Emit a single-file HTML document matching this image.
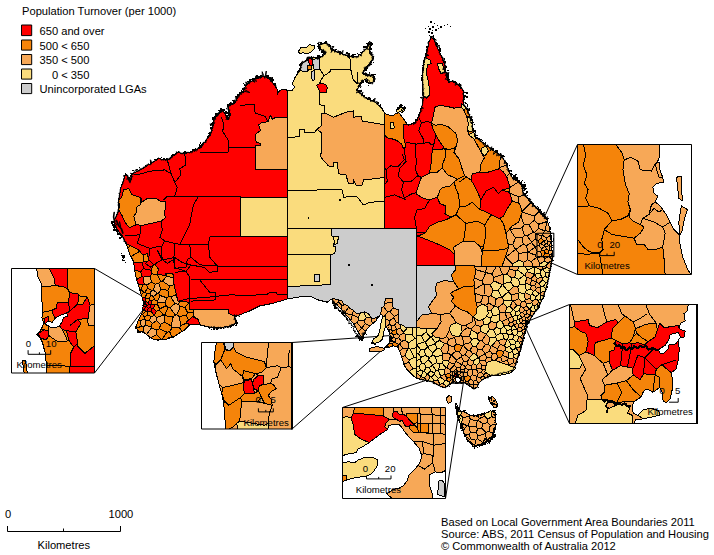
<!DOCTYPE html>
<html><head><meta charset="utf-8"><title>Population Turnover</title>
<style>
html,body{margin:0;padding:0;background:#fff}
svg{display:block}
text{font-family:"Liberation Sans",sans-serif;fill:#000}
.t{font-size:11.15px}
.s{font-size:9.6px}
polygon,polyline,path,line,rect{stroke-linejoin:round}
.b{stroke:#000;stroke-width:1}
.n{stroke:none}
.ln{fill:none;stroke:#000;stroke-width:1}
</style></head><body>
<svg width="714" height="555" viewBox="0 0 714 555">
<rect x="0" y="0" width="714" height="555" fill="#fff" stroke="none"/>

<g id="leaders"><line class="ln" x1="94.5" y1="268.5" x2="141.5" y2="295.8"/><line class="ln" x1="94.5" y1="373" x2="142.8" y2="310.2"/><line class="ln" x1="292" y1="342.5" x2="389.5" y2="335.6"/><line class="ln" x1="292" y1="429" x2="386.5" y2="346"/><line class="ln" x1="342.5" y1="407.5" x2="452.4" y2="371.8"/><line class="ln" x1="445.5" y1="498.5" x2="463.3" y2="383.3"/><line class="ln" x1="569.5" y1="304.5" x2="526" y2="322"/><line class="ln" x1="569.5" y1="423.5" x2="526" y2="328.7"/><line class="ln" x1="577.5" y1="144.5" x2="537" y2="233.3"/><line class="ln" x1="577.5" y1="274.5" x2="537" y2="256.6"/></g>
<g id="map" shape-rendering="crispEdges">
<polygon class="b" fill="#ff0000" points="287.2,90.3 284.4,89.2 281.0,90.0 279.0,91.4 277.5,94.0 277.8,90.0 275.7,87.0 271.4,80.5 264.9,76.2 256.2,78.4 250.8,81.6 245.4,86.0 243.3,91.4 237.9,95.7 236.5,100.0 234.6,103.3 228.1,106.5 230.3,114.0 228.1,119.5 223.8,111.9 222.7,109.7 219.5,113.0 214.0,118.4 213.0,124.9 210.8,133.5 206.5,140.0 200.0,148.0 196.0,150.0 185.0,153.7 177.0,152.5 171.0,158.0 167.3,160.0 158.6,158.7 152.4,162.5 142.4,168.7 132.4,173.7 130.0,182.0 127.4,175.5 125.0,176.0 121.0,187.4 118.7,200.0 118.7,210.0 113.7,222.3 117.5,230.0 122.4,236.0 126.0,243.5 130.0,254.7 133.7,262.0 135.0,272.4 137.4,282.4 141.0,293.6 143.6,302.4 142.4,312.3 137.4,322.3 136.0,327.3 138.6,331.0 143.6,332.3 150.0,337.3 154.8,339.8 164.8,339.8 174.8,336.0 184.8,329.8 189.7,324.8 199.7,324.8 209.7,327.3 219.7,327.8 229.7,326.0 235.9,323.5 234.6,317.3 239.6,314.8 249.6,311.0 259.6,306.0 272.5,303.4 287.4,299.0 287.3,299.0 287.3,90.3"/>
<polygon class="b" fill="#fadc7d" points="384.6,113.5 384.0,112.1 380.7,107.2 374.2,101.5 367.7,99.1 361.2,94.2 357.2,90.2 358.8,85.3 362.9,80.4 366.9,78.8 368.5,83.7 373.4,82.0 373.4,75.6 367.5,75.4 362.9,73.9 364.5,69.1 370.2,63.4 373.4,57.7 369.4,52.0 370.2,47.2 371.0,42.3 366.1,48.8 361.2,53.7 356.4,56.9 349.9,56.9 343.4,54.5 336.9,52.0 332.0,50.4 329.6,45.5 325.6,43.1 318.3,44.7 320.7,48.8 325.6,52.8 323.1,56.1 319.1,57.7 309.3,57.7 304.5,61.8 300.4,65.0 300.4,69.9 298.0,73.1 294.7,78.0 292.3,83.7 294.5,87.0 292.3,90.2 287.2,90.3 287.3,90.3 287.3,228.5 384.6,228.5"/>
<polygon class="b" fill="#cccccc" points="287.3,228.5 416.6,228.5 416.6,327.7 405.6,327.7 403.1,325.2 399.0,324.3 398.6,309.4 393.2,308.6 392.3,298.6 385.4,298.6 384.0,306.1 381.6,307.8 380.7,313.6 379.9,315.2 376.6,317.7 371.6,318.5 369.1,314.4 365.0,311.9 361.7,312.7 356.7,313.6 353.4,310.2 350.0,308.6 347.6,305.3 343.4,304.4 342.6,301.1 337.6,299.5 332.3,298.6 327.3,302.2 317.3,299.7 309.9,296.0 297.4,297.2 287.3,299.0"/>
<polygon class="b" fill="#f5840a" points="552.0,260.0 552.0,249.7 550.8,237.3 549.6,227.3 547.0,219.8 542.0,214.8 535.9,207.3 529.0,200.5 523.2,193.3 521.8,184.7 517.0,181.0 513.1,178.9 510.5,174.0 508.8,170.3 505.9,163.1 501.6,155.9 494.4,151.5 487.2,145.8 481.5,141.5 478.5,139.0 474.8,137.2 472.3,127.2 469.8,116.0 466.0,108.0 463.5,104.8 464.0,98.0 463.5,91.0 459.8,86.1 452.3,81.1 448.6,82.3 446.5,76.0 444.9,64.9 441.0,55.0 437.4,47.4 433.7,38.7 431.2,37.5 428.7,42.4 426.2,55.0 423.7,62.4 422.4,77.3 423.7,92.3 422.4,104.8 418.7,117.2 413.7,124.7 407.5,124.7 403.4,118.5 398.4,112.2 392.0,116.0 384.6,113.5 384.6,228.5 416.6,228.5 416.6,266.0 545.0,266.0 552.0,260.0"/>
<polygon class="b" fill="#f7a857" points="416.6,266.0 545.0,266.0 552.0,260.0 549.6,272.5 547.0,285.0 543.4,297.4 538.4,307.4 532.2,316.0 527.2,324.8 524.7,332.3 522.2,342.3 519.7,352.3 517.2,359.7 514.7,367.2 511.0,371.0 499.7,373.5 489.8,376.0 482.3,379.7 479.0,383.0 477.3,386.9 474.0,389.1 469.5,385.8 463.9,382.4 458.0,383.0 453.0,381.5 450.4,384.1 444.8,387.5 438.1,385.2 432.5,381.8 422.4,379.7 417.0,378.2 416.6,378.2"/>
<polygon class="b" fill="#f7a857" points="287.3,117.3 275.7,117.3 272.5,119.5 270.3,115.2 268.1,121.6 261.6,122.7 258.4,124.9 260.6,130.3 255.2,134.6 256.2,142.2 260.6,143.3 260.6,145.4 255.2,145.4 255.2,169.0 287.3,169.0"/>
<polygon class="b" fill="#fadc7d" points="240.9,197.4 287.3,197.4 287.3,236.8 240.9,236.8"/>
<polygon class="b" fill="#f5840a" points="123.7,189.5 128.8,188.8 131.7,194.6 141.0,197.5 140.3,204.7 136.0,207.6 136.0,213.3 133.8,216.2 136.0,224.8 129.5,227.7 125.9,223.4 121.6,214.8 118.7,210.0 119.4,206.1 118.7,200.0 121.6,197.5"/>
<polygon class="b" fill="#f7a857" points="141.0,197.5 141.0,202.5 146.8,198.9 155.4,198.2 160.5,201.1 165.5,201.8 165.5,209.0 164.1,211.9 165.5,217.6 161.2,221.2 154.0,222.7 141.0,225.6 136.0,224.1 133.8,216.2 136.0,213.3 136.0,207.6 140.3,204.7"/>
<polygon class="b" fill="#f7a857" points="193.5,309.8 228.4,309.8 228.4,313.5 234.6,316.0 234.6,317.3 235.9,323.5 229.7,326.0 219.7,327.8 209.7,327.3 199.7,324.8 198.5,319.8 193.5,316.0"/>
<polygon class="b" fill="#f7a857" points="324.4,113.0 326.0,113.5 333.5,117.2 346.0,112.2 353.5,111.0 353.5,117.2 361.0,116.0 362.2,121.0 384.6,124.7 384.6,177.4 363.5,180.0 362.2,185.0 356.0,185.0 353.5,180.0 353.5,183.7 348.5,183.7 346.0,175.0 338.5,173.7 337.3,162.5 333.5,162.5 333.5,166.0 328.6,166.0 321.0,157.5 321.1,132.5 316.8,129.2 321.1,126.0 321.1,114.0"/>
<polygon class="b" fill="#fadc7d" points="298.0,52.0 301.2,47.2 306.1,48.0 309.3,44.7 314.2,45.5 314.2,48.8 311.0,52.0 307.7,53.7 302.8,52.8 300.4,53.7"/>
<polygon class="b" fill="#cccccc" points="300.4,65.0 304.5,61.8 309.3,59.3 309.3,69.9 306.9,71.5 302.8,71.5 300.4,69.9"/>
<polygon class="b" fill="#cccccc" points="311.8,59.3 319.9,58.5 319.9,69.1 314.2,69.9 313.4,65.0"/>
<polygon class="b" fill="#cccccc" points="311.0,71.5 314.2,70.7 315.0,79.6 312.6,80.4 311.0,75.6"/>
<polygon class="b" fill="#ff0000" points="308.5,59.3 311.8,57.7 312.6,65.0 309.3,65.0"/>
<polygon class="b" fill="#f5840a" points="307.7,65.8 311.0,65.8 311.0,69.9 307.7,69.9"/>
<polygon class="b" fill="#ff0000" points="316.6,85.3 320.7,82.9 325.6,84.5 327.2,87.7 326.4,92.6 319.9,92.6 318.3,88.5"/>
<polygon class="b" fill="#fadc7d" points="287.3,228.5 331.8,228.5 331.8,236.0 334.8,237.3 333.5,246.0 336.0,247.2 334.8,253.5 330.6,254.7 287.3,254.7"/>
<polygon class="b" fill="#fadc7d" points="287.3,254.7 330.6,254.7 330.6,284.6 287.3,286.6"/>
<polygon class="b" fill="#cccccc" points="314.4,274.7 319.3,274.7 319.3,281.6 314.4,281.6"/>
<polygon class="b" fill="#ff0000" points="403.4,124.3 408.8,125.2 415.0,122.5 418.7,116.2 421.4,107.2 422.4,104.8 423.7,92.3 422.4,77.3 423.7,62.4 426.2,55.0 428.7,42.4 431.2,37.5 433.7,38.7 437.4,47.4 441.0,55.0 444.9,64.9 446.5,76.0 448.6,82.3 452.3,81.1 459.8,86.1 463.5,91.0 464.0,98.0 463.5,104.8 461.0,107.2 453.9,108.1 446.7,106.3 439.5,105.4 435.0,107.2 433.2,116.2 431.4,123.4 433.2,129.7 435.9,135.1 439.5,141.4 444.0,147.7 441.3,149.5 432.3,149.5 431.4,161.3 429.5,173.0 421.4,177.5 418.7,184.7 416.0,193.7 421.4,197.3 428.7,200.0 437.4,197.4 439.9,203.6 446.0,206.0 444.9,213.6 451.0,217.3 446.0,219.8 437.4,222.3 429.9,226.0 424.9,233.5 417.5,236.0 433.7,242.3 449.9,249.7 454.8,254.7 454.8,266.0 416.6,266.0 416.6,228.5 384.6,228.5 384.6,134.7 387.2,137.8 391.7,138.7 397.0,140.5 401.6,144.0 403.4,148.6 406.0,146.8 403.4,136.0"/>
<polygon class="b" fill="#fadc7d" points="390.0,122.5 393.5,122.5 394.4,128.0 390.8,128.8"/>
<polygon class="b" fill="#fadc7d" points="424.9,57.4 429.9,60.0 431.2,63.6 427.4,64.9 426.2,73.6 428.7,82.3 429.9,94.8 426.2,98.5 422.9,94.8 422.4,77.3 423.7,64.9"/>
<polygon class="b" fill="#fadc7d" points="437.4,63.6 442.4,63.6 444.9,72.3 441.0,73.6 438.6,68.6"/>
<polygon class="b" fill="#fadc7d" points="461.5,103.5 465.3,107.3 464.8,111.0 461.8,108.5"/>
<polygon class="b" fill="#fadc7d" points="467.3,116.0 472.3,119.7 472.3,131.0 468.6,132.0 466.8,124.7"/>
<polygon class="b" fill="#fadc7d" points="468.6,134.7 473.5,132.0 476.0,138.4 471.0,141.0"/>
<polygon class="b" fill="#fadc7d" points="481.0,148.4 486.0,146.0 488.5,151.0 484.8,156.0 481.8,153.4"/>
<polygon class="b" fill="#f7a857" points="435.0,107.2 439.5,105.4 446.7,106.3 453.9,108.1 461.0,107.2 463.8,110.0 466.5,116.2 468.3,123.4 467.4,130.6 469.2,135.1 473.7,138.7 477.3,145.0 481.0,152.3 484.5,157.7 481.0,163.7 479.8,172.4 472.3,173.7 471.0,180.0 464.7,175.7 462.0,168.5 459.3,159.5 453.9,152.3 456.6,146.0 457.5,139.6 455.7,133.3 448.5,127.0 441.3,124.3 435.9,125.2 431.4,123.4 433.2,116.2"/>
<polygon class="b" fill="#f7a857" points="429.5,173.0 437.7,172.0 442.2,167.6 447.6,174.8 452.0,176.6 457.5,179.3 453.9,182.0 449.9,186.0 442.2,187.5 439.9,190.0 437.4,197.4 428.7,200.0 421.4,197.3 416.0,193.7 418.7,184.7 421.4,177.5"/>
<polygon class="b" fill="#f7a857" points="453.6,247.2 463.6,241.0 473.5,241.0 479.8,246.0 482.3,252.2 481.0,266.0 454.8,266.0 454.8,254.7"/>
<polygon class="b" fill="#ff0000" points="472.3,173.7 479.8,172.4 487.3,172.4 494.8,170.0 499.7,168.7 503.8,172.4 507.0,177.4 509.5,183.2 509.7,188.0 502.2,190.0 498.5,193.6 493.5,187.4 486.0,191.1 481.0,199.9 474.8,186.2 471.0,180.0"/>
<polygon class="b" fill="#ff0000" points="481.0,199.9 486.0,191.1 493.5,187.4 498.5,193.6 502.2,190.0 509.7,192.4 512.2,201.1 507.2,208.6 503.5,216.0 499.7,218.6 491.0,214.8 484.8,211.1 479.8,209.8"/>
<polygon class="n" fill="#000" shape-rendering="crispEdges" points="430.5,32.0 432.5,32.0 432.5,34.0 430.5,34.0"/>
<polygon class="n" fill="#000" shape-rendering="crispEdges" points="429.3,28.3 430.7,28.3 430.7,29.7 429.3,29.7"/>
<polygon class="n" fill="#000" shape-rendering="crispEdges" points="432.2,26.2 433.8,26.2 433.8,27.8 432.2,27.8"/>
<polygon class="n" fill="#000" shape-rendering="crispEdges" points="435.4,29.4 436.6,29.4 436.6,30.6 435.4,30.6"/>
<polygon class="n" fill="#000" shape-rendering="crispEdges" points="437.9,27.9 439.1,27.9 439.1,29.1 437.9,29.1"/>
<polygon class="n" fill="#000" shape-rendering="crispEdges" points="440.4,26.4 441.6,26.4 441.6,27.6 440.4,27.6"/>
<polygon class="n" fill="#000" shape-rendering="crispEdges" points="443.5,24.5 444.5,24.5 444.5,25.5 443.5,25.5"/>
<polygon class="n" fill="#000" shape-rendering="crispEdges" points="446.5,24.0 447.5,24.0 447.5,25.0 446.5,25.0"/>
<polygon class="n" fill="#000" shape-rendering="crispEdges" points="427.5,25.5 428.5,25.5 428.5,26.5 427.5,26.5"/>
<polygon class="n" fill="#000" shape-rendering="crispEdges" points="430.4,21.4 431.6,21.4 431.6,22.6 430.4,22.6"/>
<polygon class="n" fill="#000" shape-rendering="crispEdges" points="433.5,22.5 434.5,22.5 434.5,23.5 433.5,23.5"/>
<polygon class="n" fill="#000" shape-rendering="crispEdges" points="428.6,34.6 430.4,34.6 430.4,36.4 428.6,36.4"/>
<polygon class="n" fill="#000" shape-rendering="crispEdges" points="424.5,27.5 425.5,27.5 425.5,28.5 424.5,28.5"/>
<polygon class="n" fill="#000" shape-rendering="crispEdges" points="449.5,25.5 450.5,25.5 450.5,26.5 449.5,26.5"/>
<polygon class="n" fill="#000" shape-rendering="crispEdges" points="436.5,24.5 437.5,24.5 437.5,25.5 436.5,25.5"/>
<polygon class="n" fill="#000" shape-rendering="crispEdges" points="431.8,29.8 433.2,29.8 433.2,31.2 431.8,31.2"/>
<polygon class="n" fill="#000" shape-rendering="crispEdges" points="428.4,31.4 429.6,31.4 429.6,32.6 428.4,32.6"/>
<polygon class="b" fill="#fadc7d" points="396.2,109.8 399.5,107.8 402.4,107.3 404.3,110.5 402.0,112.5 400.0,111.5 397.5,113.2"/>
<polygon class="n" fill="#000" points="338.8,199.0 340.8,199.0 340.8,201.0 338.8,201.0"/>
<polygon class="n" fill="#000" points="307.9,217.4 309.1,217.4 309.1,218.6 307.9,218.6"/>
<polygon class="n" fill="#000" points="348.4,264.4 350.2,264.4 350.2,266.2 348.4,266.2"/>
<polygon class="n" fill="#000" points="371.3,283.8 373.1,283.8 373.1,285.6 371.3,285.6"/>
<polygon class="n" fill="#000" points="427.4,289.6 429.2,289.6 429.2,291.4 427.4,291.4"/>
<polygon class="n" fill="#000" points="420.7,300.0 422.3,300.0 422.3,301.6 420.7,301.6"/>
<polygon class="b" fill="#fadc7d" points="333.5,236.8 338.5,236.8 337.3,243.5 334.8,244.7"/>
<polygon class="b" fill="#f7a857" points="506.6,274.2 509.7,268.8 508.8,266.0 499.1,266.0 502.5,274.4 503.7,275.0"/>
<polygon class="b" fill="#f7a857" points="490.9,310.6 494.2,306.1 488.8,303.1 485.2,305.5 487.3,306.7 487.3,306.7 487.3,306.7 487.3,306.7 487.3,306.7 487.3,306.7 487.3,306.7 487.3,306.7 487.3,306.7 487.3,306.7 487.8,310.4"/>
<polygon class="b" fill="#f7a857" points="476.5,369.3 476.9,368.7 476.6,365.1 473.2,363.6 471.0,365.8 471.4,369.3 472.5,370.1"/>
<polygon class="b" fill="#fadc7d" points="494.9,305.9 494.2,306.1 490.9,310.6 492.9,315.2 499.0,314.9 500.2,313.0 498.1,307.4"/>
<polygon class="b" fill="#f7a857" points="549.0,262.6 546.8,264.5 546.8,267.3 550.2,269.3 551.3,263.9"/>
<polygon class="b" fill="#fadc7d" points="530.1,298.8 532.2,301.2 535.7,299.1 535.8,296.7 532.3,294.2 530.6,295.1"/>
<polygon class="b" fill="#f7a857" points="456.2,367.5 460.2,367.4 461.5,364.6 456.2,361.4 454.4,363.8 454.4,365.2"/>
<polygon class="b" fill="#f7a857" points="498.1,307.4 500.2,313.0 504.7,312.6 505.2,312.2 506.9,307.2 503.6,303.2"/>
<polygon class="b" fill="#f7a857" points="485.7,272.4 485.9,272.6 491.6,274.1 496.7,266.0 486.6,266.0"/>
<polygon class="b" fill="#f7a857" points="504.7,312.6 507.4,318.7 507.8,318.8 511.7,316.6 510.5,312.9 505.2,312.2"/>
<polygon class="b" fill="#f7a857" points="483.0,295.8 474.9,293.4 475.6,300.0 476.2,302.5 480.6,302.7"/>
<polygon class="b" fill="#f7a857" points="448.8,339.3 454.5,337.4 455.4,336.2 452.0,335.3 452.0,335.3 452.0,335.3 452.0,335.3 452.0,335.3 452.0,335.3 452.0,335.3 452.0,335.3 452.0,335.3 452.0,335.3 449.5,330.3 446.5,336.2"/>
<polygon class="b" fill="#f7a857" points="513.2,301.2 518.5,298.8 518.9,293.2 511.6,294.9 511.9,300.3 512.5,301.0"/>
<polygon class="b" fill="#fadc7d" points="476.1,354.1 473.0,353.9 469.2,357.8 469.4,358.8 473.0,361.1 478.2,357.5"/>
<polygon class="b" fill="#fadc7d" points="420.9,349.8 424.6,349.7 427.5,347.0 427.5,346.6 425.4,342.3 424.4,341.9 416.6,344.5 416.6,344.8"/>
<polygon class="b" fill="#fadc7d" points="516.7,334.9 518.7,336.9 520.5,336.8 523.3,333.7 521.6,331.6 518.0,331.5"/>
<polygon class="b" fill="#fadc7d" points="508.7,340.2 512.8,339.0 514.0,335.3 512.2,333.8 508.6,335.0 507.6,339.9"/>
<polygon class="b" fill="#fadc7d" points="499.0,314.9 492.9,315.2 490.6,318.0 491.1,321.3 496.1,322.9 500.0,320.3"/>
<polygon class="b" fill="#f7a857" points="485.5,344.6 481.7,340.9 479.5,340.9 476.3,346.5 478.1,349.4 482.0,349.5"/>
<polygon class="b" fill="#f7a857" points="524.3,293.4 525.2,299.3 530.1,298.8 530.6,295.1 525.3,292.8"/>
<polygon class="b" fill="#f7a857" points="467.5,350.2 469.7,350.1 473.0,346.1 470.5,342.5 463.5,344.4 463.1,345.2"/>
<polygon class="b" fill="#fadc7d" points="429.2,357.4 425.3,355.4 420.9,357.3 420.2,359.9 421.9,363.1 424.0,363.6 428.8,359.8"/>
<polygon class="b" fill="#f7a857" points="472.4,374.9 472.5,370.1 471.4,369.3 468.6,370.0 467.2,372.9 468.2,375.6 470.2,376.4"/>
<polygon class="b" fill="#f7a857" points="464.9,376.9 468.2,375.6 467.2,372.9 464.4,372.2 463.4,373.1 463.5,376.1"/>
<polygon class="b" fill="#fadc7d" points="545.1,276.4 542.4,277.8 542.7,280.0 545.7,282.9 547.4,282.9 548.5,277.8"/>
<polygon class="b" fill="#fadc7d" points="498.3,290.1 493.0,290.1 490.9,295.7 496.2,298.5 501.5,297.0"/>
<polygon class="b" fill="#f7a857" points="469.4,336.4 471.4,329.9 471.0,329.0 467.4,327.6 462.1,331.7 462.1,331.9 462.1,331.9 462.1,332.0 462.1,332.0 462.1,332.0 462.1,332.0 462.1,332.0 462.1,332.0 460.3,334.7 462.6,337.0"/>
<polygon class="b" fill="#f7a857" points="481.7,340.9 485.5,344.6 488.3,344.7 489.9,337.7 486.2,334.4"/>
<polygon class="b" fill="#fadc7d" points="430.5,337.1 425.4,342.3 427.5,346.6 435.1,343.8 435.5,342.6 431.2,337.1"/>
<polygon class="b" fill="#f7a857" points="416.7,284.3 416.7,272.9 416.6,272.9 416.6,284.3"/>
<polygon class="b" fill="#fadc7d" points="420.8,376.2 423.4,371.4 420.3,369.9 416.6,372.4 416.6,373.0"/>
<polygon class="b" fill="#f7a857" points="503.4,283.8 503.7,275.0 502.5,274.4 494.0,277.3 493.9,280.8 502.4,284.8 502.7,284.8"/>
<polygon class="b" fill="#f7a857" points="484.1,324.0 482.5,319.5 478.9,321.0 478.9,321.0 478.9,321.0 478.9,321.0 478.9,321.0 478.9,321.0 478.9,321.0 478.9,321.0 478.9,321.0 478.9,321.0 478.9,321.0 474.9,318.2 475.2,324.6 480.6,326.7"/>
<polygon class="b" fill="#f7a857" points="529.8,284.1 531.9,280.3 531.3,278.6 526.4,277.4 525.6,283.9"/>
<polygon class="b" fill="#f7a857" points="491.6,274.1 485.9,272.6 482.1,281.2 483.3,284.1 484.3,284.8 490.2,284.9 493.9,280.8 494.0,277.3"/>
<polygon class="b" fill="#fadc7d" points="435.7,356.7 436.5,362.7 439.5,363.9 441.9,363.0 443.2,360.6 442.1,355.2"/>
<polygon class="b" fill="#f7a857" points="491.0,357.9 486.9,357.7 485.4,360.4 486.5,363.0 486.5,362.5 486.5,362.5 486.5,362.5 486.5,362.5 486.5,362.5 486.5,362.5 486.5,362.5 486.5,362.5 486.5,362.5 486.5,362.5 486.6,362.5 486.6,362.5 492.8,360.5"/>
<polygon class="b" fill="#f7a857" points="451.1,354.9 451.4,354.9 455.3,351.6 454.2,346.4 448.9,345.7 447.7,353.0"/>
<polygon class="b" fill="#f7a857" points="508.7,364.8 507.5,360.5 502.3,361.4 501.7,362.8 508.5,365.3"/>
<polygon class="b" fill="#fadc7d" points="518.8,319.4 518.0,319.2 516.0,320.6 516.9,323.5 518.9,324.2 520.6,322.9"/>
<polygon class="b" fill="#f7a857" points="468.5,381.0 469.5,384.4 473.1,384.3 473.4,381.2 470.3,379.0"/>
<polygon class="b" fill="#fadc7d" points="513.7,286.6 517.6,286.9 519.7,284.3 518.6,279.4 514.8,277.1 511.9,278.1 510.6,281.8"/>
<polygon class="b" fill="#fadc7d" points="439.5,363.9 436.5,362.7 432.7,364.7 432.4,365.4 436.2,370.5 438.4,370.2 438.7,369.9"/>
<polygon class="b" fill="#f7a857" points="476.9,376.3 478.2,373.3 476.5,369.3 472.5,370.1 472.4,374.9"/>
<polygon class="b" fill="#fadc7d" points="530.7,289.2 531.2,285.7 529.8,284.1 525.6,283.9 524.8,284.5 526.4,290.5"/>
<polygon class="b" fill="#fadc7d" points="434.2,380.8 437.7,379.8 438.5,378.2 434.1,374.3 431.4,376.9"/>
<polygon class="b" fill="#f7a857" points="470.3,379.0 473.4,381.2 476.1,379.8 477.2,376.8 476.9,376.3 472.4,374.9 470.2,376.4"/>
<polygon class="b" fill="#fadc7d" points="486.1,333.9 489.6,329.4 487.9,324.9 484.1,324.0 480.6,326.7 481.0,331.5"/>
<polygon class="b" fill="#f7a857" points="483.3,284.1 482.1,281.2 474.4,277.9 473.9,279.8 474.7,285.7 474.7,285.7 474.7,289.2"/>
<polygon class="b" fill="#fadc7d" points="419.4,366.0 421.9,363.1 420.2,359.9 416.6,360.1 416.6,366.1"/>
<polygon class="b" fill="#fadc7d" points="511.9,330.3 512.2,333.8 514.0,335.3 516.7,334.9 518.0,331.5 516.8,329.1"/>
<polygon class="b" fill="#fadc7d" points="426.0,332.1 430.5,337.1 431.2,337.1 433.4,335.1 431.8,333.6 431.8,333.6 431.8,333.6 431.8,333.6 431.8,333.6 431.8,333.6 431.8,333.6 431.8,333.6 431.8,333.6 431.8,333.6 431.8,333.6 431.8,333.6 431.8,333.6 431.8,333.6 431.8,333.6 431.8,333.6 431.8,333.6 436.9,328.6 426.8,328.6 426.8,328.6 426.4,328.6"/>
<polygon class="b" fill="#f7a857" points="520.6,322.9 518.9,324.2 519.0,326.9 521.4,327.5 523.3,325.5 522.8,324.0 521.3,322.9"/>
<polygon class="b" fill="#fadc7d" points="502.2,321.5 500.0,320.3 496.1,322.9 496.3,327.4 500.9,328.8 503.9,326.4 504.0,325.9"/>
<polygon class="b" fill="#f7a857" points="489.8,351.0 490.4,346.2 488.3,344.7 485.5,344.6 482.0,349.5 485.0,353.6"/>
<polygon class="b" fill="#f7a857" points="541.1,292.2 540.1,293.7 541.1,295.0 543.8,295.9 545.3,291.0"/>
<polygon class="b" fill="#fadc7d" points="440.7,349.3 437.2,348.2 432.7,353.0 432.8,355.1 435.7,356.7 442.1,355.2 443.1,353.7"/>
<polygon class="b" fill="#fadc7d" points="443.2,383.6 446.4,386.5 449.5,384.6 449.1,382.2 446.1,379.9 444.7,380.3"/>
<polygon class="b" fill="#f7a857" points="475.2,324.6 474.9,318.2 473.0,316.8 472.2,321.9 472.2,321.9 472.2,321.9 472.2,321.9 472.2,321.9 472.2,321.9 472.2,321.9 472.2,321.9 472.2,321.9 472.2,321.9 472.2,321.9 466.2,324.9 467.4,327.6 471.0,329.0"/>
<polygon class="b" fill="#f7a857" points="497.9,349.9 497.5,348.6 491.9,345.9 490.4,346.2 489.8,351.0 492.3,353.7 496.0,353.4"/>
<polygon class="b" fill="#fadc7d" points="424.2,371.2 427.4,374.0 430.5,371.3 429.7,367.5 426.2,367.2"/>
<polygon class="b" fill="#f7a857" points="490.9,295.7 493.0,290.1 490.2,284.9 484.3,284.8 484.0,295.3 488.8,296.6"/>
<polygon class="b" fill="#fadc7d" points="541.1,270.2 539.9,273.0 541.9,277.5 542.4,277.8 545.1,276.4 546.1,272.8 542.4,269.5"/>
<polygon class="b" fill="#f7a857" points="525.3,317.2 527.6,317.9 530.3,315.2 530.0,314.6 527.1,313.6 524.8,315.3 524.6,316.5"/>
<polygon class="b" fill="#f7a857" points="482.0,365.4 481.0,368.4 482.2,370.0 485.2,369.8 486.1,365.0"/>
<polygon class="b" fill="#f7a857" points="460.2,367.4 461.0,369.1 464.0,369.5 465.6,368.1 465.6,366.6 461.8,364.5 461.5,364.6"/>
<polygon class="b" fill="#fadc7d" points="510.9,344.3 514.9,344.3 516.0,342.0 512.8,339.0 508.7,340.2"/>
<polygon class="b" fill="#fadc7d" points="516.0,342.0 514.9,344.3 515.9,348.1 516.1,348.1 521.1,346.5 519.2,342.2 517.4,341.4"/>
<polygon class="b" fill="#fadc7d" points="424.0,363.6 421.9,363.1 419.4,366.0 420.3,369.9 423.4,371.4 424.2,371.2 426.2,367.2"/>
<polygon class="b" fill="#fadc7d" points="505.5,347.4 504.9,350.3 509.1,352.6 512.2,351.6 512.7,350.2 509.5,346.7"/>
<polygon class="b" fill="#fadc7d" points="496.9,339.9 495.5,337.2 489.9,337.7 488.3,344.7 490.4,346.2 491.9,345.9"/>
<polygon class="b" fill="#f7a857" points="503.3,351.5 504.9,350.3 505.5,347.4 504.6,345.6 500.2,344.5 497.5,348.6 497.9,349.9"/>
<polygon class="b" fill="#f7a857" points="517.4,341.4 519.2,342.2 522.5,340.9 522.9,339.3 520.5,336.8 518.7,336.9"/>
<polygon class="b" fill="#fadc7d" points="504.0,300.9 511.9,300.3 511.6,294.9 508.2,291.7 502.0,297.2"/>
<polygon class="b" fill="#fadc7d" points="486.2,316.4 484.8,318.5 484.8,318.5 484.8,318.5 484.8,318.5 484.8,318.5 484.8,318.5 484.8,318.5 482.5,319.5 484.1,324.0 487.9,324.9 491.1,321.3 490.6,318.0"/>
<polygon class="b" fill="#f7a857" points="482.1,281.2 485.9,272.6 485.7,272.4 475.2,269.6 475.6,273.1 475.6,273.1 475.6,273.1 475.6,273.1 475.6,273.1 474.4,277.9"/>
<polygon class="b" fill="#f7a857" points="540.4,287.4 540.9,286.7 539.3,283.3 536.5,282.5 534.8,285.5 536.3,288.2"/>
<polygon class="b" fill="#f5840a" points="445.2,374.4 446.7,378.3 450.0,377.1 450.6,375.3 449.8,373.6"/>
<polygon class="b" fill="#fadc7d" points="420.2,359.9 420.9,357.3 418.4,353.7 416.6,353.6 416.6,360.1"/>
<polygon class="b" fill="#f7a857" points="526.4,277.4 531.3,278.6 534.3,274.7 534.3,274.3 527.2,271.6 524.9,275.0"/>
<polygon class="b" fill="#fadc7d" points="541.1,295.0 540.1,293.7 539.2,293.7 535.8,296.7 535.7,299.1 538.3,300.5 540.4,299.3"/>
<polygon class="b" fill="#f7a857" points="456.7,379.9 455.6,378.9 454.1,378.8 453.1,379.7 453.7,381.7 456.5,382.6"/>
<polygon class="b" fill="#f7a857" points="468.5,381.0 465.8,381.1 465.0,383.1 468.8,385.4 469.5,384.4"/>
<polygon class="b" fill="#f7a857" points="517.5,270.0 519.3,266.0 508.8,266.0 509.7,268.8 516.1,270.9"/>
<polygon class="b" fill="#fadc7d" points="515.9,315.2 512.7,316.9 514.0,320.2 516.0,320.6 518.0,319.2 516.9,315.7"/>
<polygon class="b" fill="#f7a857" points="461.2,357.0 461.8,355.5 459.5,352.0 455.3,351.6 451.4,354.9 456.4,360.0"/>
<polygon class="b" fill="#fadc7d" points="519.3,310.8 515.6,311.5 515.9,315.2 516.9,315.7 519.8,314.8 520.7,312.6"/>
<polygon class="b" fill="#f7a857" points="533.2,291.2 535.3,290.5 536.3,288.2 534.8,285.5 531.2,285.7 530.7,289.2"/>
<polygon class="b" fill="#f7a857" points="508.1,357.8 502.9,355.3 500.6,357.3 502.3,361.4 507.5,360.5 508.4,358.4"/>
<polygon class="b" fill="#fadc7d" points="508.2,291.3 513.7,286.6 510.6,281.8 503.4,283.8 502.7,284.8"/>
<polygon class="b" fill="#f7a857" points="442.1,355.2 443.2,360.6 448.5,361.0 451.1,354.9 447.7,353.0 443.1,353.7"/>
<polygon class="b" fill="#fadc7d" points="440.2,377.1 438.5,378.2 437.7,379.8 439.8,384.2 443.2,383.6 444.7,380.3"/>
<polygon class="b" fill="#f5840a" points="468.2,375.6 464.9,376.9 464.8,379.9 465.8,381.1 468.5,381.0 470.3,379.0 470.2,376.4"/>
<polygon class="b" fill="#fadc7d" points="539.3,283.3 540.9,286.7 543.4,286.4 545.7,282.9 542.7,280.0"/>
<polygon class="b" fill="#f7a857" points="504.0,300.9 502.0,297.2 501.5,297.0 496.2,298.5 494.9,305.9 498.1,307.4 503.6,303.2"/>
<polygon class="b" fill="#fadc7d" points="517.5,270.0 524.3,275.1 524.9,275.0 527.2,271.6 527.3,270.1 525.1,266.0 519.3,266.0"/>
<polygon class="b" fill="#fadc7d" points="426.0,332.1 426.4,328.6 417.3,327.8 416.6,328.2 416.6,335.0 421.4,335.8"/>
<polygon class="b" fill="#fadc7d" points="438.5,378.2 440.2,377.1 440.6,376.2 438.4,370.2 436.2,370.5 434.2,372.6 434.1,374.3"/>
<polygon class="b" fill="#f7a857" points="448.5,361.0 449.3,362.5 454.4,363.8 456.2,361.4 456.4,360.0 451.4,354.9 451.1,354.9"/>
<polygon class="b" fill="#f7a857" points="524.3,329.0 522.4,329.6 521.6,331.6 523.3,333.7 524.3,333.9 524.7,332.3 525.5,329.9"/>
<polygon class="b" fill="#f7a857" points="420.9,376.8 420.8,376.2 416.6,373.0 416.6,378.2 417.0,378.2 419.6,378.9"/>
<polygon class="b" fill="#f7a857" points="485.7,272.4 486.6,266.0 474.8,266.0 475.2,269.6"/>
<polygon class="b" fill="#fadc7d" points="524.8,284.5 519.7,284.3 517.6,286.9 519.3,292.8 524.3,293.4 525.3,292.8 526.4,290.5"/>
<polygon class="b" fill="#fadc7d" points="496.3,327.4 493.4,330.0 496.1,335.4 501.0,332.9 500.9,328.8"/>
<polygon class="b" fill="#fadc7d" points="477.0,338.3 477.5,333.6 471.4,329.9 469.4,336.4 471.5,339.2"/>
<polygon class="b" fill="#fadc7d" points="424.4,341.9 421.4,335.8 416.6,335.0 416.6,344.5"/>
<polygon class="b" fill="#f7a857" points="513.5,357.7 512.8,358.4 513.9,362.8 515.8,364.0 517.2,359.7 517.6,358.4"/>
<polygon class="b" fill="#f7a857" points="443.2,383.6 439.8,384.2 439.2,385.6 444.8,387.5 446.4,386.5"/>
<polygon class="b" fill="#f7a857" points="484.0,295.3 483.0,295.8 480.6,302.7 482.0,304.7 483.1,304.2 483.1,304.2 483.1,304.2 483.1,304.2 483.1,304.2 483.1,304.2 483.1,304.2 483.1,304.2 483.1,304.2 483.1,304.2 483.1,304.2 485.2,305.5 488.8,303.1 488.8,296.6"/>
<polygon class="b" fill="#f7a857" points="463.7,361.2 467.1,361.4 469.4,358.8 469.2,357.8 465.2,354.7 461.8,355.5 461.2,357.0"/>
<polygon class="b" fill="#f7a857" points="485.6,378.1 487.9,376.9 488.1,374.1 486.5,372.9 483.4,374.7 483.3,375.7"/>
<polygon class="b" fill="#fadc7d" points="493.9,280.8 490.2,284.9 493.0,290.1 498.3,290.1 502.4,284.8"/>
<polygon class="b" fill="#f7a857" points="499.0,314.9 500.0,320.3 502.2,321.5 507.4,318.7 504.7,312.6 500.2,313.0"/>
<polygon class="b" fill="#f7a857" points="439.6,340.4 444.5,343.4 446.9,343.1 448.8,339.3 446.5,336.2 446.1,337.0 446.1,337.0 446.1,337.0 446.1,337.0 446.1,337.0 446.1,337.0 446.1,337.0 446.1,337.0 442.8,338.7 442.8,338.7 442.8,338.7 442.8,338.7 442.8,338.7 442.8,338.7 442.8,338.7 442.8,338.7 439.8,338.0"/>
<polygon class="b" fill="#fadc7d" points="420.3,369.9 419.4,366.0 416.6,366.1 416.6,372.4"/>
<polygon class="b" fill="#f7a857" points="521.4,327.5 522.4,329.6 524.3,329.0 525.1,326.6 525.0,326.3 523.3,325.5"/>
<polygon class="b" fill="#f7a857" points="448.9,345.7 454.2,346.4 456.4,344.3 454.5,337.4 448.8,339.3 446.9,343.1"/>
<polygon class="b" fill="#f7a857" points="516.9,305.5 520.0,305.7 521.6,301.7 518.5,298.8 513.2,301.2"/>
<polygon class="b" fill="#f7a857" points="535.7,299.1 532.2,301.2 531.9,302.8 533.1,305.0 533.8,305.3 536.9,304.8 538.5,302.5 538.3,300.5"/>
<polygon class="b" fill="#f7a857" points="430.2,376.9 427.4,374.1 424.5,377.6 425.9,380.4 427.8,380.8"/>
<polygon class="b" fill="#fadc7d" points="434.2,380.8 431.4,376.9 430.2,376.9 427.8,380.8 432.5,381.8 433.2,382.2"/>
<polygon class="b" fill="#fadc7d" points="512.8,358.4 513.5,357.7 514.0,354.4 512.2,351.6 509.1,352.6 508.1,357.8 508.4,358.4"/>
<polygon class="b" fill="#f7a857" points="462.6,345.4 459.5,352.0 461.8,355.5 465.2,354.7 467.5,350.2 463.1,345.2"/>
<polygon class="b" fill="#f7a857" points="485.4,360.4 479.9,360.1 479.6,362.7 482.0,365.4 486.1,365.0 486.5,363.0"/>
<polygon class="b" fill="#f7a857" points="453.1,379.7 451.5,379.5 449.1,382.2 449.5,384.6 450.4,384.1 453.0,381.5 453.7,381.7"/>
<polygon class="b" fill="#f7a857" points="511.0,327.2 513.8,325.1 512.4,322.1 509.6,322.1 508.4,324.8"/>
<polygon class="b" fill="#f7a857" points="507.5,360.5 508.7,364.8 513.9,362.8 512.8,358.4 508.4,358.4"/>
<polygon class="b" fill="#fadc7d" points="535.0,267.0 534.3,274.3 539.9,273.0 541.1,270.2"/>
<polygon class="b" fill="#f7a857" points="492.3,353.7 491.0,357.9 492.8,360.5 494.1,360.0 494.1,360.0 494.1,360.0 494.1,360.0 494.1,360.0 494.1,360.0 494.1,360.0 494.1,360.0 495.2,360.4 498.2,357.1 496.0,353.4"/>
<polygon class="b" fill="#f7a857" points="463.5,344.4 462.6,337.0 460.3,334.7 458.7,337.0 458.7,337.0 458.7,337.0 458.7,337.0 458.7,337.0 458.7,337.0 458.7,337.0 458.7,337.0 458.7,337.0 458.7,337.0 458.7,337.0 458.7,337.0 458.7,337.0 458.7,337.0 455.4,336.2 454.5,337.4 456.4,344.3 462.6,345.4 463.1,345.2"/>
<polygon class="b" fill="#f7a857" points="524.4,310.2 523.7,307.8 520.4,306.5 519.3,310.8 520.7,312.6 522.7,312.6"/>
<polygon class="b" fill="#f7a857" points="447.7,353.0 448.9,345.7 446.9,343.1 444.5,343.4 440.7,349.3 443.1,353.7"/>
<polygon class="b" fill="#f7a857" points="476.3,346.5 473.0,346.1 469.7,350.1 473.0,353.9 476.1,354.1 478.1,349.4"/>
<polygon class="b" fill="#fadc7d" points="449.3,362.5 448.5,361.0 443.2,360.6 441.9,363.0 446.1,367.8 446.8,367.7"/>
<polygon class="b" fill="#fadc7d" points="529.7,309.0 533.1,305.0 531.9,302.8 527.0,304.1 526.6,306.0"/>
<polygon class="b" fill="#fadc7d" points="473.0,346.1 476.3,346.5 479.5,340.9 477.0,338.3 471.5,339.2 470.5,342.5"/>
<polygon class="b" fill="#f7a857" points="502.3,361.4 500.6,357.3 498.2,357.1 495.2,360.4 501.7,362.8"/>
<polygon class="b" fill="#fadc7d" points="546.1,272.8 549.7,271.8 550.2,269.3 546.8,267.3 542.5,269.5 542.4,269.5"/>
<polygon class="b" fill="#f7a857" points="503.6,338.6 498.6,340.7 500.2,344.5 504.6,345.6 506.8,340.1"/>
<polygon class="b" fill="#f7a857" points="460.6,372.4 463.4,373.1 464.4,372.2 464.0,369.5 461.0,369.1 460.1,371.3"/>
<polygon class="b" fill="#f7a857" points="531.2,310.9 529.7,309.0 526.8,311.0 527.1,313.6 530.0,314.6"/>
<polygon class="b" fill="#fadc7d" points="424.6,349.7 420.9,349.8 418.4,353.7 420.9,357.3 425.3,355.4"/>
<polygon class="b" fill="#f7a857" points="508.2,291.3 508.2,291.7 511.6,294.9 518.9,293.2 519.3,292.8 517.6,286.9 513.7,286.6"/>
<polygon class="b" fill="#f7a857" points="480.3,377.8 477.2,376.8 476.1,379.8 478.7,383.6 479.0,383.0 481.6,380.4"/>
<polygon class="b" fill="#f7a857" points="521.7,317.7 522.7,320.7 524.9,320.7 525.3,317.2 524.6,316.5 521.8,317.6"/>
<polygon class="b" fill="#fadc7d" points="429.7,367.5 432.4,365.4 432.7,364.7 428.8,359.8 424.0,363.6 426.2,367.2"/>
<polygon class="b" fill="#f7a857" points="477.0,338.3 479.5,340.9 481.7,340.9 486.2,334.4 486.1,333.9 481.0,331.5 477.5,333.6"/>
<polygon class="b" fill="#fadc7d" points="525.6,283.9 526.4,277.4 524.9,275.0 524.3,275.1 518.6,279.4 519.7,284.3 524.8,284.5"/>
<polygon class="b" fill="#f7a857" points="524.6,316.5 524.8,315.3 522.7,312.6 520.7,312.6 519.8,314.8 521.8,317.6"/>
<polygon class="b" fill="#fadc7d" points="534.8,266.0 525.1,266.0 527.3,270.1 534.8,266.6"/>
<polygon class="b" fill="#f7a857" points="528.4,319.6 525.9,321.7 526.0,322.3 527.0,323.5 527.8,323.7 529.8,320.3"/>
<polygon class="b" fill="#f7a857" points="457.5,376.3 458.9,377.9 461.1,377.7 461.9,376.5 459.7,374.6 458.3,375.1 457.5,376.3"/>
<polygon class="b" fill="#fadc7d" points="446.1,367.8 441.9,363.0 439.5,363.9 438.7,369.9 444.3,370.0"/>
<polygon class="b" fill="#f7a857" points="454.4,365.2 454.4,363.8 449.3,362.5 446.8,367.7 449.9,369.3"/>
<polygon class="b" fill="#f7a857" points="511.9,278.1 514.8,277.1 516.1,270.9 509.7,268.8 506.6,274.2"/>
<polygon class="b" fill="#f7a857" points="473.4,384.7 473.2,388.5 474.0,389.1 477.3,386.9 478.3,384.7"/>
<polygon class="b" fill="#fadc7d" points="517.6,358.4 519.3,353.5 514.0,354.4 513.5,357.7"/>
<polygon class="b" fill="#fadc7d" points="540.4,299.3 538.3,300.5 538.5,302.5 540.4,303.5 542.1,300.0"/>
<polygon class="b" fill="#fadc7d" points="545.7,282.9 543.4,286.4 545.8,289.1 547.0,285.0 547.4,282.9"/>
<polygon class="b" fill="#fadc7d" points="506.9,307.2 505.2,312.2 510.5,312.9 513.3,309.7 513.3,309.7 510.1,306.8"/>
<polygon class="b" fill="#fadc7d" points="503.9,326.4 507.0,330.5 511.0,329.4 511.0,327.2 508.4,324.8 504.0,325.9"/>
<polygon class="b" fill="#f7a857" points="510.1,306.8 513.3,309.7 516.9,305.5 513.2,301.2 512.5,301.0"/>
<polygon class="b" fill="#fadc7d" points="423.4,371.4 420.8,376.2 420.9,376.8 424.5,377.6 427.4,374.1 427.4,374.0 424.2,371.2"/>
<polygon class="b" fill="#f7a857" points="458.3,375.1 459.7,374.6 460.6,372.4 460.1,371.3 457.7,371.3 456.8,372.9"/>
<polygon class="b" fill="#fadc7d" points="514.0,354.4 519.3,353.5 519.4,353.1 516.1,348.1 515.9,348.1 512.7,350.2 512.2,351.6"/>
<polygon class="b" fill="#fadc7d" points="509.5,346.7 512.7,350.2 515.9,348.1 514.9,344.3 510.9,344.3"/>
<polygon class="b" fill="#fadc7d" points="432.8,355.1 432.7,353.0 427.5,347.0 424.6,349.7 425.3,355.4 429.2,357.4"/>
<polygon class="b" fill="#f7a857" points="531.9,302.8 532.2,301.2 530.1,298.8 525.2,299.3 524.4,300.8 527.0,304.1"/>
<polygon class="b" fill="#fadc7d" points="517.5,270.0 516.1,270.9 514.8,277.1 518.6,279.4 524.3,275.1"/>
<polygon class="b" fill="#f7a857" points="516.8,329.1 519.0,326.9 518.9,324.2 516.9,323.5 514.2,325.2"/>
<polygon class="b" fill="#fadc7d" points="511.9,300.3 504.0,300.9 503.6,303.2 506.9,307.2 510.1,306.8 512.5,301.0"/>
<polygon class="b" fill="#f5840a" points="502.9,355.3 503.3,351.5 497.9,349.9 496.0,353.4 498.2,357.1 500.6,357.3"/>
<polygon class="b" fill="#f7a857" points="464.8,379.9 464.9,376.9 463.5,376.1 461.9,376.5 461.1,377.7 461.6,380.5"/>
<polygon class="b" fill="#f7a857" points="551.3,263.9 552.0,260.0 549.0,262.6"/>
<polygon class="b" fill="#f7a857" points="534.8,266.6 535.0,267.0 541.1,270.2 542.4,269.5 542.5,269.5 542.2,266.0 534.8,266.0"/>
<polygon class="b" fill="#fadc7d" points="500.9,328.8 501.0,332.9 502.9,334.1 506.4,332.8 507.0,330.5 503.9,326.4"/>
<polygon class="b" fill="#fadc7d" points="520.0,305.7 516.9,305.5 513.3,309.7 513.3,309.7 515.6,311.5 519.3,310.8 520.4,306.5"/>
<polygon class="b" fill="#f7a857" points="450.6,375.3 450.0,377.1 451.5,379.5 453.1,379.7 454.1,378.8 453.8,375.6"/>
<polygon class="b" fill="#f7a857" points="478.5,357.7 484.9,353.7 485.0,353.6 482.0,349.5 478.1,349.4 476.1,354.1 478.2,357.5"/>
<polygon class="b" fill="#f7a857" points="471.0,365.8 467.8,364.5 465.6,366.6 465.6,368.1 468.6,370.0 471.4,369.3"/>
<polygon class="b" fill="#f7a857" points="477.2,376.8 480.3,377.8 483.3,375.7 483.4,374.7 481.5,372.5 478.2,373.3 476.9,376.3"/>
<polygon class="b" fill="#f7a857" points="537.3,278.4 534.3,274.7 531.3,278.6 531.9,280.3 536.1,281.8"/>
<polygon class="b" fill="#f7a857" points="467.4,327.6 466.2,324.9 465.5,325.2 465.5,325.2 465.5,325.2 465.5,325.2 465.5,325.2 465.5,325.2 461.3,325.2 462.1,331.7"/>
<polygon class="b" fill="#f7a857" points="523.3,325.5 525.0,326.3 527.0,323.5 526.0,322.3 522.8,324.0"/>
<polygon class="b" fill="#f7a857" points="465.8,381.1 464.8,379.9 461.6,380.5 460.6,381.6 460.4,382.8 463.9,382.4 465.0,383.1"/>
<polygon class="b" fill="#f7a857" points="524.9,320.7 525.9,321.7 528.4,319.6 527.6,317.9 525.3,317.2"/>
<polygon class="b" fill="#fadc7d" points="427.5,346.6 427.5,347.0 432.7,353.0 437.2,348.2 435.1,343.8"/>
<polygon class="b" fill="#f7a857" points="526.6,306.0 527.0,304.1 524.4,300.8 521.6,301.7 520.0,305.7 520.4,306.5 523.7,307.8"/>
<polygon class="b" fill="#f7a857" points="440.6,376.2 440.2,377.1 444.7,380.3 446.1,379.9 446.7,378.3 445.2,374.4 444.7,374.1"/>
<polygon class="b" fill="#fadc7d" points="444.3,370.0 438.7,369.9 438.4,370.2 440.6,376.2 444.7,374.1"/>
<polygon class="b" fill="#f7a857" points="450.6,370.9 453.5,371.4 456.1,369.1 456.2,367.5 454.4,365.2 449.9,369.3"/>
<polygon class="b" fill="#f7a857" points="446.8,367.7 446.1,367.8 444.3,370.0 444.7,374.1 445.2,374.4 449.8,373.6 450.6,370.9 449.9,369.3"/>
<polygon class="b" fill="#f7a857" points="487.9,324.9 489.6,329.4 493.4,330.0 496.3,327.4 496.1,322.9 491.1,321.3"/>
<polygon class="b" fill="#f7a857" points="453.8,375.6 454.1,378.8 455.6,378.9 457.5,376.3 457.5,376.3 454.3,375.3"/>
<polygon class="b" fill="#f7a857" points="497.5,348.6 500.2,344.5 498.6,340.7 496.9,339.9 491.9,345.9"/>
<polygon class="b" fill="#f7a857" points="542.4,277.8 541.9,277.5 537.3,278.4 536.1,281.8 536.5,282.5 539.3,283.3 542.7,280.0"/>
<polygon class="b" fill="#fadc7d" points="508.6,335.0 506.4,332.8 502.9,334.1 503.6,338.6 506.8,340.1 507.6,339.9"/>
<polygon class="b" fill="#f7a857" points="540.1,293.7 541.1,292.2 540.4,287.4 536.3,288.2 535.3,290.5 539.2,293.7"/>
<polygon class="b" fill="#fadc7d" points="502.4,284.8 498.3,290.1 501.5,297.0 502.0,297.2 508.2,291.7 508.2,291.3 502.7,284.8"/>
<polygon class="b" fill="#fadc7d" points="546.1,272.8 545.1,276.4 548.5,277.8 549.6,272.5 549.7,271.8"/>
<polygon class="b" fill="#fadc7d" points="506.8,340.1 504.6,345.6 505.5,347.4 509.5,346.7 510.9,344.3 508.7,340.2 507.6,339.9"/>
<polygon class="b" fill="#f7a857" points="439.8,384.2 437.7,379.8 434.2,380.8 433.2,382.2 438.1,385.2 439.2,385.6"/>
<polygon class="b" fill="#fadc7d" points="479.9,360.1 478.5,357.7 478.2,357.5 473.0,361.1 473.2,363.6 476.6,365.1 479.6,362.7"/>
<polygon class="b" fill="#f7a857" points="482.0,365.4 479.6,362.7 476.6,365.1 476.9,368.7 481.0,368.4"/>
<polygon class="b" fill="#fadc7d" points="536.9,304.8 533.8,305.3 535.8,311.0 538.4,307.4 538.6,307.0"/>
<polygon class="b" fill="#f7a857" points="454.8,373.2 453.5,371.4 450.6,370.9 449.8,373.6 450.6,375.3 453.8,375.6 454.3,375.3"/>
<polygon class="b" fill="#f7a857" points="513.9,362.8 508.7,364.8 508.5,365.3 510.1,365.9 510.1,365.9 514.2,367.7 514.7,367.2 515.8,364.0"/>
<polygon class="b" fill="#f7a857" points="512.7,316.9 511.7,316.6 507.8,318.8 509.6,322.1 512.4,322.1 514.0,320.2"/>
<polygon class="b" fill="#fadc7d" points="519.3,292.8 518.9,293.2 518.5,298.8 521.6,301.7 524.4,300.8 525.2,299.3 524.3,293.4"/>
<polygon class="b" fill="#fadc7d" points="432.7,364.7 436.5,362.7 435.7,356.7 432.8,355.1 429.2,357.4 428.8,359.8"/>
<polygon class="b" fill="#f7a857" points="518.8,319.4 520.6,322.9 521.3,322.9 522.7,320.7 521.7,317.7"/>
<polygon class="b" fill="#fadc7d" points="430.5,371.3 434.2,372.6 436.2,370.5 432.4,365.4 429.7,367.5"/>
<polygon class="b" fill="#f7a857" points="486.9,357.7 484.9,353.7 478.5,357.7 479.9,360.1 485.4,360.4"/>
<polygon class="b" fill="#fadc7d" points="431.2,337.1 435.5,342.6 439.6,340.4 439.8,338.0 435.2,337.0 435.2,337.0 435.2,337.0 435.2,337.0 435.2,337.0 435.2,337.0 435.2,337.0 433.4,335.1"/>
<polygon class="b" fill="#f7a857" points="516.8,329.1 518.0,331.5 521.6,331.6 522.4,329.6 521.4,327.5 519.0,326.9 516.8,329.1"/>
<polygon class="b" fill="#f7a857" points="521.1,346.5 516.1,348.1 519.4,353.1 519.7,352.3 521.1,346.5"/>
<polygon class="b" fill="#f7a857" points="531.2,310.9 530.0,314.6 530.3,315.2 532.0,316.3 532.2,316.0 535.6,311.3"/>
<polygon class="b" fill="#f7a857" points="461.0,369.1 460.2,367.4 456.2,367.5 456.1,369.1 457.7,371.3 460.1,371.3"/>
<polygon class="b" fill="#f7a857" points="473.0,361.1 469.4,358.8 467.1,361.4 467.8,364.5 471.0,365.8 473.2,363.6"/>
<polygon class="b" fill="#fadc7d" points="525.3,292.8 530.6,295.1 532.3,294.2 533.2,291.2 530.7,289.2 526.4,290.5"/>
<polygon class="b" fill="#f7a857" points="416.7,318.3 416.7,307.8 416.6,307.8 416.6,318.3"/>
<polygon class="b" fill="#fadc7d" points="510.6,281.8 511.9,278.1 506.6,274.2 503.7,275.0 503.4,283.8"/>
<polygon class="b" fill="#f7a857" points="523.3,333.7 520.5,336.8 522.9,339.3 524.3,333.9"/>
<polygon class="b" fill="#f7a857" points="460.6,381.6 458.5,379.5 456.7,379.9 456.5,382.6 458.0,383.0 460.4,382.8"/>
<polygon class="b" fill="#f7a857" points="471.4,329.9 477.5,333.6 481.0,331.5 480.6,326.7 475.2,324.6 471.0,329.0"/>
<polygon class="b" fill="#fadc7d" points="510.5,312.9 511.7,316.6 512.7,316.9 515.9,315.2 515.6,311.5 513.3,309.7"/>
<polygon class="b" fill="#f7a857" points="508.4,324.8 509.6,322.1 507.8,318.8 507.4,318.7 502.2,321.5 504.0,325.9"/>
<polygon class="b" fill="#f7a857" points="484.3,284.8 483.3,284.1 474.7,289.2 474.7,291.6 474.9,293.4 483.0,295.8 484.0,295.3"/>
<polygon class="b" fill="#fadc7d" points="516.7,334.9 514.0,335.3 512.8,339.0 516.0,342.0 517.4,341.4 518.7,336.9"/>
<polygon class="b" fill="#fadc7d" points="435.5,342.6 435.1,343.8 437.2,348.2 440.7,349.3 444.5,343.4 439.6,340.4"/>
<polygon class="b" fill="#fadc7d" points="496.1,335.4 493.4,330.0 489.6,329.4 486.1,333.9 486.2,334.4 489.9,337.7 495.5,337.2"/>
<polygon class="b" fill="#f7a857" points="491.6,274.1 494.0,277.3 502.5,274.4 499.1,266.0 496.7,266.0"/>
<polygon class="b" fill="#f7a857" points="530.3,315.2 527.6,317.9 528.4,319.6 529.8,320.3 532.0,316.3"/>
<polygon class="b" fill="#f7a857" points="470.5,342.5 471.5,339.2 469.4,336.4 462.6,337.0 463.5,344.4"/>
<polygon class="b" fill="#fadc7d" points="424.4,341.9 425.4,342.3 430.5,337.1 426.0,332.1 421.4,335.8"/>
<polygon class="b" fill="#fadc7d" points="498.6,340.7 503.6,338.6 502.9,334.1 501.0,332.9 496.1,335.4 495.5,337.2 496.9,339.9"/>
<polygon class="b" fill="#f7a857" points="416.6,284.3 416.6,295.4 416.7,295.4 416.7,284.3"/>
<polygon class="b" fill="#f5840a" points="449.1,382.2 451.5,379.5 450.0,377.1 446.7,378.3 446.1,379.9"/>
<polygon class="b" fill="#f7a857" points="496.2,298.5 490.9,295.7 488.8,296.6 488.8,303.1 494.2,306.1 494.9,305.9"/>
<polygon class="b" fill="#fadc7d" points="535.8,296.7 539.2,293.7 535.3,290.5 533.2,291.2 532.3,294.2"/>
<polygon class="b" fill="#f7a857" points="509.1,352.6 504.9,350.3 503.3,351.5 502.9,355.3 508.1,357.8"/>
<polygon class="b" fill="#f7a857" points="461.5,364.6 461.8,364.5 463.7,361.2 461.2,357.0 456.4,360.0 456.2,361.4"/>
<polygon class="b" fill="#f7a857" points="521.3,322.9 522.8,324.0 526.0,322.3 525.9,321.7 524.9,320.7 522.7,320.7"/>
<polygon class="b" fill="#fadc7d" points="534.3,274.3 534.3,274.3 534.3,274.7 537.3,278.4 541.9,277.5 539.9,273.0"/>
<polygon class="b" fill="#fadc7d" points="533.8,305.3 533.1,305.0 529.7,309.0 529.7,309.0 531.2,310.9 535.6,311.3 535.8,311.0"/>
<polygon class="b" fill="#f7a857" points="525.1,326.6 526.5,327.0 527.2,324.8 527.8,323.7 527.0,323.5 525.0,326.3"/>
<polygon class="b" fill="#f7a857" points="459.7,374.6 461.9,376.5 463.5,376.1 463.4,373.1 460.6,372.4"/>
<polygon class="b" fill="#f5840a" points="456.4,344.3 454.2,346.4 455.3,351.6 459.5,352.0 462.6,345.4"/>
<polygon class="b" fill="#fadc7d" points="545.3,291.0 545.8,289.1 543.4,286.4 540.9,286.7 540.4,287.4 541.1,292.2"/>
<polygon class="b" fill="#f7a857" points="469.7,350.1 467.5,350.2 465.2,354.7 469.2,357.8 473.0,353.9"/>
<polygon class="b" fill="#f7a857" points="457.5,376.3 458.3,375.1 456.8,372.9 454.8,373.2 454.3,375.3"/>
<polygon class="b" fill="#f7a857" points="424.5,377.6 420.9,376.8 419.6,378.9 422.4,379.7 425.9,380.4"/>
<polygon class="b" fill="#fadc7d" points="418.4,353.7 420.9,349.8 416.6,344.8 416.6,353.6"/>
<polygon class="b" fill="#f7a857" points="526.8,311.0 524.4,310.2 522.7,312.6 524.8,315.3 527.1,313.6"/>
<polygon class="b" fill="#f7a857" points="525.1,326.6 524.3,329.0 525.5,329.9 526.5,327.0"/>
<polygon class="b" fill="#fadc7d" points="519.8,314.8 516.9,315.7 518.0,319.2 518.8,319.4 521.7,317.7 521.8,317.6"/>
<polygon class="b" fill="#f7a857" points="416.6,318.3 416.6,328.2 417.3,327.8 416.7,327.8 416.7,327.8 416.7,327.8 416.7,327.8 416.7,327.8 416.7,327.8 416.7,327.8 416.7,327.8 416.7,327.8 416.7,327.8 416.7,327.8 416.7,327.8 416.7,327.8 416.7,327.7 416.7,327.7 416.7,327.7 416.7,318.3"/>
<polygon class="b" fill="#f7a857" points="512.4,322.1 513.8,325.1 514.2,325.2 516.9,323.5 516.0,320.6 514.0,320.2"/>
<polygon class="b" fill="#f7a857" points="468.6,370.0 465.6,368.1 464.0,369.5 464.4,372.2 467.2,372.9"/>
<polygon class="b" fill="#f7a857" points="465.6,366.6 467.8,364.5 467.1,361.4 463.7,361.2 461.8,364.5"/>
<polygon class="b" fill="#fadc7d" points="534.8,266.6 527.3,270.1 527.2,271.6 534.3,274.3 534.3,274.3 535.0,267.0"/>
<polygon class="b" fill="#fadc7d" points="506.4,332.8 508.6,335.0 512.2,333.8 511.9,330.3 511.0,329.4 507.0,330.5"/>
<polygon class="b" fill="#fadc7d" points="427.4,374.0 427.4,374.1 430.2,376.9 431.4,376.9 434.1,374.3 434.2,372.6 430.5,371.3"/>
<polygon class="b" fill="#f7a857" points="480.6,302.7 476.2,302.5 477.2,306.7 482.0,304.7"/>
<polygon class="b" fill="#f7a857" points="542.5,269.5 546.8,267.3 546.8,264.5 545.0,266.0 542.2,266.0"/>
<polygon class="b" fill="#fadc7d" points="541.1,295.0 540.4,299.3 542.1,300.0 543.4,297.4 543.8,295.9"/>
<polygon class="b" fill="#fadc7d" points="511.0,329.4 511.9,330.3 516.8,329.1 516.8,329.1 514.2,325.2 513.8,325.1 511.0,327.2"/>
<polygon class="b" fill="#f7a857" points="486.9,357.7 491.0,357.9 492.3,353.7 489.8,351.0 485.0,353.6 484.9,353.7"/>
<polygon class="b" fill="#f7a857" points="483.3,375.7 480.3,377.8 481.6,380.4 482.3,379.7 485.6,378.1"/>
<polygon class="b" fill="#f7a857" points="416.7,272.9 416.7,266.0 416.6,266.0 416.6,272.9"/>
<polygon class="b" fill="#f7a857" points="473.1,384.3 473.4,384.7 478.3,384.7 478.7,383.6 476.1,379.8 473.4,381.2"/>
<polygon class="b" fill="#f7a857" points="487.9,376.9 489.8,376.0 490.5,375.8 488.1,374.1"/>
<polygon class="b" fill="#f7a857" points="526.8,311.0 529.7,309.0 529.7,309.0 526.6,306.0 523.7,307.8 524.4,310.2"/>
<polygon class="b" fill="#f7a857" points="416.6,295.4 416.6,307.8 416.7,307.8 416.7,295.4"/>
<polygon class="b" fill="#f7a857" points="461.1,377.7 458.9,377.9 458.5,379.5 460.6,381.6 461.6,380.5"/>
<polygon class="b" fill="#f7a857" points="538.5,302.5 536.9,304.8 538.6,307.0 540.4,303.5"/>
<polygon class="b" fill="#f7a857" points="469.5,384.4 468.8,385.4 469.5,385.8 473.2,388.5 473.4,384.7 473.1,384.3"/>
<polygon class="b" fill="#f7a857" points="456.7,379.9 458.5,379.5 458.9,377.9 457.5,376.3 455.6,378.9"/>
<polygon class="b" fill="#f7a857" points="482.2,370.0 481.0,368.4 476.9,368.7 476.5,369.3 478.2,373.3 481.5,372.5"/>
<polygon class="b" fill="#f7a857" points="519.2,342.2 521.1,346.5 521.1,346.5 522.2,342.3 522.5,340.9"/>
<polygon class="b" fill="#fadc7d" points="490.6,318.0 492.9,315.2 490.9,310.6 487.8,310.4 488.2,313.5 488.2,313.5 488.2,313.5 488.2,313.5 488.2,313.5 488.2,313.5 488.2,313.5 488.2,313.5 486.2,316.4"/>
<polygon class="b" fill="#f7a857" points="486.5,372.9 484.9,371.8 484.9,371.8 484.9,371.8 484.9,371.8 484.9,371.8 484.9,371.8 484.9,371.8 484.9,371.8 484.9,371.8 484.9,371.8 484.9,371.8 484.9,371.8 484.9,371.8 485.2,369.8 482.2,370.0 481.5,372.5 483.4,374.7"/>
<polygon class="b" fill="#f7a857" points="534.8,285.5 536.5,282.5 536.1,281.8 531.9,280.3 529.8,284.1 531.2,285.7"/>
<polygon class="b" fill="#f7a857" points="457.7,371.3 456.1,369.1 453.5,371.4 454.8,373.2 456.8,372.9"/>
<polygon class="b" fill="#cccccc" points="416.7,265.1 456.2,265.1 455.0,270.6 451.2,274.8 453.7,281.5 443.6,280.7 436.9,283.2 435.2,289.1 436.9,295.0 431.8,301.7 428.5,306.7 431.8,313.5 421.8,315.1 417.6,320.2 416.7,320.2"/>
<polygon class="b" fill="#f5840a" points="456.2,265.1 474.7,265.1 475.5,273.1 473.9,279.8 474.7,285.7 469.7,286.6 463.8,286.6 458.7,289.1 453.7,281.5 451.2,274.8 455.0,270.6"/>
<polygon class="b" fill="#f5840a" points="458.7,289.1 463.8,286.6 469.7,286.6 474.7,285.7 474.7,291.6 475.5,300.0 477.2,306.7 476.4,313.5 473.0,316.8 467.1,311.8 460.4,309.3 455.4,305.9 451.2,300.9 453.7,297.5 450.3,293.3 454.5,290.8"/>
<polygon class="b" fill="#f7a857" points="453.7,281.5 458.7,289.1 454.5,290.8 450.3,293.3 453.7,297.5 451.2,300.9 455.4,305.9 449.5,313.5 440.3,314.3 431.8,313.5 428.5,306.7 431.8,301.7 436.9,295.0 435.2,289.1 436.9,283.2 443.6,280.7"/>
<polygon class="b" fill="#f7a857" points="417.6,320.2 421.8,315.1 431.8,313.5 440.3,314.3 441.1,321.9 436.9,328.6 426.8,328.6 416.7,327.7 416.7,320.2"/>
<polygon class="b" fill="#f7a857" points="441.1,321.9 440.3,314.3 449.5,313.5 453.7,318.5 456.2,322.7 450.3,325.2 449.5,330.3 446.1,337.0 442.8,338.7 435.2,337.0 431.8,333.6 436.9,328.6"/>
<polygon class="b" fill="#f7a857" points="449.5,313.5 455.4,305.9 460.4,309.3 467.1,311.8 473.0,316.8 472.2,321.9 465.5,325.2 461.3,325.2 456.2,322.7 453.7,318.5"/>
<polygon class="b" fill="#fadc7d" points="450.3,325.2 456.2,322.7 461.3,325.2 462.1,331.9 458.7,337.0 452.0,335.3 449.5,330.3"/>
<polygon class="b" fill="#fadc7d" points="476.4,313.5 477.2,306.7 483.1,304.2 487.3,306.7 488.2,313.5 484.8,318.5 478.9,321.0 473.0,316.8"/>
<polygon class="b" fill="#fadc7d" points="486.6,362.5 494.1,360.0 510.1,365.9 516.0,368.4 510.1,373.1 500.8,375.1 490.8,376.0 484.9,371.8"/>
<polygon class="b" fill="#f7a857" points="342.2,305.6 341.3,309.2 344.2,312.7 344.7,313.3 348.7,306.8 347.6,305.3 344.7,304.7"/>
<polygon class="b" fill="#f7a857" points="361.6,328.1 358.1,331.9 360.0,335.1 362.5,337.6 365.0,333.5 365.9,331.1"/>
<polygon class="b" fill="#f7a857" points="353.6,323.9 356.7,329.3 358.1,331.9 361.6,328.1 361.6,328.1 356.9,322.8"/>
<polygon class="b" fill="#f7a857" points="365.3,323.7 370.1,325.8 370.8,325.2 372.2,324.0 371.5,318.4 371.1,317.7 366.3,317.9 364.3,320.4"/>
<polygon class="b" fill="#f7a857" points="352.1,314.5 352.3,315.0 358.1,317.5 360.6,312.9 356.7,313.6 353.7,310.6"/>
<polygon class="b" fill="#f7a857" points="372.2,324.0 375.8,321.0 377.3,318.8 376.1,317.8 371.6,318.5 371.5,318.4"/>
<polygon class="b" fill="#f7a857" points="356.9,322.8 358.7,320.0 358.1,317.5 352.3,315.0 350.9,320.6 353.4,323.5 353.6,323.9"/>
<polygon class="b" fill="#fadc7d" points="364.3,320.4 366.3,317.9 363.7,312.2 361.7,312.7 360.6,312.9 358.1,317.5 358.7,320.0"/>
<polygon class="b" fill="#f7a857" points="361.6,328.1 365.9,331.1 366.6,329.3 370.1,325.8 365.3,323.7 361.6,328.1"/>
<polygon class="b" fill="#f7a857" points="338.0,301.8 338.3,299.7 337.6,299.5 332.3,298.6 332.6,301.1 335.7,304.2"/>
<polygon class="b" fill="#f7a857" points="344.7,313.3 345.0,313.6 352.1,314.5 353.7,310.6 353.4,310.2 350.0,308.6 348.7,306.8"/>
<polygon class="b" fill="#fadc7d" points="371.1,317.7 369.1,314.4 365.0,311.9 363.7,312.2 366.3,317.9"/>
<polygon class="b" fill="#f7a857" points="338.0,301.8 342.2,305.6 344.7,304.7 343.4,304.4 342.6,301.1 338.3,299.7"/>
<polygon class="b" fill="#f7a857" points="356.9,322.8 361.6,328.1 365.3,323.7 364.3,320.4 358.7,320.0"/>
<polygon class="b" fill="#f7a857" points="352.3,315.0 352.1,314.5 345.0,313.6 349.2,318.5 350.9,320.6"/>
<polygon class="b" fill="#f7a857" points="377.3,318.8 379.9,315.2 376.6,317.7 376.1,317.8"/>
<polygon class="b" fill="#f7a857" points="338.0,301.8 335.7,304.2 336.0,304.4 340.1,307.8 341.3,309.2 342.2,305.6"/>
<polygon class="b" fill="#f7a857" points="387.6,311.9 389.9,312.0 393.1,307.6 392.7,302.6 384.6,303.2 384.0,306.1 383.4,306.5"/>
<polygon class="b" fill="#f7a857" points="398.7,314.2 398.6,309.4 393.2,308.6 393.1,307.6 389.9,312.0 394.2,316.2"/>
<polygon class="b" fill="#fadc7d" points="414.1,357.2 409.3,360.0 408.8,362.2 413.0,368.8 416.7,369.0 416.7,357.6"/>
<polygon class="b" fill="#f7a857" points="413.0,368.8 408.8,362.2 403.8,364.3 403.9,365.0 407.3,369.9 409.0,371.7"/>
<polygon class="b" fill="#f7a857" points="404.9,355.9 407.7,348.8 403.0,348.2 399.5,351.1 399.8,351.7 401.6,356.6"/>
<polygon class="b" fill="#fadc7d" points="410.4,349.3 416.7,347.5 416.7,338.9 414.9,338.5 408.5,342.9 408.4,348.5"/>
<polygon class="b" fill="#f7a857" points="397.1,333.8 399.4,335.3 403.9,333.0 403.8,332.2 400.2,328.4 396.7,329.3 396.4,329.7"/>
<polygon class="b" fill="#f7a857" points="389.6,324.3 389.4,320.7 385.9,319.3 385.7,322.7 386.0,325.8 386.3,326.3"/>
<polygon class="b" fill="#f7a857" points="392.8,343.5 393.8,342.4 391.8,340.0 390.0,340.1 389.8,340.9 388.8,343.4"/>
<polygon class="b" fill="#f7a857" points="396.3,322.4 394.5,325.3 396.7,329.3 400.2,328.4 401.1,324.8 399.0,324.3 398.9,322.7"/>
<polygon class="b" fill="#fadc7d" points="413.0,368.8 409.0,371.7 412.2,374.9 416.7,378.6 416.7,369.0"/>
<polygon class="b" fill="#f7a857" points="383.4,306.5 381.6,307.8 380.7,313.6 383.2,316.9 384.0,316.9 387.6,311.9"/>
<polygon class="b" fill="#fadc7d" points="411.9,334.4 414.9,338.5 416.7,338.9 416.7,327.7 413.0,327.7"/>
<polygon class="b" fill="#fadc7d" points="403.8,332.2 403.9,333.0 405.5,334.7 411.9,334.4 413.0,327.7 407.4,327.7"/>
<polygon class="b" fill="#f7a857" points="391.8,333.0 392.2,331.0 391.1,329.4 387.9,329.6 389.0,331.8 389.7,333.7"/>
<polygon class="b" fill="#fadc7d" points="414.1,357.2 416.7,357.6 416.7,347.5 410.4,349.3"/>
<polygon class="b" fill="#f7a857" points="399.7,344.1 403.0,348.2 407.7,348.8 408.4,348.5 408.5,342.9 405.4,340.3 401.3,341.3"/>
<polygon class="b" fill="#f7a857" points="392.7,302.6 392.3,298.6 385.4,298.6 384.6,303.2"/>
<polygon class="b" fill="#f7a857" points="398.5,344.3 399.7,344.1 401.3,341.3 398.8,337.6 395.8,338.9 394.8,342.2"/>
<polygon class="b" fill="#f7a857" points="401.3,341.3 405.4,340.3 405.5,334.7 403.9,333.0 399.4,335.3 398.8,337.6"/>
<polygon class="b" fill="#f7a857" points="396.3,322.4 393.8,318.0 389.4,320.7 389.6,324.3 391.8,325.8 394.5,325.3"/>
<polygon class="b" fill="#f5840a" points="391.8,333.0 393.5,334.9 397.1,333.8 396.4,329.7 392.2,331.0"/>
<polygon class="b" fill="#fadc7d" points="409.3,360.0 414.1,357.2 410.4,349.3 408.4,348.5 407.7,348.8 404.9,355.9"/>
<polygon class="b" fill="#f5840a" points="388.6,347.4 392.9,346.0 392.8,343.5 388.8,343.4 388.2,345.1 387.9,345.3"/>
<polygon class="b" fill="#f7a857" points="391.8,340.0 393.8,342.4 394.8,342.2 395.8,338.9 393.3,336.7 392.3,337.3"/>
<polygon class="b" fill="#f7a857" points="398.9,322.7 398.7,314.2 394.2,316.2 393.8,318.0 396.3,322.4"/>
<polygon class="b" fill="#f7a857" points="389.4,320.7 393.8,318.0 394.2,316.2 389.9,312.0 387.6,311.9 384.0,316.9 386.0,316.9 385.9,319.3"/>
<polygon class="b" fill="#f5840a" points="398.5,344.3 394.8,342.2 393.8,342.4 392.8,343.5 392.9,346.0 393.2,345.9 397.0,346.7"/>
<polygon class="b" fill="#fadc7d" points="403.8,332.2 407.4,327.7 405.6,327.7 403.1,325.2 401.1,324.8 400.2,328.4"/>
<polygon class="b" fill="#fadc7d" points="405.4,340.3 408.5,342.9 414.9,338.5 411.9,334.4 405.5,334.7"/>
<polygon class="b" fill="#f7a857" points="395.8,338.9 398.8,337.6 399.4,335.3 397.1,333.8 393.5,334.9 393.3,336.7"/>
<polygon class="b" fill="#f7a857" points="393.3,336.7 393.5,334.9 391.8,333.0 389.7,333.7 390.7,336.8 390.6,337.2 392.3,337.3"/>
<polygon class="b" fill="#f7a857" points="408.8,362.2 409.3,360.0 404.9,355.9 401.6,356.6 402.3,358.3 403.8,364.3"/>
<polygon class="b" fill="#f7a857" points="391.1,329.4 391.8,325.8 389.6,324.3 386.3,326.3 387.9,329.6"/>
<polygon class="b" fill="#f7a857" points="387.9,345.3 384.9,347.6 388.2,347.6 388.6,347.4"/>
<polygon class="b" fill="#f7a857" points="403.0,348.2 399.7,344.1 398.5,344.3 397.0,346.7 397.3,346.7 399.5,351.1"/>
<polygon class="b" fill="#f7a857" points="390.6,337.2 390.0,340.1 391.8,340.0 392.3,337.3"/>
<polygon class="b" fill="#f7a857" points="396.4,329.7 396.7,329.3 394.5,325.3 391.8,325.8 391.1,329.4 392.2,331.0"/>
<polygon class="b" fill="#fadc7d" points="383.2,316.9 381.6,320.2 380.7,325.2 379.4,331.8 377.7,336.4 373.8,338.9 372.1,341.8 374.4,343.4 379.4,341.8 382.4,339.3 383.5,334.3 384.4,328.8 386.0,325.8 385.7,322.7 386.0,316.9"/>
<polygon class="b" fill="#f7a857" points="369.1,349.2 371.6,347.6 377.4,346.7 382.4,347.6 384.9,349.2 382.4,350.9 376.6,351.7 371.6,352.0 369.4,350.9"/>
<polygon class="b" fill="#f7a857" points="535.3,233.5 534.5,232.3 533.3,232.1 527.1,235.9 531.5,242.0 535.1,239.4"/>
<polygon class="b" fill="#f7a857" points="542.2,256.2 537.1,258.0 540.0,263.9 544.8,260.9 544.8,258.4 543.0,256.4"/>
<polygon class="b" fill="#f7a857" points="550.2,232.2 549.6,227.3 547.3,220.7 546.4,221.7 545.6,230.6"/>
<polygon class="b" fill="#f7a857" points="524.2,224.7 528.9,224.8 534.3,220.3 534.5,216.0 522.1,212.1 522.2,212.3 520.8,216.0"/>
<polygon class="b" fill="#f7a857" points="515.8,249.4 515.6,249.4 505.8,257.2 512.3,264.0 518.9,260.2 518.9,253.1"/>
<polygon class="b" fill="#f7a857" points="506.5,176.6 507.0,177.4 509.7,186.2 509.7,187.6 518.3,182.0 517.0,181.0 513.1,178.9 510.5,174.0 510.1,173.2"/>
<polygon class="b" fill="#f7a857" points="549.5,254.4 552.0,253.9 552.0,250.2 549.1,250.2 549.0,250.3 548.6,253.2"/>
<polygon class="b" fill="#f7a857" points="528.9,224.8 524.2,224.7 522.0,227.9 524.5,235.7 527.1,235.9 533.3,232.1"/>
<polygon class="b" fill="#f7a857" points="532.9,266.0 539.4,266.0 540.0,263.9 537.1,258.0 536.3,257.7 531.4,261.5"/>
<polygon class="b" fill="#f7a857" points="509.7,187.6 509.7,192.4 510.0,193.3 519.0,196.9 524.1,194.4 523.2,193.3 521.8,184.7 518.3,182.0"/>
<polygon class="b" fill="#f7a857" points="535.1,247.0 535.0,247.2 537.2,251.6 540.5,251.4 541.7,250.0 541.6,249.0 538.7,245.2"/>
<polygon class="b" fill="#f7a857" points="506.7,165.1 505.9,163.1 501.6,155.9 499.7,161.2 499.7,167.4"/>
<polygon class="b" fill="#f7a857" points="512.7,244.8 515.4,237.9 509.9,229.4 509.5,229.2 506.0,233.5 507.9,243.8"/>
<polygon class="b" fill="#f7a857" points="544.8,260.9 548.0,263.4 552.0,260.0 552.0,259.7 549.1,256.7 544.8,258.4"/>
<polygon class="b" fill="#f7a857" points="531.5,242.0 527.1,235.9 524.5,235.7 522.3,238.0 523.2,244.1 526.4,245.7 531.5,242.5"/>
<polygon class="b" fill="#f7a857" points="527.7,252.8 527.5,259.9 531.4,261.5 536.3,257.7 535.3,255.2 528.2,252.2"/>
<polygon class="b" fill="#f7a857" points="499.7,167.4 499.7,168.7 503.8,172.4 506.5,176.6 510.1,173.2 508.8,170.3 506.7,165.1"/>
<polygon class="b" fill="#f7a857" points="535.0,247.2 535.1,247.0 531.5,242.5 526.4,245.7 528.2,252.1"/>
<polygon class="b" fill="#f7a857" points="519.0,196.9 518.1,203.1 519.7,203.6 522.0,211.5 530.9,202.4 529.0,200.5 524.1,194.4"/>
<polygon class="b" fill="#f7a857" points="523.2,244.1 522.3,238.0 515.4,237.9 512.7,244.8 515.6,249.4 515.8,249.4"/>
<polygon class="b" fill="#f7a857" points="541.6,236.0 542.5,235.4 544.6,231.0 538.6,228.2 534.5,232.3 535.3,233.5"/>
<polygon class="b" fill="#f7a857" points="522.0,227.9 509.9,229.4 515.4,237.9 522.3,238.0 524.5,235.7"/>
<polygon class="b" fill="#f7a857" points="547.3,220.7 547.0,219.8 542.0,214.8 539.3,211.5 534.5,216.0 534.3,220.3 538.7,224.3 546.4,221.7"/>
<polygon class="b" fill="#f7a857" points="518.9,253.1 518.9,260.2 523.6,262.3 527.5,259.9 527.7,252.8"/>
<polygon class="b" fill="#f7a857" points="522.0,211.5 522.1,212.1 534.5,216.0 539.3,211.5 535.9,207.3 530.9,202.4"/>
<polygon class="b" fill="#f7a857" points="523.6,262.3 524.0,266.0 532.9,266.0 531.4,261.5 527.5,259.9"/>
<polygon class="b" fill="#f7a857" points="519.0,196.9 510.0,193.3 512.2,201.1 518.1,203.1"/>
<polygon class="b" fill="#f7a857" points="548.6,245.7 549.4,245.9 551.1,241.5 548.2,241.2 547.0,243.5"/>
<polygon class="b" fill="#f7a857" points="552.0,250.2 552.0,249.7 551.7,246.5 549.7,246.3 549.1,250.2"/>
<polygon class="b" fill="#f5840a" points="541.7,250.0 540.5,251.4 542.2,256.2 543.0,256.4 545.3,253.2 544.3,250.8"/>
<polygon class="b" fill="#fadc7d" points="512.3,264.0 512.3,266.0 524.0,266.0 523.6,262.3 518.9,260.2"/>
<polygon class="b" fill="#f7a857" points="536.3,257.7 537.1,258.0 542.2,256.2 540.5,251.4 537.2,251.6 535.3,255.2"/>
<polygon class="b" fill="#f7a857" points="550.5,235.2 550.2,232.2 545.6,230.6 544.6,231.0 542.5,235.4 546.8,237.9"/>
<polygon class="b" fill="#f7a857" points="505.2,257.1 502.2,266.0 512.3,266.0 512.3,264.0 505.8,257.2"/>
<polygon class="b" fill="#f5840a" points="540.6,243.8 543.5,241.1 541.3,237.6 538.1,240.7 539.3,244.1"/>
<polygon class="b" fill="#f7a857" points="546.3,249.2 545.9,247.2 544.5,246.3 541.6,249.0 541.7,250.0 544.3,250.8"/>
<polygon class="b" fill="#f7a857" points="509.9,229.4 522.0,227.9 524.2,224.7 520.8,216.0 518.4,222.3 512.2,226.0 509.5,229.2"/>
<polygon class="b" fill="#f7a857" points="549.1,250.2 549.7,246.3 549.4,245.9 548.6,245.7 545.9,247.2 546.3,249.2 549.0,250.3"/>
<polygon class="b" fill="#f7a857" points="546.8,237.9 546.7,239.6 548.2,241.2 551.1,241.5 551.2,241.4 550.8,237.3 550.5,235.2"/>
<polygon class="b" fill="#f5840a" points="543.0,256.4 544.8,258.4 549.1,256.7 549.5,254.4 548.6,253.2 545.3,253.2"/>
<polygon class="b" fill="#fadc7d" points="544.8,260.9 540.0,263.9 539.4,266.0 545.0,266.0 548.0,263.4"/>
<polygon class="b" fill="#f7a857" points="534.5,232.3 538.6,228.2 538.7,224.3 534.3,220.3 528.9,224.8 533.3,232.1"/>
<polygon class="b" fill="#f7a857" points="535.3,255.2 537.2,251.6 535.0,247.2 528.2,252.1 528.2,252.2"/>
<polygon class="b" fill="#f7a857" points="547.0,243.5 548.2,241.2 546.7,239.6 543.8,241.2 545.4,243.7"/>
<polygon class="b" fill="#f7a857" points="538.1,240.7 535.1,239.4 531.5,242.0 531.5,242.5 535.1,247.0 538.7,245.2 539.3,244.1"/>
<polygon class="b" fill="#f7a857" points="528.2,252.1 526.4,245.7 523.2,244.1 515.8,249.4 518.9,253.1 527.7,252.8 528.2,252.2"/>
<polygon class="b" fill="#f7a857" points="538.7,245.2 541.6,249.0 544.5,246.3 544.3,245.6 540.6,243.8 539.3,244.1"/>
<polygon class="b" fill="#f7a857" points="545.9,247.2 548.6,245.7 547.0,243.5 545.4,243.7 544.3,245.6 544.5,246.3"/>
<polygon class="b" fill="#f7a857" points="541.6,236.0 535.3,233.5 535.1,239.4 538.1,240.7 541.3,237.6"/>
<polygon class="b" fill="#f5840a" points="545.3,253.2 548.6,253.2 549.0,250.3 546.3,249.2 544.3,250.8"/>
<polygon class="b" fill="#f7a857" points="552.0,259.7 552.0,253.9 549.5,254.4 549.1,256.7"/>
<polygon class="b" fill="#f7a857" points="545.6,230.6 546.4,221.7 538.7,224.3 538.6,228.2 544.6,231.0"/>
<polygon class="b" fill="#f7a857" points="551.1,241.5 549.4,245.9 549.7,246.3 551.7,246.5 551.2,241.4"/>
<polygon class="b" fill="#f7a857" points="505.8,257.2 515.6,249.4 512.7,244.8 507.9,243.8 508.5,247.2 505.2,257.1"/>
<polygon class="b" fill="#f7a857" points="544.3,245.6 545.4,243.7 543.8,241.2 543.5,241.1 540.6,243.8"/>
<polygon class="b" fill="#f7a857" points="543.5,241.1 543.8,241.2 546.7,239.6 546.8,237.9 542.5,235.4 541.6,236.0 541.3,237.6"/>
<polygon class="b" fill="#f5840a" points="160.1,295.5 158.6,293.3 157.4,293.3 153.7,296.4 154.3,299.5 157.5,301.5"/>
<polygon class="b" fill="#f5840a" points="164.3,322.2 171.1,325.8 173.2,316.7 164.7,315.8"/>
<polygon class="b" fill="#f5840a" points="170.9,296.9 168.9,296.4 166.8,297.8 165.2,302.3 166.0,305.7 168.1,307.6 170.1,307.7 174.8,303.7"/>
<polygon class="b" fill="#ff0000" points="133.8,262.9 134.7,270.3 140.7,271.7 143.4,268.7 142.5,262.3"/>
<polygon class="b" fill="#f5840a" points="151.4,327.2 151.6,327.8 156.9,330.2 159.5,328.6 160.6,324.3 156.5,320.6 152.2,323.5"/>
<polygon class="b" fill="#f5840a" points="157.2,304.0 159.7,308.9 166.0,305.7 165.2,302.3 157.8,302.2"/>
<polygon class="b" fill="#f5840a" points="151.0,270.2 151.9,273.8 157.6,275.1 158.4,274.2 157.5,274.0 158.4,268.8 154.9,264.5 153.3,265.5"/>
<polygon class="b" fill="#f5840a" points="179.2,316.5 186.2,315.4 187.7,312.8 184.9,307.2 180.2,306.8 176.8,314.9"/>
<polygon class="b" fill="#ff0000" points="143.4,268.7 151.0,270.2 153.3,265.5 150.7,267.1 145.5,263.7 147.6,261.7 143.5,261.2 142.5,262.3"/>
<polygon class="b" fill="#f5840a" points="187.7,312.8 186.2,315.4 188.5,320.2 193.5,316.0 193.5,311.9"/>
<polygon class="b" fill="#f5840a" points="139.8,251.3 138.7,250.0 133.0,247.0 130.2,245.6 127.8,248.4 130.0,254.7 131.0,256.6"/>
<polygon class="b" fill="#f5840a" points="160.5,281.4 158.7,283.5 160.9,289.6 167.8,290.2 169.9,286.2 162.6,281.1"/>
<polygon class="b" fill="#f7a857" points="151.6,327.8 151.4,327.2 145.9,325.3 142.9,326.9 144.3,332.8 146.4,334.5"/>
<polygon class="b" fill="#ff0000" points="143.0,277.2 141.9,276.5 136.7,279.4 137.4,282.4 137.9,283.8 142.8,284.9 144.3,284.2"/>
<polygon class="b" fill="#f5840a" points="151.5,290.5 153.3,290.0 155.3,284.2 151.4,282.3 146.8,285.0 147.6,287.8"/>
<polygon class="b" fill="#f5840a" points="167.0,332.3 169.6,331.7 172.1,327.8 171.1,325.8 164.3,322.2 160.6,324.3 159.5,328.6"/>
<polygon class="b" fill="#f5840a" points="142.5,262.3 143.5,261.2 143.1,255.0 143.0,255.1 139.8,251.3 131.0,256.6 133.7,262.0 133.8,262.9"/>
<polygon class="b" fill="#f5840a" points="169.6,331.7 172.1,337.0 174.8,336.0 181.9,331.6 179.6,327.8 172.1,327.8"/>
<polygon class="b" fill="#f7a857" points="140.0,320.9 141.3,326.3 142.9,326.9 145.9,325.3 146.0,320.6 144.3,319.1"/>
<polygon class="b" fill="#f5840a" points="156.4,317.6 163.6,315.3 159.4,309.9 156.4,311.2 154.3,315.2 154.3,315.5"/>
<polygon class="b" fill="#ff0000" points="150.8,307.6 148.2,308.1 147.6,311.5 147.8,311.7 150.9,311.3 152.1,308.6"/>
<polygon class="b" fill="#f5840a" points="180.9,325.3 179.6,327.8 181.9,331.6 184.8,329.8 189.7,324.8 187.1,323.1"/>
<polygon class="b" fill="#f7a857" points="169.9,286.2 174.0,284.4 173.8,283.4 173.3,278.0 166.9,276.0 162.6,281.1"/>
<polygon class="b" fill="#f5840a" points="169.9,286.2 167.8,290.2 168.9,296.4 170.9,296.9 176.3,294.7 176.3,294.5 174.0,284.4"/>
<polygon class="b" fill="#ff0000" points="148.2,308.1 146.7,306.4 145.5,307.0 144.4,309.8 145.5,311.2 147.6,311.5"/>
<polygon class="b" fill="#f7a857" points="156.5,320.6 156.4,317.6 154.3,315.5 151.2,316.7 149.6,320.2 152.2,323.5"/>
<polygon class="b" fill="#f5840a" points="154.3,299.5 153.7,296.4 150.8,295.4 148.9,298.8 149.7,300.4 151.3,300.9"/>
<polygon class="b" fill="#f5840a" points="168.1,307.6 164.5,315.6 164.7,315.8 173.2,316.7 175.4,315.0 170.1,307.7"/>
<polygon class="b" fill="#f5840a" points="142.9,326.9 141.3,326.3 136.6,328.2 138.6,331.0 143.6,332.3 144.3,332.8"/>
<polygon class="b" fill="#f5840a" points="147.6,311.5 145.5,311.2 142.6,314.5 144.4,317.1 148.0,315.0 147.8,311.7"/>
<polygon class="b" fill="#f7a857" points="151.4,282.3 150.4,275.9 143.0,277.2 144.3,284.2 146.8,285.0"/>
<polygon class="b" fill="#f5840a" points="146.8,285.0 144.3,284.2 142.8,284.9 141.0,289.4 143.7,292.0 145.1,292.1 147.6,287.8"/>
<polygon class="b" fill="#ff0000" points="149.7,300.4 148.3,302.1 148.5,304.4 150.7,305.0 152.0,304.0 151.3,300.9"/>
<polygon class="b" fill="#f5840a" points="178.4,304.2 180.2,306.8 184.9,307.2 189.2,302.4 189.2,302.2 179.7,301.4"/>
<polygon class="b" fill="#f7a857" points="173.2,316.7 171.1,325.8 172.1,327.8 179.6,327.8 180.9,325.3 179.2,316.5 176.8,314.9 175.4,315.0"/>
<polygon class="b" fill="#f5840a" points="160.1,295.5 166.8,297.8 168.9,296.4 167.8,290.2 160.9,289.6 158.6,293.3"/>
<polygon class="b" fill="#f5840a" points="167.0,332.3 159.5,328.6 156.9,330.2 156.5,334.7 161.5,339.8 161.6,339.8"/>
<polygon class="b" fill="#f5840a" points="155.1,304.9 153.4,308.4 156.4,311.2 159.4,309.9 159.7,308.9 157.2,304.0"/>
<polygon class="b" fill="#f5840a" points="145.3,297.6 145.7,298.0 148.9,298.8 150.8,295.4 150.0,293.9 146.6,293.8"/>
<polygon class="b" fill="#f5840a" points="157.6,275.1 151.9,273.8 150.4,275.9 151.4,282.3 155.3,284.2 158.7,283.5 160.5,281.4"/>
<polygon class="b" fill="#f5840a" points="154.3,315.2 150.9,311.3 147.8,311.7 148.0,315.0 151.2,316.7 154.3,315.5"/>
<polygon class="b" fill="#f5840a" points="140.0,320.9 144.3,319.1 144.4,317.1 142.6,314.5 141.5,314.1 138.4,320.2"/>
<polygon class="b" fill="#f5840a" points="143.7,292.0 141.4,295.0 142.2,297.5 145.3,297.6 146.6,293.8 145.1,292.1"/>
<polygon class="b" fill="#ff0000" points="150.9,311.3 154.3,315.2 156.4,311.2 153.4,308.4 152.1,308.6"/>
<polygon class="b" fill="#ff0000" points="150.8,307.6 150.7,305.0 148.5,304.4 146.9,305.7 146.7,306.4 148.2,308.1"/>
<polygon class="b" fill="#f7a857" points="160.6,324.3 164.3,322.2 164.7,315.8 164.5,315.6 163.6,315.3 156.4,317.6 156.5,320.6"/>
<polygon class="b" fill="#f5840a" points="173.3,278.0 172.9,273.1 166.1,273.1 166.1,273.2 166.9,276.0"/>
<polygon class="b" fill="#ff0000" points="145.5,307.0 146.7,306.4 146.9,305.7 145.4,303.9 143.4,304.2 143.2,306.1"/>
<polygon class="b" fill="#f7a857" points="156.5,334.7 156.9,330.2 151.6,327.8 146.4,334.5 150.0,337.3 150.9,337.8"/>
<polygon class="b" fill="#ff0000" points="145.3,301.3 145.7,298.0 145.3,297.6 142.2,297.5 143.4,301.7"/>
<polygon class="b" fill="#f5840a" points="151.2,316.7 148.0,315.0 144.4,317.1 144.3,319.1 146.0,320.6 149.6,320.2"/>
<polygon class="b" fill="#f5840a" points="145.1,292.1 146.6,293.8 150.0,293.9 151.5,290.5 147.6,287.8"/>
<polygon class="b" fill="#ff0000" points="144.4,309.8 145.5,307.0 143.2,306.1 142.7,309.5"/>
<polygon class="b" fill="#f5840a" points="154.3,299.5 151.3,300.9 152.0,304.0 155.1,304.9 157.2,304.0 157.8,302.2 157.5,301.5"/>
<polygon class="b" fill="#f7a857" points="157.8,302.2 165.2,302.3 166.8,297.8 160.1,295.5 157.5,301.5"/>
<polygon class="b" fill="#f7a857" points="170.1,307.7 175.4,315.0 176.8,314.9 180.2,306.8 178.4,304.2 174.8,303.7"/>
<polygon class="b" fill="#f5840a" points="141.9,276.5 140.7,271.7 134.7,270.3 135.0,272.4 136.7,279.4"/>
<polygon class="b" fill="#f7a857" points="153.3,290.0 157.4,293.3 158.6,293.3 160.9,289.6 158.7,283.5 155.3,284.2"/>
<polygon class="b" fill="#f7a857" points="170.9,296.9 174.8,303.7 178.4,304.2 179.7,301.4 178.0,301.3 176.3,294.7"/>
<polygon class="b" fill="#f5840a" points="142.6,314.5 145.5,311.2 144.4,309.8 142.7,309.5 142.4,312.3 141.5,314.1"/>
<polygon class="b" fill="#f5840a" points="145.7,298.0 145.3,301.3 145.8,301.9 148.3,302.1 149.7,300.4 148.9,298.8"/>
<polygon class="b" fill="#f5840a" points="143.5,261.2 147.6,261.7 149.0,260.3 147.2,253.4 143.1,255.0"/>
<polygon class="b" fill="#f5840a" points="130.2,245.6 126.0,243.5 127.8,248.4"/>
<polygon class="b" fill="#ff0000" points="143.4,301.7 143.6,302.4 143.4,304.2 145.4,303.9 145.8,301.9 145.3,301.3"/>
<polygon class="b" fill="#ff0000" points="151.0,270.2 143.4,268.7 140.7,271.7 141.9,276.5 143.0,277.2 150.4,275.9 151.9,273.8"/>
<polygon class="b" fill="#f5840a" points="164.5,315.6 168.1,307.6 166.0,305.7 159.7,308.9 159.4,309.9 163.6,315.3"/>
<polygon class="b" fill="#f7a857" points="150.0,293.9 150.8,295.4 153.7,296.4 157.4,293.3 153.3,290.0 151.5,290.5"/>
<polygon class="b" fill="#f5840a" points="137.9,283.8 139.8,289.8 141.0,289.4 142.8,284.9"/>
<polygon class="b" fill="#f5840a" points="141.3,326.3 140.0,320.9 138.4,320.2 137.4,322.3 136.0,327.3 136.6,328.2"/>
<polygon class="b" fill="#f5840a" points="184.9,307.2 187.7,312.8 193.5,311.9 193.5,309.8 190.0,309.9 189.2,302.4"/>
<polygon class="b" fill="#f5840a" points="150.9,337.8 154.8,339.8 161.5,339.8 156.5,334.7"/>
<polygon class="b" fill="#f5840a" points="169.6,331.7 167.0,332.3 161.6,339.8 164.8,339.8 172.1,337.0"/>
<polygon class="b" fill="#f5840a" points="187.1,323.1 186.0,322.3 188.5,320.2 186.2,315.4 179.2,316.5 180.9,325.3"/>
<polygon class="b" fill="#f5840a" points="139.8,289.8 141.0,293.6 141.4,295.0 143.7,292.0 141.0,289.4"/>
<polygon class="b" fill="#ff0000" points="152.0,304.0 150.7,305.0 150.8,307.6 152.1,308.6 153.4,308.4 155.1,304.9"/>
<polygon class="b" fill="#ff0000" points="145.4,303.9 146.9,305.7 148.5,304.4 148.3,302.1 145.8,301.9"/>
<polygon class="b" fill="#f5840a" points="149.6,320.2 146.0,320.6 145.9,325.3 151.4,327.2 152.2,323.5"/>
<polygon class="b" fill="#f5840a" points="166.9,276.0 166.1,273.2 165.2,275.7 158.4,274.2 157.6,275.1 160.5,281.4 162.6,281.1"/>
<polygon class="b" fill="#ff0000" points="186.0,322.3 192.2,316.8 198.5,319.8 199.7,324.8 189.7,324.8"/>
<polygon class="b" fill="#fadc7d" points="460.7,415.3 461.9,411.4 460.2,410.9 457.0,412.1 456.4,408.3 457.0,415.3 457.1,415.6"/>
<polygon class="b" fill="#f7a857" points="488.9,431.1 485.9,432.5 485.2,433.7 487.0,441.4 489.8,440.5 492.3,438.0 492.9,433.6"/>
<polygon class="b" fill="#f7a857" points="487.8,422.5 487.8,419.2 484.8,416.2 479.1,418.6 478.3,420.4 483.1,423.9"/>
<polygon class="b" fill="#f7a857" points="485.9,432.5 481.6,428.1 477.6,428.6 476.3,432.9 478.1,436.0 485.2,433.7"/>
<polygon class="b" fill="#f7a857" points="469.2,426.6 476.0,426.5 477.3,421.0 470.3,419.2 468.2,425.7"/>
<polygon class="b" fill="#f7a857" points="490.3,425.3 488.9,431.1 492.9,433.6 493.0,432.9 494.9,429.1 496.1,424.3"/>
<polygon class="b" fill="#f7a857" points="468.4,440.8 470.9,443.6 474.0,446.8 474.7,446.4 475.7,440.1 470.4,438.8"/>
<polygon class="b" fill="#f7a857" points="491.6,416.7 495.6,418.1 496.1,414.0 494.2,411.5 491.7,411.1"/>
<polygon class="b" fill="#f7a857" points="477.5,438.8 475.7,440.1 474.7,446.4 476.6,445.5 480.4,444.3 484.1,444.3 484.7,443.6"/>
<polygon class="b" fill="#f7a857" points="481.6,428.1 485.9,432.5 488.9,431.1 490.3,425.3 487.8,422.5 483.1,423.9"/>
<polygon class="b" fill="#f7a857" points="470.3,419.2 469.3,416.7 463.0,417.3 461.5,423.0 467.1,425.8 468.2,425.7"/>
<polygon class="b" fill="#f7a857" points="491.6,416.7 487.8,419.2 487.8,422.5 490.3,425.3 496.1,424.3 496.1,424.1 495.5,419.0 495.6,418.1"/>
<polygon class="b" fill="#f7a857" points="476.3,432.9 470.4,432.5 469.2,434.3 470.4,438.8 475.7,440.1 477.5,438.8 478.1,436.0"/>
<polygon class="b" fill="#fadc7d" points="491.7,411.1 490.4,410.9 486.7,412.7 484.7,413.3 484.8,416.2 487.8,419.2 491.6,416.7"/>
<polygon class="b" fill="#f7a857" points="469.3,416.7 470.3,419.2 477.3,421.0 478.3,420.4 479.1,418.6 477.7,415.2 474.0,415.9 470.0,414.9"/>
<polygon class="b" fill="#f7a857" points="467.1,425.8 463.0,430.5 464.0,432.9 464.7,434.4 469.2,434.3 470.4,432.5 469.2,426.6 468.2,425.7"/>
<polygon class="b" fill="#fadc7d" points="461.5,423.0 463.0,417.3 460.7,415.3 457.1,415.6 458.9,420.3 460.2,423.4"/>
<polygon class="b" fill="#f7a857" points="478.1,436.0 477.5,438.8 484.7,443.6 486.0,441.7 487.0,441.4 485.2,433.7"/>
<polygon class="b" fill="#f7a857" points="460.2,423.4 461.4,426.6 463.0,430.5 467.1,425.8 461.5,423.0"/>
<polygon class="b" fill="#f7a857" points="479.1,418.6 484.8,416.2 484.7,413.3 480.4,414.6 477.7,415.2"/>
<polygon class="b" fill="#f7a857" points="469.3,416.7 470.0,414.9 469.0,414.6 464.6,412.1 461.9,411.4 460.7,415.3 463.0,417.3"/>
<polygon class="b" fill="#f7a857" points="464.7,434.4 467.1,439.2 468.4,440.8 470.4,438.8 469.2,434.3"/>
<polygon class="b" fill="#f7a857" points="470.4,432.5 476.3,432.9 477.6,428.6 476.0,426.5 469.2,426.6"/>
<polygon class="b" fill="#f7a857" points="476.0,426.5 477.6,428.6 481.6,428.1 483.1,423.9 478.3,420.4 477.3,421.0"/>
<polygon class="b" fill="#f7a857" points="446.9,397.6 448.8,395.7 451.3,396.3 452.0,399.5 450.7,402.7 448.2,403.3 446.9,400.8"/>
<polygon class="b" fill="#f7a857" points="489.8,398.2 492.3,396.3 495.5,399.5 497.4,403.9 496.7,407.1 494.2,407.7 491.1,403.9 489.8,401.4"/>
<polygon class="n" fill="#000" points="525.2,320.5 527.5,320.0 528.5,322.0 527.8,325.0 526.2,327.0 524.8,325.5 524.5,322.5"/>
<polygon class="b" fill="#ffffff" points="455.3,377.8 458.5,376.8 460.5,379.0 459.8,381.8 457.5,383.3 455.8,381.0"/>
<polygon class="b" fill="#ff0000" points="454.4,374.2 456.6,373.8 457.0,376.2 454.8,376.6"/>
<polygon class="n" fill="#000" points="389.1,334.0 390.0,333.1 390.9,334.0 390.0,334.9"/>
<polygon class="n" fill="#000" points="389.6,336.5 390.6,335.5 391.6,336.5 390.6,337.5"/>
<polygon class="n" fill="#000" points="389.2,339.0 390.2,338.0 391.2,339.0 390.2,340.0"/>
<polygon class="n" fill="#000" points="389.9,341.5 390.8,340.6 391.7,341.5 390.8,342.4"/>
<polygon class="n" fill="#000" points="388.8,343.5 389.6,342.7 390.4,343.5 389.6,344.3"/>
<polygon class="n" fill="#000" points="390.9,338.0 391.6,337.3 392.3,338.0 391.6,338.7"/>
<polygon class="n" fill="#000" points="142.0,300.5 143.0,299.5 144.0,300.5 143.0,301.5"/>
<polygon class="n" fill="#000" points="143.1,303.0 144.2,301.9 145.3,303.0 144.2,304.1"/>
<polygon class="n" fill="#000" points="142.2,305.5 143.2,304.5 144.2,305.5 143.2,306.5"/>
<polygon class="n" fill="#000" points="144.7,304.5 145.5,303.7 146.3,304.5 145.5,305.3"/>
<polygon class="n" fill="#000" points="143.1,308.0 144.0,307.1 144.9,308.0 144.0,308.9"/>
<polygon class="n" fill="#000" points="145.3,301.5 146.0,300.8 146.7,301.5 146.0,302.2"/>
<polygon class="n" fill="#000" points="142.0,310.5 142.8,309.7 143.6,310.5 142.8,311.3"/>
<polyline class="ln" points="240.0,105.4 254.0,104.3 255.2,113.0 264.9,116.2 268.1,121.6"/>
<polyline class="ln" points="221.6,117.3 223.8,124.9 222.7,131.4 228.1,140.0 228.1,152.0"/>
<polyline class="ln" points="228.1,147.6 255.2,147.6"/>
<polyline class="ln" points="200.0,152.0 228.1,152.0"/>
<polyline class="ln" points="287.3,169.0 287.3,197.4"/>
<polyline class="ln" points="174.8,196.0 240.9,196.0 240.9,197.4"/>
<polyline class="ln" points="209.7,236.8 240.9,236.8"/>
<polyline class="ln" points="217.0,266.0 287.3,266.0"/>
<polyline class="ln" points="199.7,279.6 287.3,279.6"/>
<polyline class="ln" points="319.9,69.1 323.9,75.6 329.6,72.3 331.2,69.1 350.7,69.1 353.1,79.6 357.2,83.7"/>
<polyline class="ln" points="349.9,56.9 350.7,69.1"/>
<polyline class="ln" points="357.2,71.5 357.2,83.7"/>
<polyline class="ln" points="323.9,75.6 319.9,82.0 319.9,84.0"/>
<polyline class="ln" points="319.9,92.6 319.9,104.8 324.7,105.6 324.7,112.1"/>
<polyline class="ln" points="321.1,126.0 316.8,129.2 314.6,132.5 304.9,132.5 304.9,129.2 299.5,129.2 299.5,136.8 287.3,137.4"/>
<polyline class="ln" points="287.3,191.0 317.3,190.0 322.0,189.5 342.3,190.0 343.5,197.4 351.0,196.0 356.0,196.0 359.7,200.0 363.5,205.0 369.7,202.4 384.6,201.0"/>
<polyline class="ln" points="384.6,113.5 384.6,228.5"/>
<polyline class="ln" points="441.3,149.5 444.9,148.6 448.5,149.5 453.9,148.6 456.6,146.0"/>
<polyline class="ln" points="444.9,148.6 445.8,155.9 443.0,163.0 442.2,167.6"/>
<polyline class="ln" points="453.9,148.6 454.8,153.0 459.3,159.5"/>
<polyline class="ln" points="457.5,179.3 464.7,175.7"/>
<polyline class="ln" points="453.9,182.0 456.0,188.6 458.6,195.0 459.8,206.0 456.0,214.8 451.0,217.3"/>
<polyline class="ln" points="458.6,182.4 466.0,177.4"/>
<polyline class="ln" points="459.8,206.0 466.0,206.0 472.3,202.4 479.8,209.8"/>
<polyline class="ln" points="456.0,214.8 466.0,223.5 477.3,221.0 484.8,224.8 491.0,214.8"/>
<polyline class="ln" points="466.0,223.5 463.6,241.0"/>
<polyline class="ln" points="484.8,224.8 486.0,234.8 483.5,246.0 479.8,246.0"/>
<polyline class="ln" points="483.5,246.0 482.3,252.2"/>
<polyline class="ln" points="483.5,251.0 503.5,249.7 508.5,247.2"/>
<polyline class="ln" points="499.7,218.6 503.5,223.5 506.0,233.5"/>
<polyline class="ln" points="196.0,150.0 184.8,153.7 186.0,165.0 179.8,168.7 181.0,174.9 174.8,182.4 177.3,187.4 174.8,196.1"/>
<polyline class="ln" points="132.4,173.7 137.4,174.9 149.9,171.2 164.8,169.9 171.1,173.7 174.8,182.4"/>
<polyline class="ln" points="167.3,160.0 171.1,173.7"/>
<polyline class="ln" points="198.5,196.1 193.5,204.8 191.0,217.3 189.8,224.8 183.5,237.3 179.8,244.2"/>
<polyline class="ln" points="163.6,199.9 167.3,196.1 174.8,196.1"/>
<polyline class="ln" points="161.1,222.3 162.3,229.8 159.8,237.3 164.8,241.0 174.8,243.5 179.8,244.2"/>
<polyline class="ln" points="141.1,224.8 139.9,234.8 137.4,243.5"/>
<polyline class="ln" points="139.9,234.8 124.9,236.0"/>
<polyline class="ln" points="164.8,241.0 161.1,247.2 162.3,259.7 167.3,263.4 173.5,259.7 174.8,249.7 174.8,243.5"/>
<polyline class="ln" points="179.8,244.2 189.8,244.7 191.0,257.2 187.3,259.7 186.0,267.2 174.8,268.4 173.5,259.7"/>
<polyline class="ln" points="189.8,244.7 208.5,244.7 209.7,236.8"/>
<polyline class="ln" points="208.5,244.7 209.7,257.2 217.2,265.9"/>
<polyline class="ln" points="191.0,257.2 199.7,264.7 209.7,265.9 217.2,265.9"/>
<polyline class="ln" points="149.9,248.5 159.8,246.0 161.1,247.2"/>
<polyline class="ln" points="149.9,248.5 148.6,259.7 153.6,264.7 162.3,259.7"/>
<polyline class="ln" points="137.4,243.5 149.9,248.5"/>
<polyline class="ln" points="418.7,117.1 421.4,122.5 428.6,121.6 431.4,123.4"/>
<polyline class="ln" points="421.4,122.5 418.7,130.6 423.2,138.7 424.1,143.2 428.6,142.3 431.4,145.0 434.1,143.2 435.9,135.1"/>
<polyline class="ln" points="406.1,142.3 416.0,144.1 424.1,143.2"/>
<polyline class="ln" points="416.0,144.1 415.1,154.1 416.9,161.3 415.1,168.5 417.8,175.7 411.5,181.1 403.4,182.0 398.0,175.7 399.8,168.5 406.1,161.3 404.3,150.5 406.1,142.3"/>
<polyline class="ln" points="434.1,143.2 432.3,149.5"/>
<polyline class="ln" points="402.5,154.1 404.3,159.5 398.0,166.7 390.8,165.8 386.3,169.4 384.5,168.5"/>
<polyline class="ln" points="417.8,175.7 421.4,177.5"/>
<polyline class="ln" points="403.4,182.0 401.6,190.1 405.2,200.0"/>
<polyline class="ln" points="386.3,169.4 387.2,181.1 384.5,184.7"/>
<polyline class="ln" points="384.7,197.4 394.6,194.9 403.4,198.6 412.1,193.6 417.1,192.4"/>
<polyline class="ln" points="417.1,209.8 414.6,217.3 417.1,232.3 424.5,232.3"/>
<polyline class="ln" points="417.1,209.8 424.5,208.6 429.5,199.9"/>
<polyline class="ln" points="384.7,228.5 416.6,228.5"/>
<polyline class="ln" points="178.0,301.3 189.0,298.6 210.0,297.0 230.0,294.9 250.0,295.3 267.0,294.5 269.2,292.8 276.0,292.6 277.6,294.5 287.3,294.5"/>
<polyline class="ln" points="189.8,277.4 189.8,309.8"/>
<polyline class="ln" points="191.0,279.9 199.7,279.9 209.7,292.4 215.9,292.4 215.9,299.9 191.0,301.1"/>
<polyline class="ln" points="174.8,272.4 186.0,271.2 191.0,265.0 204.7,267.5 209.7,272.4 217.2,271.2 217.2,266.2"/>
<polyline class="ln" points="186.0,271.2 189.8,277.4"/>
<polyline class="ln" points="174.8,257.5 174.8,267.5 186.0,271.2"/>
<polyline class="ln" points="157.3,250.0 162.3,260.0 174.8,257.5 182.3,262.5 191.0,265.0"/>
</g>
<g id="fringe" fill="none" stroke="#000" stroke-linecap="round"><path shape-rendering="crispEdges" stroke-linecap="square" stroke-width="1.0" d="M227.8,116.9h0 M242.0,88.7h0 M199.5,147.7h0 M225.3,113.6h0 M274.6,84.6h0 M225.6,113.8h0 M228.4,105.8h0 M233.1,103.7h0 M229.8,103.4h0 M205.2,140.3h0 M212.9,122.5h0 M200.5,143.5h0 M232.4,100.3h0 M199.5,144.3h0 M223.3,109.7h0 M226.5,116.2h0 M214.8,116.9h0 M209.1,135.0h0 M243.1,83.8h0 M236.0,97.2h0 M207.3,136.8h0 M227.3,117.7h0 M229.4,105.6h0 M234.9,100.7h0 M247.5,81.3h0 M214.6,116.6h0 M202.4,143.4h0 M241.8,91.1h0 M250.0,81.6h0 M229.4,114.8h0 M211.3,130.6h0 M229.5,114.5h0 M220.4,111.7h0 M227.1,115.1h0 M236.0,96.0h0 M212.5,123.4h0 M246.7,83.7h0 M252.7,79.7h0 M268.0,77.8h0 M241.8,91.9h0 M229.5,113.1h0 M263.7,76.1h0 M208.8,133.3h0 M272.4,80.9h0 M210.7,128.6h0 M259.1,76.9h0 M223.7,111.3h0 M271.4,79.2h0 M224.3,109.6h0 M228.6,112.6h0 M228.1,108.9h0 M199.2,146.3h0 M223.1,109.2h0 M228.6,115.6h0 M200.3,145.7h0 M225.4,112.4h0 M216.0,114.6h0 M229.0,115.3h0 M250.2,80.3h0 M230.9,103.5h0 M223.9,111.7h0 M212.5,118.6h0 M272.5,80.7h0 M260.0,77.4h0 M210.5,128.2h0 M213.3,120.1h0 M238.5,94.6h0 M241.6,90.9h0 M231.4,104.3h0 M235.2,96.9h0 M227.8,117.9h0 M228.8,111.8h0 M236.3,99.5h0 M213.2,117.5h0 M270.7,78.9h0 M228.3,118.5h0 M200.3,142.9h0 M266.2,75.7h0 M274.5,83.6h0 M225.1,113.6h0 M217.4,114.3h0 M244.9,84.1h0 M224.2,110.4h0 M227.7,117.6h0 M227.8,118.2h0 M211.7,123.4h0 M228.7,110.5h0 M229.5,104.9h0 M211.0,123.3h0 M231.6,103.6h0 M217.2,114.8h0 M222.5,109.7h0 M203.3,142.5h0 M258.8,77.2h0 M213.9,118.0h0 M244.8,87.6h0 M206.9,139.2h0 M261.4,76.5h0 M247.8,83.9h0 M215.5,115.5h0 M270.0,78.0h0 M200.0,146.4h0 M159.1,158.0h0 M138.2,170.2h0 M134.5,172.5h0 M170.2,157.6h0 M131.2,174.9h0 M192.7,150.2h0 M198.2,147.9h0 M150.8,161.9h0 M133.7,170.7h0 M163.0,158.1h0 M192.1,150.4h0 M132.0,173.3h0 M124.9,175.3h0 M161.1,157.7h0 M164.1,158.9h0 M150.1,162.9h0 M145.5,165.3h0 M139.6,167.9h0 M166.6,158.2h0 M173.3,154.8h0 M130.0,179.9h0 M165.6,159.5h0 M157.1,158.1h0 M125.0,173.6h0 M128.6,177.8h0 M170.1,157.5h0 M171.6,156.4h0 M154.4,159.8h0 M183.9,152.4h0 M129.3,178.5h0 M136.4,171.6h0 M171.7,155.7h0 M119.1,232.9h0 M118.0,231.7h0 M114.7,228.7h0 M114.1,223.0h0 M115.8,227.5h0 M114.8,224.6h0 M120.3,234.6h0 M121.2,237.2h0 M111.2,221.3h0 M120.0,235.2h0 M119.4,232.7h0 M118.9,233.3h0 M121.3,235.9h0 M117.0,231.8h0 M119.1,232.5h0 M111.1,221.5h0 M112.9,225.5h0 M113.0,227.3h0 M111.5,222.0h0 M113.5,224.1h0 M112.6,224.9h0 M117.3,232.0h0 M116.9,230.4h0 M112.2,221.1h0 M122.0,255.8h0 M121.8,255.8h0 M121.1,253.7h0 M122.7,259.5h0 M125.2,262.4h0 M123.3,258.0h0 M239.6,316.7h0 M223.5,328.6h0 M236.2,316.7h0 M230.8,325.7h0 M235.5,318.8h0 M218.6,328.8h0 M231.9,325.9h0 M235.7,318.0h0 M211.9,329.5h0 M213.5,328.8h0 M236.0,320.6h0 M209.6,328.2h0 M220.8,328.4h0 M227.1,327.0h0 M135.6,326.3h0 M137.4,330.2h0 M142.5,332.3h0 M151.3,338.0h0 M147.9,335.8h0 M149.5,338.3h0 M379.0,105.5h0 M362.6,94.2h0 M368.4,74.8h0 M331.8,49.2h0 M370.1,51.0h0 M372.3,43.3h0 M325.8,42.2h0 M318.9,44.1h0 M321.6,52.3h0 M322.5,50.3h0 M367.4,80.5h0 M375.6,74.7h0 M358.2,54.9h0 M362.8,93.2h0 M371.9,74.2h0 M368.9,64.9h0 M340.4,51.9h0 M368.4,83.3h0 M333.2,49.1h0 M300.0,66.6h0 M318.0,43.8h0 M372.0,44.6h0 M301.6,62.5h0 M369.0,44.6h0 M373.0,74.8h0 M366.3,74.1h0 M311.2,56.5h0 M330.5,46.4h0 M366.3,97.9h0 M360.1,87.3h0 M363.4,73.8h0 M374.0,78.3h0 M323.4,53.2h0 M373.8,74.8h0 M373.8,76.5h0 M299.7,69.9h0 M307.0,58.3h0 M373.0,99.8h0 M319.6,49.9h0 M357.1,53.2h0 M371.3,42.7h0 M365.0,81.7h0 M373.3,62.8h0 M299.6,64.8h0 M371.7,82.8h0 M373.4,79.7h0 M329.1,44.1h0 M371.6,43.5h0 M368.1,97.0h0 M365.5,74.1h0 M360.8,83.1h0 M329.6,45.1h0 M338.9,52.5h0 M370.2,48.4h0 M369.4,99.1h0 M353.5,56.4h0 M366.2,48.6h0 M311.4,56.6h0 M373.2,56.0h0 M324.0,43.2h0 M370.5,75.3h0 M378.0,102.7h0 M299.6,68.4h0 M319.5,55.5h0 M374.3,74.6h0 M324.1,42.8h0 M320.1,56.4h0 M380.4,105.2h0 M374.0,79.7h0 M299.5,65.4h0 M336.8,51.1h0 M339.9,52.4h0 M342.2,53.8h0 M369.5,41.2h0 M346.0,55.2h0 M371.2,64.0h0 M369.7,65.4h0 M334.8,50.1h0 M306.8,59.7h0 M343.0,54.2h0 M342.2,53.8h0 M361.3,52.4h0 M358.5,87.4h0 M361.2,94.0h0 M324.1,53.7h0 M330.0,45.9h0 M370.4,83.3h0 M363.3,82.3h0 M364.0,95.1h0 M359.1,90.3h0 M366.1,46.9h0 M371.0,53.1h0 M382.1,108.1h0 M338.2,52.1h0 M360.1,91.0h0 M364.6,69.5h0 M332.2,49.7h0 M307.3,58.5h0 M341.7,52.9h0 M299.9,64.7h0 M369.6,72.8h0 M340.2,52.2h0 M348.8,56.0h0 M368.7,83.7h0 M368.1,45.5h0 M367.4,81.5h0 M365.3,73.5h0 M368.3,98.8h0 M368.7,85.3h0 M377.2,103.4h0 M369.0,97.9h0 M318.8,48.7h0 M301.3,63.2h0 M367.4,74.1h0 M359.8,85.1h0 M361.4,94.2h0 M355.2,56.5h0 M351.6,56.2h0 M374.1,78.3h0 M367.3,67.1h0 M320.3,48.4h0 M300.1,63.7h0 M366.2,68.4h0 M373.2,100.8h0 M322.7,54.2h0 M307.7,57.5h0 M368.9,42.6h0 M358.7,90.3h0 M368.5,44.4h0 M347.1,55.8h0 M374.0,76.7h0 M368.4,45.2h0 M317.7,46.0h0 M317.8,43.4h0 M317.8,46.1h0 M379.0,105.5h0 M374.3,79.9h0 M403.9,107.4h0 M401.9,109.2h0 M404.0,107.8h0 M404.5,109.5h0 M400.2,106.4h0 M399.5,108.1h0 M400.7,106.4h0 M402.7,107.1h0 M402.3,110.0h0 M404.3,109.1h0 M399.9,105.0h0 M401.2,110.2h0 M403.1,107.7h0 M403.9,107.4h0 M535.0,206.4h0 M506.2,162.6h0 M539.0,209.3h0 M509.6,172.0h0 M447.5,78.7h0 M472.6,121.5h0 M545.8,218.5h0 M522.8,187.2h0 M460.2,84.0h0 M532.5,203.1h0 M492.8,148.5h0 M511.7,175.7h0 M479.7,138.6h0 M435.1,42.0h0 M482.9,140.0h0 M524.3,186.1h0 M449.1,79.5h0 M538.8,207.1h0 M512.3,174.2h0 M481.2,139.9h0 M478.1,138.7h0 M537.1,208.7h0 M463.9,93.3h0 M474.2,124.7h0 M524.0,186.6h0 M459.9,85.9h0 M527.2,197.5h0 M537.8,206.9h0 M477.1,135.7h0 M472.8,122.0h0 M497.7,152.8h0 M439.8,47.3h0 M524.0,193.2h0 M504.2,160.1h0 M506.2,162.8h0 M446.5,67.0h0 M440.4,53.1h0 M545.4,216.7h0 M472.9,127.7h0 M517.2,181.0h0 M532.4,203.1h0 M446.6,76.1h0 M544.2,216.1h0 M510.8,170.6h0 M506.1,162.4h0 M444.1,61.4h0 M443.5,60.9h0 M453.2,81.6h0 M513.5,177.6h0 M541.9,213.4h0 M440.8,51.4h0 M491.7,149.1h0 M473.6,129.4h0 M486.5,145.1h0 M529.1,200.1h0 M475.7,132.4h0 M524.8,193.2h0 M481.8,141.3h0 M482.1,140.5h0 M546.5,218.5h0 M447.7,74.2h0 M509.0,165.4h0 M439.7,51.1h0 M525.9,196.3h0 M529.5,198.2h0 M467.5,111.0h0 M465.4,106.0h0 M508.9,169.0h0 M545.2,217.0h0 M464.8,97.7h0 M467.6,106.3h0 M506.9,164.7h0 M503.6,155.0h0 M444.9,64.1h0 M451.1,81.3h0 M511.0,171.8h0 M525.0,195.1h0 M531.2,202.2h0 M506.4,162.6h0 M435.1,39.3h0 M527.2,195.8h0 M469.6,108.2h0 M485.5,142.8h0 M469.9,114.3h0 M486.7,145.0h0 M512.5,177.4h0 M446.7,75.3h0 M446.7,75.7h0 M547.8,220.9h0 M464.7,99.5h0 M533.6,205.0h0 M482.2,140.3h0 M471.5,116.4h0 M465.3,92.4h0 M507.3,163.8h0 M511.0,170.4h0 M448.9,78.0h0 M463.7,104.0h0 M525.9,193.7h0 M446.9,72.4h0 M436.2,42.6h0 M523.5,192.0h0 M539.4,209.1h0 M463.8,90.3h0 M449.9,81.4h0 M523.4,188.6h0 M521.2,183.3h0 M477.6,138.4h0 M433.7,38.3h0 M464.0,92.0h0 M448.7,77.2h0 M448.2,79.4h0 M467.7,108.8h0 M476.4,135.0h0 M517.1,180.0h0 M538.8,210.8h0 M531.6,201.9h0 M443.8,60.7h0 M468.9,113.7h0 M477.9,137.6h0 M437.8,47.5h0 M463.8,90.8h0 M452.3,80.8h0 M423.2,92.9h0 M426.0,54.9h0 M423.1,68.8h0 M422.4,67.6h0 M427.4,47.2h0 M423.9,60.9h0 M422.6,67.9h0 M422.6,68.4h0 M425.7,53.1h0 M422.5,69.9h0 M426.4,50.1h0 M422.2,76.1h0 M422.8,70.9h0 M426.7,49.0h0 M422.1,73.6h0 M425.5,54.5h0 M422.4,87.1h0 M422.1,74.1h0 M426.2,47.5h0 M524.1,182.3h0 M514.6,176.6h0 M526.6,188.6h0 M519.1,180.3h0 M521.0,183.3h0 M517.8,177.6h0 M525.6,189.8h0 M514.4,177.1h0 M514.9,179.7h0 M523.5,184.4h0 M526.8,193.4h0 M516.7,174.1h0 M515.2,178.3h0 M517.2,180.3h0 M524.3,189.8h0 M520.9,182.5h0 M518.3,181.2h0 M517.7,179.8h0 M522.6,184.0h0 M519.1,181.8h0 M515.9,174.2h0 M524.6,187.6h0 M519.8,181.7h0 M522.1,185.1h0 M518.6,181.1h0 M520.7,183.2h0 M520.2,182.1h0 M518.6,180.0h0 M524.4,182.8h0 M521.1,181.2h0 M524.8,190.0h0 M522.0,180.8h0 M519.5,180.7h0 M514.7,175.4h0 M552.6,245.0h0 M553.2,238.8h0 M551.6,233.7h0 M547.9,221.7h0 M551.2,233.8h0 M552.3,247.9h0 M551.4,236.9h0 M550.7,228.7h0 M551.0,266.1h0 M539.9,305.8h0 M456.8,383.6h0 M522.3,344.1h0 M498.2,374.9h0 M532.5,316.1h0 M469.2,386.6h0 M535.8,311.8h0 M549.8,276.4h0 M546.0,289.7h0 M546.1,289.7h0 M521.9,347.5h0 M525.3,331.7h0 M490.9,376.1h0 M551.3,266.8h0 M514.9,367.1h0 M502.1,373.3h0 M527.5,326.1h0 M449.1,386.3h0 M478.0,387.3h0 M520.0,351.5h0 M433.7,383.1h0 M453.6,382.4h0 M522.6,342.6h0 M442.2,387.2h0 M528.3,323.4h0 M523.3,340.0h0 M455.9,383.4h0 M544.6,296.9h0 M346.1,319.6h0 M333.6,301.6h0 M342.8,313.7h0 M333.5,305.9h0 M346.3,317.8h0 M343.3,315.3h0 M361.1,339.3h0 M341.5,312.7h0 M342.7,314.5h0 M346.8,318.8h0 M357.4,336.1h0 M334.0,305.3h0 M354.8,331.1h0 M341.5,313.2h0 M347.7,320.0h0 M355.4,336.3h0 M364.1,333.9h0 M357.2,334.9h0 M366.1,334.1h0 M351.9,327.4h0 M360.2,337.6h0 M351.3,325.6h0 M360.2,337.8h0 M351.2,327.1h0 M361.8,338.2h0 M338.9,310.8h0 M359.8,340.0h0 M359.4,338.5h0 M358.1,337.5h0 M358.4,338.3h0 M358.7,336.7h0 M361.1,338.8h0 M356.1,336.6h0 M360.2,339.1h0 M363.6,334.9h0 M361.4,338.2h0 M360.5,338.1h0 M362.7,337.9h0 M359.9,338.2h0 M361.3,339.0h0 M361.2,339.4h0 M387.7,328.3h0 M399.8,350.6h0 M387.9,344.2h0 M373.1,343.4h0 M388.0,327.6h0 M387.1,345.0h0 M386.8,345.6h0 M389.8,332.2h0 M387.6,346.7h0 M389.2,343.2h0 M380.2,341.9h0 M378.1,342.6h0 M382.1,339.7h0 M390.2,338.6h0 M389.7,330.9h0 M494.7,412.0h0 M494.4,417.0h0 M460.7,426.5h0 M493.5,414.3h0 M461.6,411.5h0 M457.8,414.7h0 M456.2,410.2h0 M467.0,437.5h0 M481.1,415.4h0 M488.4,442.4h0 M463.3,427.3h0 M478.5,415.6h0 M458.8,411.1h0 M465.6,412.8h0 M466.6,438.5h0 M469.0,442.5h0 M496.6,423.7h0 M481.5,413.7h0 M495.7,410.5h0 M489.1,441.9h0 M494.5,427.3h0 M463.8,433.3h0 M476.8,446.5h0 M469.4,414.1h0 M473.9,416.2h0 M468.9,441.9h0 M465.7,435.8h0 M493.5,429.8h0 M461.8,430.2h0 M464.6,435.5h0 M482.6,444.2h0 M490.2,440.2h0 M485.7,442.8h0 M493.9,436.9h0 M484.3,412.2h0 M462.2,411.3h0 M476.6,416.6h0 M495.1,434.4h0 M492.6,432.5h0 M472.6,446.2h0 M474.8,416.3h0 M460.3,418.8h0 M485.6,442.4h0 M471.0,442.2h0 M477.1,414.0h0 M493.2,411.4h0 M494.4,435.6h0 M457.8,409.5h0 M494.4,431.4h0 M494.7,432.0h0 M468.3,438.3h0 M493.9,434.8h0 M478.4,415.3h0 M473.8,446.6h0 M470.7,441.9h0 M458.6,417.6h0 M456.4,410.3h0 M477.3,416.3h0 M468.9,414.7h0 M489.8,440.1h0 M482.1,414.3h0 M494.9,422.7h0 M463.2,430.9h0 M466.9,413.3h0 M471.1,443.0h0 M478.9,445.3h0 M494.9,420.6h0 M481.2,445.5h0 M483.7,444.4h0 M477.5,444.9h0 M494.7,415.5h0 M480.9,445.8h0 M495.3,429.2h0 M479.0,446.1h0 M466.4,412.6h0 M465.4,410.8h0 M469.5,442.5h0 M493.9,429.3h0 M466.3,435.9h0 M466.7,437.5h0 M483.9,444.8h0 M465.5,412.8h0 M482.8,445.1h0 M487.0,443.0h0 M488.3,412.2h0 M477.1,447.4h0 M458.0,407.6h0 M486.0,442.9h0 M478.8,414.9h0 M457.0,411.6h0 M493.2,412.6h0 M478.6,444.5h0 M473.5,414.7h0 M457.1,409.3h0 M479.6,414.9h0 M491.2,438.6h0 M488.6,438.9h0 M484.6,440.8h0 M490.9,439.5h0 M485.0,441.6h0 M490.7,441.3h0 M491.9,438.2h0 M489.2,437.4h0 M483.8,441.5h0 M490.9,439.3h0 M491.2,439.9h0 M491.1,438.9h0 M483.2,440.4h0 M485.8,439.5h0 M490.0,438.6h0 M484.8,440.0h0 M486.3,440.0h0 M492.4,436.3h0 M493.2,437.8h0 M490.1,439.7h0 M491.9,438.4h0 M486.4,442.0h0 M485.2,441.6h0 M493.0,435.9h0 M489.6,437.6h0 M494.5,437.6h0 M489.5,440.1h0 M456.1,404.6h0 M456.0,408.1h0 M455.8,405.0h0 M457.5,406.9h0 M455.4,404.3h0 M455.9,405.8h0 M496.4,406.3h0 M489.8,397.8h0 M491.6,399.1h0 M491.2,399.2h0 M491.5,398.7h0 M494.8,403.7h0 M491.2,400.2h0 M496.6,405.1h0 M489.4,397.7h0"/><path shape-rendering="crispEdges" stroke-linecap="square" stroke-width="1.5" d="M224.8,112.9h0 M253.2,78.7h0 M268.2,75.6h0 M236.3,96.5h0 M199.5,145.2h0 M227.6,118.2h0 M249.5,79.9h0 M234.5,103.2h0 M255.0,78.5h0 M236.4,98.5h0 M211.7,128.1h0 M260.8,77.0h0 M202.3,144.9h0 M217.4,113.9h0 M212.5,125.7h0 M249.8,81.5h0 M208.5,135.8h0 M214.6,117.4h0 M212.4,119.7h0 M201.4,144.5h0 M237.5,94.7h0 M251.1,79.3h0 M257.4,77.8h0 M218.7,110.7h0 M241.4,92.6h0 M267.8,76.3h0 M247.1,83.6h0 M213.4,117.6h0 M229.0,113.3h0 M229.8,115.3h0 M243.0,88.8h0 M249.9,81.2h0 M230.7,102.5h0 M214.1,117.6h0 M255.3,78.2h0 M265.0,76.3h0 M214.7,116.6h0 M210.2,133.2h0 M248.3,82.0h0 M245.0,85.6h0 M211.9,123.4h0 M221.1,109.1h0 M232.0,103.3h0 M211.0,127.9h0 M228.9,113.9h0 M238.5,95.2h0 M231.0,103.9h0 M256.5,77.7h0 M212.9,117.8h0 M272.5,81.6h0 M227.5,117.5h0 M266.8,76.5h0 M239.3,94.0h0 M210.4,125.2h0 M258.7,77.2h0 M275.1,85.1h0 M274.9,84.5h0 M239.8,92.6h0 M226.9,116.1h0 M256.9,75.8h0 M232.7,104.2h0 M272.7,78.2h0 M208.1,137.6h0 M227.4,116.7h0 M238.1,94.7h0 M203.5,143.1h0 M246.0,85.4h0 M210.7,124.4h0 M248.2,83.5h0 M194.4,149.3h0 M185.0,151.8h0 M169.9,158.3h0 M155.9,160.0h0 M192.6,149.6h0 M129.2,178.7h0 M166.3,159.6h0 M130.8,176.1h0 M136.8,169.6h0 M129.2,177.9h0 M186.3,152.8h0 M195.5,149.0h0 M174.2,155.1h0 M178.5,152.0h0 M155.7,159.4h0 M125.8,175.1h0 M131.0,175.8h0 M132.8,170.4h0 M195.7,149.5h0 M151.0,162.5h0 M170.3,157.8h0 M115.6,227.5h0 M115.7,230.1h0 M117.0,230.1h0 M115.7,227.3h0 M121.8,235.8h0 M116.3,230.8h0 M111.9,223.4h0 M116.5,230.5h0 M114.1,225.7h0 M114.6,229.7h0 M113.9,226.9h0 M112.7,224.2h0 M113.8,224.6h0 M122.4,255.4h0 M123.1,260.6h0 M124.5,260.6h0 M216.9,329.2h0 M230.3,327.2h0 M221.6,328.1h0 M235.5,325.3h0 M235.3,320.0h0 M212.8,327.6h0 M237.4,323.0h0 M223.0,327.3h0 M214.0,328.2h0 M235.9,323.3h0 M213.9,327.6h0 M236.5,325.0h0 M214.0,329.0h0 M173.2,337.2h0 M140.0,332.3h0 M157.5,340.6h0 M158.1,340.5h0 M365.5,46.6h0 M361.3,90.8h0 M361.9,82.4h0 M364.1,46.9h0 M348.7,56.0h0 M370.3,64.3h0 M368.0,45.1h0 M364.5,70.2h0 M380.7,104.3h0 M367.4,82.2h0 M335.0,50.5h0 M360.9,52.4h0 M365.4,47.2h0 M318.4,56.7h0 M319.2,47.1h0 M362.6,52.0h0 M323.6,52.3h0 M366.4,74.2h0 M366.8,47.2h0 M360.9,83.7h0 M322.0,52.2h0 M374.1,81.2h0 M374.3,77.4h0 M334.6,51.1h0 M370.2,47.9h0 M324.0,53.5h0 M347.0,52.9h0 M362.0,81.9h0 M355.2,54.7h0 M307.9,58.4h0 M367.2,82.2h0 M370.7,100.1h0 M370.7,48.4h0 M359.0,85.6h0 M370.8,49.0h0 M377.6,103.0h0 M299.0,70.3h0 M311.6,56.8h0 M335.3,49.7h0 M374.5,101.1h0 M319.3,47.3h0 M371.2,45.5h0 M365.6,79.5h0 M308.6,58.0h0 M318.6,44.3h0 M324.9,53.3h0 M373.2,100.7h0 M331.9,49.9h0 M366.1,80.3h0 M321.1,49.7h0 M373.3,100.2h0 M359.8,84.2h0 M372.5,60.2h0 M320.1,47.8h0 M367.5,67.8h0 M336.5,49.7h0 M371.2,61.8h0 M322.9,55.6h0 M319.6,49.8h0 M303.7,62.4h0 M366.8,43.3h0 M333.1,46.5h0 M338.9,52.0h0 M357.7,53.5h0 M372.4,74.4h0 M359.6,84.7h0 M318.9,55.9h0 M377.8,103.4h0 M349.3,55.9h0 M373.0,75.1h0 M319.7,47.8h0 M343.5,54.4h0 M364.5,74.2h0 M367.4,98.4h0 M366.2,47.2h0 M362.8,81.0h0 M363.0,80.9h0 M353.1,54.6h0 M326.1,41.8h0 M400.1,106.1h0 M400.8,106.9h0 M402.5,105.4h0 M404.3,107.0h0 M403.1,108.0h0 M402.0,105.7h0 M404.1,108.9h0 M405.1,108.0h0 M545.6,217.9h0 M531.2,201.4h0 M434.5,39.2h0 M524.2,188.5h0 M480.6,139.9h0 M474.7,136.7h0 M433.7,35.8h0 M542.9,213.9h0 M466.3,108.3h0 M508.4,168.4h0 M473.0,129.0h0 M447.9,74.8h0 M541.7,212.2h0 M521.1,183.5h0 M528.5,198.9h0 M440.4,50.7h0 M517.0,179.2h0 M455.2,81.6h0 M464.6,105.9h0 M491.3,149.0h0 M497.6,150.9h0 M471.3,122.8h0 M458.9,84.5h0 M514.0,178.1h0 M520.8,183.9h0 M507.3,165.0h0 M439.9,51.1h0 M461.1,87.8h0 M466.3,103.3h0 M439.8,49.2h0 M467.3,109.2h0 M461.6,88.2h0 M511.0,174.2h0 M495.9,150.3h0 M492.2,149.3h0 M465.3,103.0h0 M466.4,108.4h0 M449.1,79.4h0 M503.9,156.6h0 M472.8,128.9h0 M544.2,214.5h0 M507.4,166.0h0 M464.4,97.7h0 M446.8,74.2h0 M503.3,156.4h0 M444.4,58.9h0 M470.9,119.8h0 M538.3,209.2h0 M500.6,154.0h0 M459.7,84.1h0 M456.1,82.9h0 M433.5,37.7h0 M446.2,66.4h0 M475.4,136.5h0 M507.0,164.8h0 M467.5,105.0h0 M530.4,201.3h0 M524.9,185.1h0 M447.9,70.7h0 M463.5,90.8h0 M475.3,131.5h0 M547.5,219.0h0 M438.5,45.7h0 M532.8,204.2h0 M471.4,119.7h0 M541.8,214.0h0 M522.8,188.1h0 M464.4,96.2h0 M525.7,195.6h0 M539.1,211.1h0 M468.9,109.9h0 M431.3,37.4h0 M548.1,218.7h0 M473.0,122.7h0 M420.7,108.5h0 M415.8,120.5h0 M415.8,120.1h0 M422.8,65.4h0 M419.7,112.3h0 M417.3,118.2h0 M431.0,36.9h0 M422.1,75.3h0 M428.6,41.9h0 M422.8,93.2h0 M428.4,43.1h0 M525.6,188.6h0 M525.1,186.7h0 M515.9,179.6h0 M523.2,188.3h0 M516.7,179.4h0 M514.5,175.6h0 M514.0,178.1h0 M515.3,177.3h0 M517.6,179.9h0 M524.1,186.9h0 M525.0,186.3h0 M525.1,189.3h0 M521.6,182.6h0 M514.1,176.0h0 M514.5,176.7h0 M513.9,178.3h0 M552.2,254.9h0 M550.1,229.5h0 M553.3,239.9h0 M551.2,238.9h0 M551.4,243.2h0 M552.5,241.3h0 M550.5,231.7h0 M551.0,235.6h0 M549.7,222.5h0 M498.0,374.4h0 M543.6,298.4h0 M530.7,318.8h0 M522.0,343.3h0 M508.5,372.0h0 M516.9,362.1h0 M532.4,316.5h0 M523.8,337.9h0 M515.3,367.5h0 M419.7,379.4h0 M552.8,260.3h0 M427.0,381.2h0 M447.4,386.6h0 M527.2,326.6h0 M550.2,270.4h0 M461.3,382.9h0 M538.1,308.5h0 M525.4,332.9h0 M427.4,381.0h0 M512.2,370.4h0 M518.9,355.0h0 M359.5,336.8h0 M336.1,308.5h0 M346.9,319.1h0 M333.1,302.9h0 M357.7,335.2h0 M344.6,315.5h0 M335.0,307.0h0 M343.0,313.7h0 M342.0,313.0h0 M344.3,316.7h0 M347.2,319.5h0 M363.9,333.7h0 M353.3,330.7h0 M357.5,336.2h0 M358.9,337.1h0 M363.0,337.9h0 M359.5,339.0h0 M358.7,338.3h0 M358.3,337.9h0 M387.3,345.3h0 M388.7,327.3h0 M390.1,336.8h0 M382.3,338.9h0 M388.5,327.7h0 M389.6,331.5h0 M495.6,428.2h0 M484.1,442.9h0 M481.3,413.9h0 M472.9,444.4h0 M475.4,415.6h0 M480.0,445.7h0 M460.3,410.3h0 M458.5,411.2h0 M461.9,424.2h0 M483.5,444.5h0 M478.8,414.4h0 M495.4,414.7h0 M492.1,436.4h0 M494.0,430.3h0 M481.0,414.8h0 M472.7,446.5h0 M456.9,410.2h0 M464.3,435.8h0 M492.8,432.8h0 M492.3,436.8h0 M459.4,415.5h0 M494.3,414.4h0 M488.7,441.4h0 M480.8,414.3h0 M460.6,426.1h0 M458.4,409.5h0 M487.3,412.5h0 M492.2,411.6h0 M483.5,413.8h0 M462.7,428.0h0 M457.1,407.8h0 M474.5,448.0h0 M460.7,427.1h0 M494.2,410.7h0 M456.9,410.8h0 M459.4,419.7h0 M494.2,429.0h0 M493.7,431.3h0 M457.4,409.0h0 M494.5,420.4h0 M472.0,443.9h0 M458.9,417.2h0 M478.8,445.0h0 M483.4,444.4h0 M464.2,410.8h0 M476.7,415.5h0 M481.0,415.3h0 M466.5,439.0h0 M486.8,440.9h0 M493.7,437.0h0 M489.3,441.6h0 M492.8,437.6h0 M489.7,443.2h0 M489.6,438.2h0 M492.7,435.3h0 M488.6,438.4h0 M491.9,438.0h0 M483.9,442.3h0 M492.8,437.2h0 M490.3,437.6h0 M487.9,439.3h0 M491.4,437.5h0 M457.6,405.7h0 M456.8,407.0h0 M455.8,403.6h0 M455.5,406.4h0 M458.2,408.9h0 M457.3,406.0h0 M493.9,403.9h0 M495.0,404.3h0 M488.7,397.0h0 M493.2,403.9h0 M496.9,405.3h0 M493.9,400.9h0 M495.9,404.3h0 M489.7,398.5h0 M490.4,398.6h0 M493.4,401.2h0 M491.3,400.4h0"/><path shape-rendering="crispEdges" stroke-linecap="square" stroke-width="2.1" d="M212.6,124.5h0 M272.3,79.5h0 M200.9,146.5h0 M242.6,91.8h0 M200.2,146.1h0 M223.9,109.9h0 M228.2,118.6h0 M233.7,101.4h0 M209.7,134.5h0 M228.0,105.5h0 M227.0,112.6h0 M268.7,77.6h0 M272.8,80.2h0 M268.2,77.7h0 M212.2,123.8h0 M226.3,111.8h0 M269.6,78.0h0 M261.3,76.5h0 M219.6,111.4h0 M234.3,102.1h0 M212.7,118.9h0 M256.1,77.9h0 M216.3,114.3h0 M275.0,84.4h0 M193.4,150.2h0 M130.7,179.3h0 M172.9,155.1h0 M155.7,160.2h0 M112.4,221.9h0 M120.0,237.8h0 M114.0,225.4h0 M118.5,233.7h0 M111.7,221.7h0 M113.9,230.4h0 M123.5,256.5h0 M232.8,325.2h0 M231.4,326.4h0 M213.6,328.4h0 M236.1,321.9h0 M135.8,327.9h0 M169.1,338.3h0 M138.4,331.8h0 M300.6,64.7h0 M358.7,91.0h0 M359.0,91.6h0 M318.0,56.3h0 M332.2,48.7h0 M311.0,57.6h0 M369.6,98.9h0 M357.3,90.0h0 M358.8,91.2h0 M366.3,73.6h0 M372.0,44.1h0 M297.8,72.0h0 M365.4,70.3h0 M363.6,95.9h0 M365.5,70.0h0 M364.8,69.9h0 M379.8,106.1h0 M369.5,43.7h0 M312.1,57.6h0 M348.6,54.4h0 M321.1,43.1h0 M359.1,85.8h0 M332.2,49.3h0 M319.4,48.3h0 M352.8,56.8h0 M352.5,55.7h0 M398.3,108.5h0 M401.0,104.6h0 M398.3,108.5h0 M447.2,75.2h0 M501.8,155.6h0 M492.5,149.3h0 M514.8,178.0h0 M523.0,188.3h0 M512.8,177.6h0 M455.0,82.0h0 M509.2,170.9h0 M437.2,44.3h0 M448.1,73.9h0 M466.9,93.1h0 M474.6,136.1h0 M444.8,62.2h0 M475.1,130.7h0 M495.6,151.4h0 M544.1,215.4h0 M460.3,85.9h0 M436.3,44.0h0 M467.3,96.7h0 M524.9,194.5h0 M465.0,95.8h0 M447.7,76.7h0 M540.0,209.9h0 M522.7,187.5h0 M426.6,47.3h0 M416.7,120.0h0 M418.6,114.9h0 M422.4,79.6h0 M413.9,122.9h0 M422.1,78.5h0 M515.6,178.3h0 M514.7,176.0h0 M522.1,185.5h0 M514.6,178.5h0 M526.6,191.9h0 M517.0,178.1h0 M550.4,227.8h0 M551.2,238.5h0 M552.0,254.8h0 M550.9,237.0h0 M539.3,306.5h0 M546.9,287.1h0 M502.0,373.8h0 M360.2,338.0h0 M360.4,338.9h0 M339.7,311.3h0 M335.4,308.2h0 M335.5,308.3h0 M356.7,335.9h0 M362.3,339.8h0 M390.2,338.7h0 M372.5,343.4h0 M374.6,343.6h0 M398.0,346.5h0 M465.5,435.0h0 M494.3,412.3h0 M460.9,428.0h0 M456.9,408.5h0 M459.3,408.8h0 M481.6,444.4h0 M467.7,441.0h0 M493.3,411.2h0 M457.4,413.2h0 M485.0,444.0h0 M482.1,414.2h0 M461.5,426.2h0 M484.7,439.0h0 M494.9,435.5h0 M491.5,439.2h0 M456.5,407.7h0 M457.9,408.1h0 M489.4,399.3h0 M496.8,405.7h0 M492.1,403.1h0 M488.8,397.7h0 M493.3,403.8h0"/><polyline stroke-width="1" stroke-linejoin="round" points="275.7,87.0 276.1,85.7 275.3,85.1 274.6,84.5 273.4,84.2 273.1,83.3 272.5,82.6 271.7,82.1 272.3,80.6 270.4,81.5 272.0,77.4 269.6,79.4 269.6,77.8 268.3,78.1 268.2,76.6 267.0,76.8 265.7,77.1 266.3,71.0 264.8,78.4 262.2,71.7 262.4,76.2 261.8,77.3 260.7,76.7 260.2,78.6 258.8,76.8 258.4,78.9 257.0,76.9 255.5,76.2 255.7,78.9 256.3,81.7 253.7,79.0 254.6,82.3 252.9,81.1 251.8,81.1 251.0,81.5 250.5,82.3 249.7,82.8 249.4,83.8 247.4,82.7 245.6,82.0 246.9,85.0 245.4,84.6 245.1,85.9 245.9,87.2 246.6,88.4 243.2,88.1 244.4,89.5 249.9,92.6 243.5,91.1 243.8,92.8 241.5,91.4 241.7,93.1 241.6,94.4 240.0,93.8 239.6,94.8 239.3,95.9 238.0,95.7 239.3,97.0 237.3,97.3 235.4,97.6 235.9,98.7 237.3,100.3 234.7,99.9 236.0,101.7 235.1,102.2 234.4,102.7 233.6,102.6 233.4,104.3 231.6,102.7 230.9,103.3 230.8,105.1 230.3,106.0 229.0,105.6 227.1,105.2 229.1,106.8 226.2,108.6 227.6,109.1 228.8,109.7 230.2,110.2 228.4,111.7 227.6,112.9 230.0,113.1 227.8,113.2 229.3,114.5 229.4,115.5 228.9,116.3 229.4,117.5 229.3,118.4 228.9,119.2 228.6,118.8 225.8,119.4 227.7,117.3 225.8,117.3 226.5,115.9 225.8,115.2 225.5,114.4 225.3,113.5 224.1,113.1 223.6,112.4 222.9,111.7 223.6,110.3 223.7,111.1 221.4,109.6 222.1,111.6 221.6,112.3 219.6,111.6 219.1,112.4 218.2,112.8 218.6,114.5 218.3,115.4 217.6,116.0 216.1,115.8 215.8,116.7 214.7,116.9 214.3,117.8 216.1,119.0 213.5,119.5 214.3,120.5 213.9,121.4 214.6,122.4 214.6,123.3 214.0,124.1 209.8,124.1 212.0,125.5 213.4,126.8 212.7,127.6 212.6,128.5 210.5,128.9 212.9,130.4 211.3,130.9 211.3,131.9 210.1,132.5 211.1,133.8 209.6,133.9 209.8,135.1 209.9,136.2 208.3,136.3 207.9,137.1 208.1,138.3 206.9,138.6 206.2,139.2 206.8,140.8 205.5,140.9 206.1,142.5 204.3,142.2 203.2,142.4 203.4,143.8 203.3,144.9 202.6,145.5 202.2,146.3 200.2,145.8 200.1,146.9 200.0,148.0"/><polyline stroke-width="1" stroke-linejoin="round" points="200.0,148.1 199.1,148.2 198.1,148.2 197.2,148.5 197.2,150.5 196.3,150.9 194.9,149.6 194.7,151.7 192.9,149.3 192.8,151.9 192.1,152.7 191.2,152.7 190.1,152.4 189.4,153.0 188.1,152.1 187.3,152.4 186.3,152.3 185.9,153.8 184.9,153.4 184.0,153.4 183.2,152.5 182.1,154.2 181.4,152.9 180.5,152.8 179.7,152.0 178.8,151.7 177.8,152.5 176.2,151.8 176.9,153.9 175.8,154.0 175.1,154.7 173.9,154.6 173.6,155.6 172.4,155.6 171.9,156.5 172.1,158.0 170.4,157.1 169.9,158.1 169.8,159.8 168.2,158.7 167.1,158.5 167.0,159.5 165.9,160.8 165.0,160.3 164.3,159.0 163.2,160.4 162.4,159.6 161.4,160.1 160.6,159.5 159.8,158.8 158.8,157.8 157.9,158.7 157.2,159.3 156.4,159.7 155.4,159.9 154.8,160.6 154.2,161.3 153.7,162.2 152.8,162.4 150.2,159.9 151.6,164.0 150.5,163.9 150.2,165.1 148.3,163.7 148.0,165.0 146.8,164.7 146.5,166.0 145.9,166.6 145.1,167.1 143.9,166.9 143.2,167.5 142.7,168.3 141.7,168.3 141.1,169.1 139.9,168.7 139.7,170.4 139.1,171.2 137.8,170.6 137.0,171.1 135.4,169.9 135.1,171.2 134.5,172.1 133.6,172.3 133.5,174.2 130.4,173.2 131.8,174.6 131.6,175.4 132.9,176.7 130.8,177.1 130.1,177.8 131.5,179.1 131.4,180.1 130.5,180.7 130.4,181.7 129.4,181.7 130.5,180.4 129.9,179.6 129.6,178.7 126.5,179.1 128.4,177.3 127.7,176.6 127.1,176.4 126.6,175.0 125.7,175.1 125.0,176.0"/><polyline stroke-width="1" stroke-linejoin="round" points="123.7,175.5 123.9,176.6 124.6,177.8 123.6,178.4 123.7,179.4 123.9,180.4 123.2,181.1 122.4,181.8 123.4,183.2 122.5,183.8 122.5,184.8 121.4,185.3 121.6,186.4 121.4,187.3 120.3,187.9 120.7,188.9 120.1,189.8 120.2,190.7 120.1,191.6 120.4,192.6 118.8,193.2 119.9,194.4 119.3,195.2 119.3,196.1 119.3,197.0 119.0,197.9 119.5,198.9 119.5,199.8 118.6,200.6 118.9,201.5 118.1,202.4 118.4,203.3 118.4,204.2 117.9,205.1 118.9,206.1 118.2,207.0 118.8,207.9 119.1,208.8 117.9,209.6 118.1,210.4 117.8,211.3 118.4,212.5 116.9,212.9 118.0,214.3 117.0,214.9 116.3,215.6 115.8,216.4 115.8,217.3 115.3,218.1 114.8,218.9 114.2,219.7 115.1,221.0 114.6,221.7 114.4,222.0 114.6,223.0 115.1,223.7 116.7,224.0 115.9,225.4 115.9,226.4 116.2,227.2 116.8,228.0 115.6,229.6 117.5,229.6 116.8,231.3 118.4,231.2 119.1,231.8 119.2,232.9 120.2,233.3 120.5,234.2 120.7,235.2 122.0,235.4 122.7,236.0 122.2,237.3 122.8,238.0 124.1,238.4 123.6,239.6 124.1,240.4 123.8,241.5 125.4,241.8 126.5,242.2 126.0,243.5"/><polyline stroke-width="1" stroke-linejoin="round" points="209.7,326.9 210.6,327.2 211.5,326.5 212.4,327.6 213.3,326.9 214.3,326.4 215.1,328.1 216.0,328.1 216.9,328.5 217.8,327.2 218.7,327.2 219.7,328.3 220.4,327.1 221.4,327.7 222.3,327.5 223.2,327.4 224.2,328.0 225.0,327.3 226.0,327.6 226.7,326.5 227.8,327.6 228.7,327.6 229.5,326.6 229.9,324.9 231.3,326.1 231.6,324.4 233.1,325.6 233.5,324.2 234.2,323.5 235.1,323.4 235.1,323.5 235.8,322.4 236.6,321.3 235.2,320.7 236.0,319.6 233.7,319.2 235.2,317.9 234.4,316.5 234.4,314.6 236.3,316.3 236.6,314.8 238.1,315.8 239.0,315.7 239.6,314.8"/><polyline stroke-width="1" stroke-linejoin="round" points="380.8,107.1 380.4,106.2 379.4,105.9 378.6,105.5 378.1,104.6 377.9,103.6 376.4,103.9 377.2,101.6 375.7,101.9 374.3,102.2 375.1,98.1 372.8,101.7 372.3,100.3 370.8,101.8 370.4,100.3 370.2,98.1 369.2,98.4 368.2,98.8 367.6,98.1 366.3,98.3 365.4,98.0 364.5,97.8 363.7,97.3 363.4,96.2 362.7,95.6 361.3,95.9 363.1,92.4 360.7,93.8 359.5,93.7 361.6,90.3 360.0,90.7 356.4,93.0 358.0,90.1 357.6,89.9 357.2,88.8 358.4,88.3 358.6,87.4 357.9,86.2 358.6,85.4 361.2,86.4 358.3,82.8 360.4,83.5 360.8,82.6 362.3,82.7 361.2,80.6 362.2,80.0 363.6,80.6 364.3,79.9 364.9,79.1 366.2,79.7 365.8,79.5 366.3,79.8 368.6,80.0 369.3,80.8 369.5,81.6 368.1,83.0 368.5,83.2 369.2,82.4 370.6,83.6 371.5,83.6 372.6,84.0 372.8,81.9 374.4,81.6 372.9,80.7 373.8,79.8 375.6,78.9 373.0,78.0 372.2,77.1 371.8,76.2 373.1,75.5 372.2,74.8 371.3,74.6 370.3,77.0 369.6,73.4 368.6,76.0 367.4,76.7 367.2,73.9 365.6,76.1 365.8,72.6 364.5,73.7 363.4,74.2 363.4,73.7 362.1,72.3 364.2,72.0 363.8,70.9 363.8,70.0 364.6,69.4 364.2,67.7 364.7,67.0 366.2,67.2 367.8,67.6 368.2,66.7 368.6,65.8 369.9,65.8 370.0,64.6 369.1,62.8 371.6,63.2 370.5,61.6 370.9,60.8 371.6,60.2 373.4,60.1 373.1,59.0 371.6,57.8 374.1,56.5 372.1,56.8 372.8,55.2 372.9,54.0 370.1,54.9 372.2,52.3 369.0,53.5 370.9,52.1 369.9,51.2 369.8,50.3 369.5,49.3 369.1,48.4 370.7,47.7 369.7,46.6 367.3,45.3 370.0,44.9 371.8,44.2 370.8,43.2 370.3,41.8 369.3,42.2 369.7,43.6 369.3,44.5 368.5,45.0 368.6,46.1 367.5,46.5 365.9,46.4 368.6,49.6 365.9,48.6 365.8,49.8 363.7,49.0 364.6,51.1 363.3,51.1 362.5,51.6 362.6,53.0 361.6,53.2 361.4,54.6 361.3,56.1 359.4,54.7 358.4,54.9 358.7,56.9 357.7,57.1 356.5,57.9 355.6,56.8 354.7,56.7 353.8,57.4 352.9,55.1 351.9,57.0 351.0,56.7 350.3,56.3 349.0,57.5 348.0,57.5 348.0,54.9 347.1,54.9 345.9,55.4 345.4,54.1 343.9,55.5 343.2,54.9 342.5,54.2 343.0,50.4 340.4,54.7 339.5,54.6 339.4,52.1 338.5,52.0 338.1,50.6 336.5,52.3 335.8,51.4 334.6,52.3 334.3,50.2 333.8,49.0 331.1,52.5 332.3,49.7 330.6,49.5 334.1,46.7 331.3,47.1 330.6,46.4 328.5,46.7 328.6,46.1 328.8,44.1 327.0,45.3 327.3,43.0 326.3,42.9 325.3,43.3 324.2,42.6 323.5,43.4 322.7,44.4 321.4,42.6 320.7,43.4 319.5,42.4 318.6,42.3 318.5,44.7 318.7,45.6 320.3,45.8 320.3,46.8 319.1,48.5 320.5,48.9 321.0,49.7 321.3,50.7 323.5,49.4 324.0,50.3 323.7,52.0 325.6,51.1 326.2,52.9 325.2,53.5 325.2,54.6 323.2,54.2 323.0,55.2 322.9,56.3 322.3,57.1 321.2,56.7 320.3,57.1 319.5,57.4 318.7,57.3 317.8,59.6 316.9,58.0 316.0,58.3 315.1,57.5 314.2,57.5 313.2,56.8 312.3,59.4 311.4,57.8 310.5,57.3 309.5,57.0 308.1,57.1 307.1,57.4 306.7,58.3 307.1,60.1 306.6,61.0 305.1,60.6 305.1,62.0 303.9,62.0 302.2,61.2 302.5,63.1 302.0,63.9 301.8,65.2 301.5,65.1 301.1,65.8 301.0,66.7 301.7,67.6 300.1,68.5 300.2,69.4 299.7,69.9 299.3,70.7 299.4,71.9 298.3,72.2 298.0,73.1"/><polyline stroke-width="1" stroke-linejoin="round" points="547.4,219.4 546.2,219.3 547.6,216.7 544.2,218.8 544.4,217.3 544.2,216.3 542.6,216.5 543.0,214.9 545.0,212.2 540.8,214.4 540.9,213.2 541.0,211.9 540.1,211.5 539.9,210.5 538.3,210.6 538.8,209.1 538.1,208.5 537.2,208.1 535.6,208.2 536.0,206.6 535.2,206.1 534.2,205.9 532.0,206.8 533.0,204.5 532.5,203.8 532.5,202.4 530.5,203.2 530.2,202.2 529.7,201.5 530.8,199.2 528.8,199.8 528.5,198.9 528.0,198.1 527.5,197.4 526.2,197.3 526.6,195.8 524.9,196.0 524.1,195.5 522.9,195.3 523.0,194.0 523.0,192.9 522.4,192.1 523.4,191.0 523.6,190.1 522.8,189.3 521.6,188.6 522.6,187.5 521.6,186.7 524.0,185.4 521.5,185.1 521.3,184.2 520.3,184.0 519.4,183.6 519.2,182.4 518.4,182.0 518.0,181.0 517.0,180.8 516.4,180.0 515.3,180.1 514.9,179.0 513.3,180.1 513.5,178.5 512.9,177.8 511.9,177.3 511.6,176.4 510.5,176.0 511.9,174.2 510.8,173.8 510.0,173.2 509.4,172.5 510.2,171.1 508.0,171.1 508.1,170.1 506.8,169.6 507.7,168.3 507.0,167.6 506.6,166.8 506.6,165.8 506.8,164.8 507.3,163.6 505.5,163.4 503.9,163.3 505.3,161.4 505.2,160.4 503.9,160.2 503.4,159.4 503.6,158.2 501.8,158.2 502.0,157.1 500.6,157.2 501.4,155.2 501.2,153.8 498.7,156.0 499.1,153.7 496.7,155.9 497.1,153.4 497.6,150.9 495.7,152.4 493.4,154.4 494.3,151.2 493.7,150.4 492.9,150.1 492.8,148.7 490.0,150.9 492.0,146.8 489.7,148.3 489.0,147.7 488.7,146.6 488.0,146.1 487.8,144.9 485.9,145.8 484.5,146.1 485.7,143.1 483.4,144.7 483.3,143.4 482.4,143.0 481.7,142.4 481.7,141.0 480.0,141.6 479.4,140.9 479.1,139.8 479.0,138.3 477.7,138.9 476.9,138.4 476.0,138.2 475.7,136.7 475.1,136.8 474.1,136.1 475.3,134.9 475.7,133.9 474.3,133.3 473.5,132.6 472.8,131.8 473.8,130.6 472.3,130.1 472.5,129.1 472.7,128.1 472.2,127.3 471.4,126.6 471.7,125.6 473.0,124.4 472.5,123.5 470.8,123.0 470.6,122.1 470.1,121.3 470.3,120.3 470.5,119.4 469.7,118.6 472.4,117.1 470.6,116.6 468.9,116.3 470.1,114.7 468.6,114.4 469.0,113.2 467.1,113.1 468.5,111.4 468.8,110.3 469.3,109.1 467.0,109.1 467.3,108.0 466.3,107.4 465.7,106.6 464.4,106.5 464.9,105.0 463.5,104.9 463.0,104.0 463.9,103.1 464.3,102.3 462.4,101.2 463.0,100.4 463.0,99.5 464.5,98.7 463.5,97.7 464.4,96.8 464.1,95.9 463.2,95.1 463.0,94.2 462.9,93.3 463.7,92.3 463.7,91.4 463.4,90.5 462.9,89.7 462.2,89.1 461.9,88.2 461.3,87.5 460.7,86.8 461.2,84.9 459.2,85.8 458.3,85.5 458.3,84.0 457.3,83.8 455.1,85.4 455.5,83.2 455.1,82.2 454.3,81.7 453.6,81.1 452.5,81.1 451.6,81.3 450.9,82.0 449.6,80.9 449.2,82.7 450.1,81.4 449.0,80.8 447.9,80.2 447.4,79.4 445.2,79.2 446.4,77.8 448.2,76.3 446.0,76.0 445.2,75.2 446.2,74.1 449.2,72.8 441.7,73.0 446.1,71.4 444.3,70.8 445.1,69.8 442.5,69.2 445.5,67.9 444.0,67.2 445.6,66.0 445.6,65.1 444.4,64.5 445.3,63.2 444.1,62.6 444.7,61.4 444.4,60.6 442.2,60.5 443.9,58.8 442.6,58.4 442.9,57.3 442.0,56.7 441.1,56.1 440.6,55.3 439.8,54.7 440.3,53.5 439.1,53.0 439.3,52.0 439.6,50.8 438.5,50.3 438.5,49.3 437.4,48.9 437.5,47.8 440.0,45.7 437.8,45.7 435.8,45.6 436.3,44.4 436.2,43.5 435.4,42.8 434.6,42.2 436.0,40.6 436.0,39.6 433.7,39.6 433.8,38.4 432.8,38.4 432.9,36.1 431.2,37.5"/><polyline stroke-width="1" stroke-linejoin="round" points="430.6,37.2 430.9,38.4 430.3,39.1 430.1,40.0 429.5,40.7 429.2,41.6 428.6,42.3 427.6,43.0 428.9,44.2 428.2,45.0 428.5,46.0 428.5,46.9 426.8,47.5 427.1,48.5 427.0,49.4 426.4,50.2 427.8,51.4 427.3,52.2 426.8,53.1 426.4,53.9 429.0,55.6 425.1,55.4 426.8,56.9 425.8,57.5 425.2,58.3 425.3,59.3 424.0,59.8 424.4,60.9 424.1,61.7 423.7,62.5 423.3,63.4 424.8,64.5 423.2,65.2 423.3,66.2 423.1,67.0 424.0,68.0 423.4,68.9 423.0,69.8 423.4,70.7 423.1,71.6 423.3,72.5 422.6,73.4 422.6,74.3 422.7,75.2 422.7,76.1 422.5,77.0 422.8,77.9 422.2,78.8 423.0,79.7 422.8,80.6 422.6,81.5 422.8,82.4 422.5,83.4 423.6,84.2 422.7,85.2 423.6,86.0 422.5,87.0 423.6,87.8 423.9,88.7 423.4,89.7 423.4,90.6 423.0,91.5 423.6,92.3 423.5,93.2 424.1,94.2 422.9,95.0 422.4,95.9 426.4,97.2 420.2,97.5 422.7,98.6 423.1,99.6 423.3,100.5 422.9,101.4 422.8,102.3 422.6,103.2 422.8,104.1 422.2,104.9 422.1,105.8 421.5,106.6 423.5,108.2 421.1,108.4 421.2,109.4 421.8,110.5 421.6,111.4 420.3,111.9 420.5,112.9 419.6,113.6 419.1,114.4 418.8,115.3 419.2,116.3 418.8,117.2 418.3,118.0 417.6,118.6 417.7,119.8 417.0,120.4 416.2,120.9 415.8,121.7 416.1,123.0 415.0,123.4 413.8,123.7 413.7,124.7"/><polyline stroke-width="1" stroke-linejoin="round" points="332.7,299.9 332.8,300.8 334.2,301.4 333.6,302.5 333.3,303.5 333.6,304.4 338.1,304.4 335.6,305.0 335.7,306.2 335.9,307.5 336.8,307.8 338.0,307.8 338.2,309.0 338.6,310.0 339.1,310.5 340.0,310.9 341.3,311.0 342.0,311.6 344.6,310.6 343.4,312.8 343.8,313.7 343.5,315.1 344.4,315.6 345.6,315.7 345.7,316.9 346.1,317.7 346.5,318.5 347.4,319.0 348.1,319.6 348.8,320.3 349.1,321.2 349.0,322.4 348.7,323.7 351.3,323.0 351.2,324.2 351.8,324.9 352.1,325.8 352.7,326.5 355.3,326.2 353.6,328.1 353.4,329.2 354.2,329.9 354.7,330.6 355.7,331.1 354.8,332.6 355.4,333.4 356.8,333.5 357.0,334.6 357.8,335.0 358.9,335.2 358.9,336.5 360.4,336.3 360.4,337.5 361.7,338.7 361.3,337.4 361.5,336.5 363.2,336.4 362.5,334.9 361.9,333.5 362.9,333.0 364.5,333.0 364.7,332.0"/><polyline stroke-width="1" stroke-linejoin="round" points="417.0,378.1 417.9,378.2 418.7,378.6 419.7,378.6 420.3,379.9 421.5,378.8 422.1,380.1 423.0,380.0 424.0,379.8 424.8,380.4 425.8,380.1 426.7,380.2 427.5,380.7 428.3,381.2 429.2,381.2 430.2,380.9 431.0,381.6 431.9,381.8 432.9,381.7 433.0,383.3 434.1,383.2 434.7,384.0 435.9,383.6 436.9,383.8 437.3,384.9 438.3,384.8 439.0,385.4 439.7,386.2 440.5,386.7 441.5,386.6 442.5,386.4 443.2,387.2 444.1,387.2 445.3,388.0 445.6,386.8 446.7,386.8 447.3,386.2 448.3,386.0 448.4,384.5 449.8,385.0 450.4,384.2 450.9,383.4 451.6,382.9 451.9,381.9 452.9,381.5 453.6,381.9 454.5,382.1 455.5,382.0 456.3,382.4 457.1,383.0 458.0,383.1 458.9,383.0 459.8,382.4 460.7,383.0 461.6,382.7 462.6,383.2 463.4,382.9 464.0,383.0 465.0,383.0 466.2,382.9 466.6,383.9 468.2,383.0 467.9,385.2 469.1,385.0 469.6,385.9 470.5,386.2 471.4,386.5 471.5,387.8 472.5,388.1 473.1,388.8 473.9,389.0 474.8,388.8 475.0,387.4 476.3,387.7 477.2,387.5 477.5,386.5 477.7,385.6 478.2,384.8 478.4,383.9 479.1,383.3 479.4,382.3 480.0,381.6 480.9,381.4 481.5,380.7 482.1,379.9 482.9,379.6 483.6,379.0 484.2,378.2 485.2,378.3 486.2,378.2 486.7,377.3 488.2,378.1 488.3,376.4 489.0,375.7 490.0,375.7 491.1,376.2 491.6,374.7 492.7,375.1 493.7,375.5 494.6,375.2 495.4,374.9 496.3,374.9 497.1,374.3 497.9,373.9 498.9,373.9 499.6,373.1 500.5,373.0 501.5,373.3 502.4,373.4 503.1,372.4 504.0,372.1 505.1,372.7 505.9,372.3 506.8,372.5 507.6,371.7 508.6,372.0 509.3,371.2 510.1,370.4 511.1,370.9 511.7,370.2 513.1,370.3 513.3,369.3 513.5,368.2 513.4,366.9 514.6,366.9 515.1,366.1 515.4,365.3 516.2,364.6 516.2,363.7 515.5,362.5 516.2,361.8 516.5,360.9 517.0,360.1 517.2,359.3 517.5,358.4 518.2,357.7 517.6,356.6 518.1,355.8 518.5,355.0 518.9,354.1 519.1,353.3 519.3,352.4 520.0,351.7 520.1,350.7 520.7,350.0 521.2,349.2 521.2,348.2 521.1,347.3 520.6,346.2 521.8,345.6 521.3,344.6 522.1,343.8 521.6,342.8 522.2,342.0 523.4,341.4 522.5,340.2 523.2,339.5 522.7,338.4 523.2,337.6 523.1,336.7 524.2,336.0 524.1,335.0 524.2,334.1 524.2,333.2 525.0,332.5 524.8,331.5 525.6,330.8 525.6,329.9 525.7,329.0 526.2,328.2 527.5,327.7 526.4,326.3 526.8,325.5 527.3,324.7 527.0,323.6 527.5,322.8 529.7,323.0 528.5,321.3 528.8,320.4 530.0,320.1 530.4,319.3 530.8,318.5 531.2,317.6 531.0,316.5 532.2,316.2 532.4,315.2 533.5,314.9 533.9,314.1 534.2,313.1 534.7,312.4 535.1,311.6 536.3,311.3 536.7,310.5 536.7,309.4 538.0,309.3 537.5,307.8 537.0,306.6 538.8,306.5 539.2,305.7 539.9,305.0 540.0,304.1 539.8,303.0 540.7,302.4 541.5,301.8 540.7,300.4 541.7,299.9 542.4,299.3 542.6,298.4 543.3,297.7 542.9,296.6 544.4,296.1 544.4,295.2 543.8,294.1 543.9,293.2 544.9,292.5 545.2,291.7 545.5,290.8 545.8,290.0 546.0,289.1 545.9,288.1 546.3,287.3 547.0,286.6 546.6,285.5 546.7,284.6 548.0,284.0 547.6,283.0 547.8,282.1 548.4,281.3 548.1,280.3 547.9,279.4 549.2,278.7 547.9,277.5 548.7,276.8 550.0,276.1 548.9,275.0 549.0,274.1 549.2,273.2 550.3,272.5 549.6,271.5 548.6,270.4 549.8,269.7 550.7,268.9 550.8,268.0 550.5,267.0 551.5,266.3 551.1,265.3 550.8,264.4 551.5,263.6 551.2,262.6 551.9,261.8 552.6,261.0 552.0,260.0"/><polyline stroke-width="1.6" points="114.2,212.5 113.6,217 114.8,222"/><polyline stroke-width="1.8" points="116.5,220.5 118.5,225.5 121.5,229 122.8,233"/><polyline stroke-width="1.3" points="119.5,222 120.5,226.5"/><polyline stroke-width="1.4" points="127.5,175.5 128.3,179 130,182.5"/></g>
<rect x="537" y="233.3" width="16.8" height="23.3" fill="none" stroke="#000" stroke-width="1.1"/>
<rect x="452.4" y="371.8" width="10.9" height="11.5" fill="none" stroke="#000" stroke-width="1.1"/>
<g id="perth"><clipPath id="cperth"><rect x="11.5" y="268.5" width="83.0" height="104.5"/></clipPath>
<rect x="11.5" y="268.5" width="83.0" height="104.5" fill="#f5840a" stroke="none"/>
<g clip-path="url(#cperth)" shape-rendering="crispEdges">
<polygon class="b" fill="#ffffff" points="8.0,264.0 36.7,268.5 37.8,276.3 40.9,282.5 41.9,290.7 41.9,301.0 42.9,311.2 41.9,317.4 43.9,323.5 40.9,329.7 36.7,334.8 39.8,337.9 42.9,344.1 45.0,352.3 46.0,360.5 47.0,375.9 8.0,375.9"/>
<polygon class="b" fill="#f7a857" points="36.7,268.5 49.1,268.5 54.2,278.4 55.2,285.6 41.9,287.0 40.9,282.5 37.8,276.3"/>
<polygon class="b" fill="#ff0000" points="49.1,268.5 67.5,268.5 67.5,288.6 63.4,286.6 55.2,285.6 54.2,278.4"/>
<polygon class="b" fill="#f5840a" points="67.5,268.5 95.3,268.5 95.3,304.0 90.1,305.1 87.1,296.9 78.8,295.8 77.8,293.8 69.6,292.7 67.5,288.6"/>
<polygon class="b" fill="#f5840a" points="41.9,287.0 55.2,285.6 63.4,286.6 67.5,288.6 69.6,292.7 68.6,302.0 57.3,303.0 56.3,308.1 52.1,310.2 42.9,312.3 41.9,301.0"/>
<polygon class="b" fill="#ff0000" points="69.6,292.7 77.8,293.8 78.8,295.8 77.8,304.0 82.9,304.0 87.1,296.9 90.1,305.1 88.1,318.4 77.8,319.4 80.9,323.5 75.8,331.8 77.8,343.1 73.7,347.2 68.6,340.0 66.5,330.7 62.4,329.7 59.3,325.6 62.4,317.4 67.5,316.4 66.5,313.3 59.3,316.4 55.2,318.4 53.2,314.3 52.1,310.2 56.3,308.1 57.3,303.0 68.6,302.0"/>
<polygon class="b" fill="#f5840a" points="78.8,295.8 87.1,296.9 82.9,304.0 77.8,304.0"/>
<polygon class="b" fill="#f5840a" points="42.9,312.3 52.1,310.2 53.2,314.3 55.2,318.4 52.1,322.5 46.0,323.5 43.9,323.5 41.9,317.4"/>
<polygon class="b" fill="#ff0000" points="43.9,318.4 48.0,316.4 49.1,321.5 45.0,323.5"/>
<polygon class="b" fill="#f5840a" points="40.9,329.7 43.9,323.5 49.1,326.6 48.0,330.7 43.9,329.7"/>
<polygon class="b" fill="#ff0000" points="37.8,333.8 43.9,329.7 48.0,330.7 49.1,335.9 46.0,340.0 40.9,337.9"/>
<polygon class="b" fill="#f7a857" points="48.0,330.7 49.1,326.6 54.2,327.7 59.3,325.6 62.4,329.7 65.5,335.9 67.5,341.0 58.3,342.0 49.1,335.9"/>
<polygon class="b" fill="#f5840a" points="40.9,337.9 46.0,340.0 49.1,335.9 58.3,342.0 67.5,341.0 68.6,340.0 73.7,347.2 70.6,353.3 69.6,374.9 47.0,374.9 46.0,360.5 45.0,352.3 42.9,344.1"/>
<polygon class="b" fill="#f7a857" points="90.1,305.1 95.3,304.0 95.3,325.6 89.1,325.6 87.1,321.5 88.1,318.4"/>
<polygon class="b" fill="#f5840a" points="80.9,323.5 77.8,319.4 88.1,318.4 87.1,321.5 89.1,325.6 95.3,325.6 95.3,345.1 85.0,353.3 77.8,346.1 77.8,343.1 75.8,331.8"/>
<polygon class="b" fill="#ff0000" points="73.7,347.2 77.8,343.1 77.8,346.1 85.0,353.3 95.3,345.1 95.3,374.9 69.6,374.9 70.6,353.3"/>
<polygon class="b" fill="#ffffff" points="45.0,324.0 48.0,321.1 52.1,322.5 55.6,317.8 59.3,315.7 66.5,312.9 68.0,315.7 63.4,317.8 61.8,322.5 59.3,326.0 54.2,328.1 50.1,327.2 48.0,325.6"/>
<polygon class="b" fill="#f5840a" points="22.4,360.5 25.5,360.1 27.5,374.9 24.4,374.9"/>
<polyline class="ln" points="47.0,365.6 95.3,366.7"/>
<polyline class="ln" points="69.6,325.6 77.8,319.4"/>
<polyline class="ln" points="66.5,330.7 75.8,331.8"/>
<polyline class="ln" points="68.6,302.0 69.6,311.2 66.5,313.3"/>
<polyline class="ln" points="69.6,311.2 77.8,304.0"/>
</g>
<rect x="11.5" y="268.5" width="83.0" height="104.5" fill="none" stroke="#000" stroke-width="1"/>
<polyline class="ln" points="28.1,350.2 28.1,354.3 50.7,354.3 50.7,350.2"/>
<line class="ln" x1="39.4" y1="352.3" x2="39.4" y2="354.3"/>
<text class="s" x="25.8" y="346.5">0</text>
<text class="s" x="45.8" y="346.5">10</text>
<text class="s" x="16.6" y="368.1">Kilometres</text>
</g>
<g id="adel"><clipPath id="cadel"><rect x="201.5" y="342.5" width="90.5" height="86.5"/></clipPath>
<rect x="201.5" y="342.5" width="90.5" height="86.5" fill="#f7a857" stroke="none"/>
<g clip-path="url(#cadel)" shape-rendering="crispEdges">
<polygon class="b" fill="#ffffff" points="197.9,339.9 216.8,340.9 214.8,351.8 213.8,361.7 215.8,371.7 218.8,383.6 221.7,393.5 223.7,403.4 224.7,415.3 225.7,431.2 197.9,431.2"/>
<polygon class="b" fill="#f5840a" points="216.8,340.9 223.7,340.9 224.7,349.8 220.7,359.8 215.8,364.7 213.8,361.7 214.8,351.8"/>
<polygon class="b" fill="#f5840a" points="223.7,342.5 224.7,349.8 229.7,350.8 233.6,346.9 235.6,351.8 245.5,356.8 257.4,359.8 264.4,361.7 266.4,367.7 261.4,372.6 255.5,373.6 251.5,372.6 243.6,370.7 242.6,376.6 232.6,368.7 230.7,363.7 226.7,368.7 220.7,359.8 224.7,349.8"/>
<polygon class="b" fill="#cccccc" points="223.7,340.9 232.6,340.9 233.6,346.9 229.7,350.8 225.7,348.8"/>
<polygon class="b" fill="#f7a857" points="215.8,364.7 220.7,359.8 226.7,368.7 230.7,363.7 232.6,368.7 242.6,376.6 243.6,382.6 232.6,385.5 222.7,387.5 218.8,383.6 215.8,371.7"/>
<polygon class="b" fill="#f5840a" points="243.6,370.7 251.5,372.6 255.5,373.6 251.5,378.6 244.5,379.6 242.6,376.6"/>
<polygon class="b" fill="#ff0000" points="244.5,380.6 251.5,379.6 253.5,387.5 254.5,393.5 244.5,393.5 243.2,387.5"/>
<polygon class="b" fill="#ff0000" points="253.5,379.6 258.4,375.6 263.4,375.2 263.8,384.5 259.4,385.5 258.4,390.5 254.5,389.5 252.5,383.6"/>
<polygon class="b" fill="#f5840a" points="259.4,385.5 263.8,384.5 270.3,383.6 273.3,384.5 276.3,388.5 271.3,391.5 268.3,395.5 271.3,399.4 272.3,405.4 268.3,404.4 264.4,403.4 261.4,397.4 258.4,390.5"/>
<polygon class="b" fill="#f5840a" points="222.7,387.5 232.6,385.5 243.6,382.6 243.2,387.5 244.5,393.5 240.6,397.4 228.7,405.4 224.7,401.4 221.7,393.5"/>
<polygon class="b" fill="#f5840a" points="244.5,393.5 254.5,393.5 258.4,390.5 261.4,397.4 257.4,401.4 241.6,401.4 240.6,397.4"/>
<polygon class="b" fill="#f5840a" points="224.7,401.4 228.7,405.4 240.6,397.4 241.6,401.4 240.6,413.3 239.6,421.2 232.6,427.2 225.7,431.2 224.7,415.3 223.7,403.4"/>
<polygon class="b" fill="#fadc7d" points="236.6,423.2 239.6,421.2 264.4,425.2 268.3,423.2 269.3,431.2 238.6,431.2"/>
<polyline class="ln" points="269.3,340.9 267.4,351.8 266.4,367.7"/>
<polyline class="ln" points="289.2,349.8 288.2,366.7 289.2,366.7 294.1,369.7"/>
<polyline class="ln" points="266.4,367.7 277.3,365.7 281.2,367.7 289.2,366.7"/>
<polyline class="ln" points="281.2,367.7 277.3,377.6 272.3,378.6 270.3,383.6"/>
<polyline class="ln" points="241.6,401.4 257.4,401.4 264.4,403.4"/>
<polyline class="ln" points="272.3,405.4 269.3,413.3 268.3,423.2"/>
<polyline class="ln" points="255.5,373.6 261.4,372.6"/>
<polyline class="ln" points="258.4,375.6 255.5,373.6"/>
</g>
<rect x="201.5" y="342.5" width="90.5" height="86.5" fill="none" stroke="#000" stroke-width="1"/>
<polyline class="ln" points="258.4,408.3 258.4,411.9 273.3,411.9 273.3,408.3"/>
<line class="ln" x1="265.8" y1="409.9" x2="265.8" y2="411.9"/>
<text class="s" x="255.5" y="402.5">0</text>
<text class="s" x="270.6" y="402.5">5</text>
<text class="s" x="243.6" y="425.6">Kilometres</text>
<line x1="292" y1="342" x2="292" y2="429.5" stroke="#000" stroke-width="2"/>
</g>
<g id="melb"><clipPath id="cmelb"><rect x="342.5" y="407.5" width="103.0" height="91.0"/></clipPath>
<rect x="342.5" y="407.5" width="103.0" height="91.0" fill="#f7a857" stroke="none"/>
<g clip-path="url(#cmelb)" shape-rendering="crispEdges">
<polygon class="b" fill="#f7a857" points="342.6,407.5 354.5,407.5 353.6,413.0 350.9,417.6 346.3,416.7 342.6,417.6"/>
<polygon class="b" fill="#f5840a" points="354.5,407.5 383.0,407.5 383.0,415.8 353.6,413.0"/>
<polygon class="b" fill="#ff0000" points="353.6,413.0 383.0,415.8 387.6,418.5 389.5,419.5 385.8,423.1 384.9,426.8 387.6,429.6 380.3,434.2 369.3,442.4 361.9,439.7 354.5,434.2 353.6,425.9 350.9,417.6"/>
<polygon class="b" fill="#fadc7d" points="341.7,417.6 346.3,416.7 350.9,417.6 353.6,425.9 354.5,434.2 361.9,439.7 369.3,442.4 363.7,446.1 358.2,448.9 356.4,452.6 350.9,453.5 345.4,454.4 341.7,457.2"/>
<polygon class="b" fill="#ffffff" points="369.3,442.4 380.3,434.2 387.6,429.6 388.6,425.9 393.2,424.1 398.7,424.1 401.4,426.8 405.1,432.3 408.8,436.9 413.4,441.5 418.9,448.0 421.7,455.3 420.7,460.8 418.0,465.4 413.4,470.9 408.8,475.5 406.9,481.1 403.3,485.7 398.7,488.4 393.2,489.3 389.5,492.1 386.7,493.9 391.3,497.6 395.0,500.4 341.7,500.4 341.7,457.2 345.4,454.4 350.9,453.5 356.4,452.6 358.2,448.9 363.7,446.1"/>
<polygon class="b" fill="#fadc7d" points="341.7,462.7 349.0,461.8 354.5,462.7 358.2,459.9 365.6,457.2 372.9,457.2 377.5,459.9 377.5,465.4 373.9,470.9 370.2,474.6 365.6,476.5 356.4,477.4 349.0,479.2 341.7,482.0"/>
<polygon class="b" fill="#f5840a" points="341.7,475.5 346.3,475.5 346.3,480.1 341.7,482.0"/>
<polygon class="b" fill="#f7a857" points="383.0,407.5 393.2,407.5 393.2,412.1 392.2,416.7 396.8,419.5 389.5,419.5 387.6,418.5 383.0,415.8"/>
<polygon class="b" fill="#ff0000" points="393.2,412.1 396.8,411.2 399.6,414.9 403.3,414.0 406.9,416.7 409.7,420.4 413.4,424.1 415.2,425.9 410.6,425.0 408.8,426.8 405.1,425.9 402.4,420.4 399.6,421.3 396.8,419.5 392.2,416.7"/>
<polygon class="b" fill="#f5840a" points="406.9,413.0 417.1,414.0 418.0,422.2 413.4,424.1 409.7,420.4 406.9,416.7"/>
<polygon class="b" fill="#f5840a" points="418.0,423.1 428.1,423.1 429.0,432.3 418.9,432.3 417.1,427.7"/>
<polygon class="b" fill="#f5840a" points="408.8,426.8 410.6,425.0 415.2,425.9 417.1,427.7 418.9,432.3 413.4,432.3 410.6,429.6"/>
<polygon class="b" fill="#ffffff" points="429.9,474.6 435.4,471.9 441.0,472.8 446.5,470.0 446.5,500.4 433.6,500.4 431.8,492.1 429.0,484.7 429.9,479.2"/>
<polygon class="b" fill="#cccccc" points="438.4,481.1 441.9,480.5 444.6,483.4 444.8,496.1 441.9,496.1 437.8,494.7 438.2,485.7"/>
<polyline class="ln" points="419.8,407.5 420.7,433.3"/>
<polyline class="ln" points="431.8,407.5 432.7,433.3"/>
<polyline class="ln" points="440.0,407.5 441.0,433.3"/>
<polyline class="ln" points="406.9,413.0 446.5,415.8"/>
<polyline class="ln" points="418.0,423.1 446.5,424.1"/>
<polyline class="ln" points="413.4,432.3 446.5,434.2"/>
<polyline class="ln" points="413.4,441.5 422.6,441.5 433.6,445.2 446.5,443.4"/>
<polyline class="ln" points="422.6,441.5 423.5,453.5 421.7,455.3"/>
<polyline class="ln" points="433.6,434.2 433.6,445.2 432.7,462.7 435.4,471.9"/>
<polyline class="ln" points="423.5,453.5 432.7,455.3"/>
<polyline class="ln" points="418.0,465.4 424.4,469.1 432.7,462.7"/>
<polyline class="ln" points="401.4,407.5 402.4,414.0"/>
</g>
<rect x="342.5" y="407.5" width="103.0" height="91.0" fill="none" stroke="#000" stroke-width="1"/>
<polyline class="ln" points="366.5,475.5 366.5,478.9 391,478.9 391,475.5"/>
<line class="ln" x1="378.7" y1="476.9" x2="378.7" y2="478.9"/>
<text class="s" x="362.8" y="472">0</text>
<text class="s" x="384.8" y="472">20</text>
<text class="s" x="355.8" y="493.4">Kilometres</text>
</g>
<g id="syd"><clipPath id="csyd"><rect x="569.5" y="304.5" width="127.5" height="119.0"/></clipPath>
<rect x="569.5" y="304.5" width="127.5" height="119.0" fill="#f7a857" stroke="none"/>
<g clip-path="url(#csyd)" shape-rendering="crispEdges">
<polygon class="b" fill="#ffffff" points="688.5,302.3 687.4,310.4 683.9,313.8 685.1,320.8 680.5,323.1 679.3,328.8 685.1,331.1 683.9,338.1 680.5,336.9 678.2,340.4 679.3,349.6 678.2,360.0 675.9,369.2 671.2,372.6 672.4,379.6 672.4,388.8 670.1,399.2 666.6,402.6 663.2,401.5 662.0,392.3 659.7,387.6 652.8,392.3 647.0,388.8 643.6,391.1 641.3,396.9 634.3,401.5 632.0,406.1 633.2,413.0 637.8,415.3 643.6,409.5 651.6,408.4 658.6,410.7 659.7,415.3 643.6,418.8 635.5,419.9 633.2,425.7 700.1,425.7 700.1,302.3"/>
<polygon class="b" fill="#ff0000" points="574.4,321.9 588.2,319.6 589.4,325.4 597.4,327.7 606.7,321.9 615.9,319.6 618.2,323.1 612.4,328.8 611.3,338.1 595.1,342.7 594.0,355.4 585.9,351.9 588.2,341.5 585.9,333.4 580.1,331.1 574.4,326.5"/>
<polygon class="b" fill="#f5840a" points="567.5,328.8 574.4,326.5 580.1,331.1 585.9,333.4 588.2,341.5 585.9,351.9 579.0,355.4 573.2,349.6 567.5,348.4"/>
<polygon class="b" fill="#fadc7d" points="567.5,348.4 573.2,349.6 579.0,355.4 582.5,363.4 580.1,368.0 567.5,369.2"/>
<polygon class="b" fill="#f5840a" points="618.2,323.1 625.1,316.1 633.2,321.9 635.5,328.8 633.2,336.9 629.7,342.7 622.8,343.8 615.9,340.4 611.3,338.1 612.4,328.8"/>
<polygon class="b" fill="#f5840a" points="635.5,328.8 645.9,324.2 656.3,323.1 657.4,330.0 655.1,336.9 648.2,341.5 642.4,338.1 636.6,333.4"/>
<polygon class="b" fill="#f5840a" points="633.2,336.9 636.6,333.4 642.4,338.1 648.2,341.5 644.7,345.0 637.8,342.7 632.0,343.8 629.7,342.7"/>
<polygon class="b" fill="#f5840a" points="595.1,342.7 611.3,338.1 615.9,340.4 614.7,349.6 609.0,351.9 609.0,361.1 603.2,363.4 594.0,355.4"/>
<polygon class="b" fill="#ff0000" points="615.9,340.4 622.8,343.8 629.7,342.7 632.0,343.8 637.8,342.7 644.7,345.0 648.2,341.5 655.1,336.9 657.4,330.0 659.7,323.1 664.3,327.7 678.2,325.4 679.3,328.8 685.1,331.1 683.9,338.1 680.5,336.9 678.2,340.4 679.3,349.6 678.2,360.0 675.9,369.2 671.2,372.6 665.5,368.0 662.0,364.6 656.3,369.2 655.1,375.0 643.6,373.8 640.1,379.6 633.2,375.0 632.0,368.0 620.5,365.7 612.4,370.3 609.0,361.1 609.0,351.9 614.7,349.6"/>
<polygon class="b" fill="#ffffff" points="658.6,349.6 665.5,345.0 668.9,339.2 670.1,334.6 678.2,332.3 680.5,336.9 678.2,340.4 675.9,343.8 668.9,345.0 668.9,348.4 664.3,353.0 659.7,353.0"/>
<polygon class="b" fill="#f7a857" points="612.4,370.3 620.5,365.7 632.0,368.0 633.2,375.0 626.3,380.7 617.0,383.0 604.4,385.3 602.1,379.6 607.8,375.0"/>
<polygon class="b" fill="#f5840a" points="604.4,385.3 617.0,383.0 626.3,380.7 633.2,375.0 640.1,379.6 643.6,373.8 655.1,375.0 659.7,377.3 659.7,387.6 652.8,392.3 647.0,388.8 643.6,391.1 641.3,396.9 634.3,401.5 626.3,401.5 617.0,402.6 609.0,400.3 602.1,399.2 600.9,395.7 604.4,392.3"/>
<polygon class="b" fill="#f5840a" points="655.1,375.0 656.3,369.2 662.0,364.6 665.5,368.0 671.2,372.6 672.4,379.6 672.4,388.8 670.1,399.2 666.6,402.6 663.2,401.5 662.0,392.3 659.7,387.6 659.7,377.3"/>
<polygon class="b" fill="#fadc7d" points="574.4,425.7 577.8,415.3 585.9,410.7 587.1,399.2 602.1,399.2 609.0,400.3 605.5,406.1 609.0,408.4 617.0,404.9 626.3,403.8 629.7,408.4 627.4,413.0 632.0,415.3 633.2,425.7"/>
<polygon class="b" fill="#fadc7d" points="637.8,415.3 643.6,409.5 651.6,408.4 658.6,410.7 659.7,415.3 643.6,418.8"/>
<polyline class="ln" points="570.5,304.6 574.4,321.9"/>
<polyline class="ln" points="602.1,304.6 606.7,321.9"/>
<polyline class="ln" points="618.2,304.6 621.7,313.8 625.1,316.1"/>
<polyline class="ln" points="645.9,304.6 649.3,313.8 656.3,323.1"/>
<polyline class="ln" points="633.2,321.9 640.1,318.5 647.0,313.8"/>
<polyline class="ln" points="579.0,355.4 585.9,351.9"/>
<polyline class="ln" points="582.5,363.4 585.9,369.2 580.1,378.4 587.1,394.6 587.1,399.2"/>
<polyline class="ln" points="594.0,355.4 603.2,363.4 609.0,361.1"/>
<polyline class="ln" points="603.2,363.4 607.8,375.0"/>
<polyline class="ln" points="622.8,343.8 620.5,365.7"/>
<polyline class="ln" points="632.0,343.8 627.4,366.9"/>
<polyline class="ln" points="643.6,373.8 644.7,357.7 656.3,369.2"/>
<polyline class="ln" points="644.7,357.7 637.8,355.4 633.2,368.0"/>
<polyline class="ln" points="644.7,357.7 652.8,349.6"/>
<polyline class="ln" points="662.0,364.6 675.9,360.0"/>
<polyline class="ln" points="617.0,383.0 621.7,392.3 617.0,402.6"/>
<polyline class="ln" points="626.3,380.7 633.2,389.9 641.3,396.9"/>
<polyline class="ln" points="655.1,375.0 652.8,392.3"/>
<polyline class="ln" style="stroke-width:2.2" points="613.6,342.7 616.6,346.1 619.4,345.0 621.7,348.4 624.4,347.3 626.3,350.3 629.7,347.3 632.0,348.9 634.3,346.1 637.8,348.4 640.1,345.7 643.6,347.3 645.9,345.7 648.2,349.6 652.8,348.0 656.3,350.3 658.6,349.6"/>
<polyline class="ln" style="stroke-width:2.0" points="602.1,399.2 604.4,401.5 606.7,399.6 609.0,402.6 612.4,401.0 615.2,404.2 618.2,402.6 621.7,404.9 624.4,403.3 627.4,406.5 630.9,405.6"/>
<polyline class="ln" style="stroke-width:1.6" points="605.5,404.9 607.8,408.4 606.7,413.0"/>
</g>
<rect x="569.5" y="304.5" width="127.5" height="119.0" fill="none" stroke="#000" stroke-width="1"/>
<polyline class="ln" points="669,402.2 678.2,402.2 678.2,398"/>
<text class="s" x="675" y="393.6">5</text><text class="s" x="659.5" y="393.6">0</text><text class="s" x="647.5" y="415.3">Kilometres</text>
<line x1="697" y1="304" x2="697" y2="424" stroke="#000" stroke-width="2"/>
</g>
<g id="bris"><clipPath id="cbris"><rect x="577.5" y="144.5" width="114.0" height="130.0"/></clipPath>
<rect x="577.5" y="144.5" width="114.0" height="130.0" fill="#f5840a" stroke="none"/>
<g clip-path="url(#cbris)" shape-rendering="crispEdges">
<polygon class="b" fill="#f7a857" points="614.2,142.5 660.2,142.5 659.0,158.6 656.5,163.6 659.0,171.1 662.7,177.3 663.9,182.2 656.5,183.5 652.8,187.2 654.0,193.4 657.7,195.9 655.3,202.1 660.2,205.9 662.7,209.6 659.0,212.1 654.0,208.3 649.0,214.6 642.8,218.3 640.3,224.5 632.9,220.8 629.2,217.0 630.4,209.6 627.9,202.1 629.2,193.4 625.4,184.7 622.9,169.8 624.2,159.9 621.7,152.4"/>
<polygon class="b" fill="#f7a857" points="640.3,224.5 642.8,218.3 649.0,214.6 654.0,208.3 659.0,212.1 662.7,209.6 666.4,214.6 670.2,222.0 673.9,229.5 678.9,234.4 680.1,244.4 682.6,256.8 687.6,269.2 691.3,275.4 665.2,275.4 663.9,256.8 662.7,246.9 656.5,249.3 647.8,249.3 644.1,244.4 636.6,244.4 634.1,238.2 640.3,233.2 644.1,227.0"/>
<polygon class="b" fill="#ffffff" points="660.2,142.5 659.0,158.6 656.5,163.6 659.0,171.1 662.7,177.3 663.9,182.2 656.5,183.5 652.8,187.2 654.0,193.4 657.7,195.9 655.3,202.1 660.2,205.9 662.7,209.6 666.4,214.6 670.2,222.0 673.9,229.5 678.9,234.4 680.1,244.4 682.6,256.8 687.6,269.2 691.3,275.4 695.0,275.4 695.0,142.5"/>
<polygon class="b" fill="#f7a857" points="676.4,177.3 681.3,176.0 681.3,187.2 682.6,200.9 678.9,198.4 677.6,187.2"/>
<polygon class="b" fill="#f7a857" points="681.3,205.9 687.6,209.6 684.3,219.5 681.8,231.9 679.4,235.7 678.9,222.0"/>
<polygon class="b" fill="#f7a857" points="655.3,163.6 659.0,162.4 660.2,171.1 662.7,177.3 659.0,177.3 656.5,169.8"/>
<polyline class="ln" points="575.7,207.1 589.4,205.9 599.3,208.3 608.0,213.3 611.8,220.8 620.5,219.5 627.9,215.8 630.4,209.6"/>
<polyline class="ln" points="583.2,143.7 585.7,154.9 583.2,164.9 586.9,174.8 584.4,183.5 588.2,189.7 585.7,198.4 589.4,205.9"/>
<polyline class="ln" points="611.8,220.8 604.3,229.5 601.8,239.4 603.1,249.3 599.3,253.1"/>
<polyline class="ln" points="575.7,236.9 583.2,246.9 589.4,251.8 599.3,253.1 586.9,254.3 575.7,253.1"/>
<polyline class="ln" points="604.3,229.5 611.8,234.4 634.1,238.2"/>
<polyline class="ln" points="624.2,159.9 630.4,157.4 637.9,161.1 640.3,169.8 651.5,171.1 655.3,163.6"/>
<polyline class="ln" points="642.8,218.3 654.0,222.0 662.7,227.0 670.2,222.0"/>
<polyline class="ln" points="662.7,227.0 665.2,233.2 662.7,246.9"/>
<polyline class="ln" points="649.0,214.6 651.5,204.6 655.3,202.1"/>
<polyline class="ln" points="599.3,253.1 603.1,275.4"/>
</g>
<rect x="577.5" y="144.5" width="114.0" height="130.0" fill="none" stroke="#000" stroke-width="1"/>
<polyline class="ln" points="599.8,251.8 599.8,255.6 614.2,255.6 614.2,251.8"/>
<line class="ln" x1="607" y1="253.6" x2="607" y2="255.6"/>
<text class="s" x="597.3" y="247.5">0</text>
<text class="s" x="609.4" y="247.5">20</text>
<text class="s" x="584.4" y="269.2">Kilometres</text>
</g>
<g id="legend">
<text class="t" x="22" y="15.2">Population Turnover (per 1000)</text>
<rect x="21.5" y="25" width="10.2" height="10.6" fill="#ff0000" stroke="#000" stroke-width="1"/>
<text class="t" x="39.5" y="34.6" xml:space="preserve">650 and over</text>
<rect x="21.5" y="40" width="10.2" height="10.1" fill="#f5840a" stroke="#000" stroke-width="1"/>
<text class="t" x="39.5" y="49.6" xml:space="preserve">500 &lt; 650</text>
<rect x="21.5" y="54.5" width="10.2" height="10.1" fill="#f7a857" stroke="#000" stroke-width="1"/>
<text class="t" x="39.5" y="64.1" xml:space="preserve">350 &lt; 500</text>
<rect x="21.5" y="69" width="10.2" height="10.1" fill="#fadc7d" stroke="#000" stroke-width="1"/>
<text class="t" x="39.5" y="78.6" xml:space="preserve">    0 &lt; 350</text>
<rect x="21.5" y="83.5" width="10.2" height="10.1" fill="#cccccc" stroke="#000" stroke-width="1"/>
<text class="t" x="39.5" y="93.1" xml:space="preserve">Unincorporated LGAs</text>
</g>
<g id="scale"><text class="t" x="5" y="518">0</text><text class="t" x="108.5" y="518">1000</text>
<polyline class="ln" style="stroke-width:1" points="7.5,526 7.5,531.5 120.5,531.5 120.5,526"/><line class="ln" style="stroke-width:1" x1="63.5" y1="528.5" x2="63.5" y2="531.5"/>
<text class="t" x="37.5" y="548.5">Kilometres</text></g>
<g id="footer"><text class="t" x="441" y="525.5">Based on Local Government Area Boundaries 2011</text>
<text class="t" x="441" y="537.5">Source: ABS, 2011 Census of Population and Housing</text>
<text class="t" x="441" y="549.5">© Commonwealth of Australia 2012</text></g>
</svg></body></html>
